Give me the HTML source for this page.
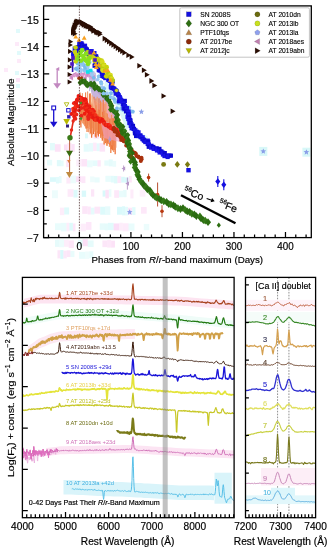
<!DOCTYPE html>
<html><head><meta charset="utf-8"><style>
html,body{margin:0;padding:0;background:#fff;width:330px;height:550px;overflow:hidden}
svg{display:block;filter:blur(0.3px)}
</style></head><body>
<svg width="330" height="550" viewBox="0 0 330 550">
<rect width="330" height="550" fill="#fff"/>
<rect x="50" y="142.97" width="4.89" height="7.38" fill="#d0f8f8" opacity="0.59"/><rect x="54.89" y="144.24" width="5.73" height="7.54" fill="#f9c8f0" opacity="0.5"/><rect x="63.98" y="144.45" width="3.25" height="6.01" fill="#f9c8f0" opacity="0.59"/><rect x="67.23" y="142.93" width="4.31" height="8.06" fill="#fbd6f4" opacity="0.52"/><rect x="71.54" y="144.06" width="3.15" height="7.78" fill="#f9c8f0" opacity="0.54"/><rect x="83.66" y="144.19" width="5.06" height="7.54" fill="#c4f6f8" opacity="0.44"/><rect x="88.72" y="143.08" width="4.34" height="8.45" fill="#c4f6f8" opacity="0.4"/><rect x="93.06" y="142.67" width="3.59" height="8.33" fill="#fbd6f4" opacity="0.49"/><rect x="96.65" y="143.36" width="2.95" height="7.79" fill="#c4f6f8" opacity="0.48"/><rect x="99.6" y="143.13" width="5.42" height="8.49" fill="#f9c8f0" opacity="0.5"/><rect x="47" y="159.79" width="5.16" height="5.65" fill="#d0f8f8" opacity="0.49"/><rect x="56.84" y="160.04" width="4.02" height="6.18" fill="#c4f6f8" opacity="0.52"/><rect x="60.86" y="160.49" width="2.75" height="5.77" fill="#c4f6f8" opacity="0.44"/><rect x="66.13" y="159.61" width="2.77" height="7.47" fill="#fbd6f4" opacity="0.64"/><rect x="76.2" y="159.28" width="5.3" height="6.97" fill="#fbd6f4" opacity="0.4"/><rect x="81.49" y="159.06" width="5.56" height="7.46" fill="#f9c8f0" opacity="0.48"/><rect x="87.05" y="160.28" width="5.51" height="6.98" fill="#d0f8f8" opacity="0.43"/><rect x="92.56" y="160.48" width="4.91" height="5.51" fill="#c4f6f8" opacity="0.42"/><rect x="97.46" y="160.23" width="3.3" height="6.26" fill="#fbd6f4" opacity="0.57"/><rect x="104.3" y="160.38" width="4.4" height="5.33" fill="#c4f6f8" opacity="0.39"/><rect x="108.7" y="159.36" width="4.12" height="7.05" fill="#d0f8f8" opacity="0.55"/><rect x="112.82" y="160.91" width="3.3" height="5.94" fill="#c4f6f8" opacity="0.36"/><rect x="50" y="177.23" width="5.94" height="4.63" fill="#c4f6f8" opacity="0.61"/><rect x="55.94" y="176.97" width="3.01" height="6.52" fill="#c4f6f8" opacity="0.49"/><rect x="58.94" y="176.1" width="2.63" height="6.92" fill="#c4f6f8" opacity="0.43"/><rect x="66.36" y="177.25" width="4.13" height="6.35" fill="#f9c8f0" opacity="0.39"/><rect x="70.49" y="175.64" width="5.65" height="7.58" fill="#d0f8f8" opacity="0.38"/><rect x="76.14" y="176.24" width="5.17" height="5.75" fill="#f9c8f0" opacity="0.55"/><rect x="81.31" y="176.32" width="4.1" height="6.77" fill="#fbd6f4" opacity="0.58"/><rect x="90.06" y="176.48" width="4.43" height="5.71" fill="#d0f8f8" opacity="0.37"/><rect x="94.49" y="177.38" width="5.15" height="5.12" fill="#d0f8f8" opacity="0.48"/><rect x="105.36" y="175.83" width="5.51" height="6.01" fill="#c4f6f8" opacity="0.37"/><rect x="110.87" y="175.86" width="2.98" height="6.68" fill="#c4f6f8" opacity="0.49"/><rect x="113.85" y="175.94" width="3.58" height="7.47" fill="#d0f8f8" opacity="0.65"/><rect x="117.43" y="176.13" width="3.8" height="6.94" fill="#fbd6f4" opacity="0.57"/><rect x="121.23" y="176.82" width="3.61" height="5.76" fill="#c4f6f8" opacity="0.62"/><rect x="124.84" y="177.37" width="3.93" height="5.26" fill="#c4f6f8" opacity="0.64"/><rect x="128.77" y="176.08" width="3.07" height="6.43" fill="#fbd6f4" opacity="0.62"/><rect x="52" y="190.26" width="5.9" height="7.97" fill="#d0f8f8" opacity="0.38"/><rect x="67.58" y="189.21" width="5.93" height="7.59" fill="#fbd6f4" opacity="0.52"/><rect x="73.51" y="189.78" width="4.01" height="7.73" fill="#c4f6f8" opacity="0.58"/><rect x="81.73" y="190.61" width="4.39" height="6.26" fill="#c4f6f8" opacity="0.62"/><rect x="90.98" y="189.3" width="3.23" height="7.28" fill="#f9c8f0" opacity="0.46"/><rect x="102.66" y="190.41" width="2.78" height="6.22" fill="#c4f6f8" opacity="0.64"/><rect x="105.44" y="189.84" width="3.46" height="8.46" fill="#f9c8f0" opacity="0.5"/><rect x="108.9" y="189.2" width="2.53" height="7.66" fill="#d0f8f8" opacity="0.43"/><rect x="114.19" y="190.22" width="4.86" height="7.64" fill="#fbd6f4" opacity="0.56"/><rect x="119.05" y="190.77" width="4.04" height="6.46" fill="#d0f8f8" opacity="0.48"/><rect x="123.09" y="189.86" width="3.47" height="7.34" fill="#d0f8f8" opacity="0.51"/><rect x="130.39" y="189.42" width="3.04" height="8.95" fill="#fbd6f4" opacity="0.47"/><rect x="139.73" y="190.05" width="5.75" height="6.62" fill="#fbd6f4" opacity="0.38"/><rect x="59.92" y="207.66" width="4.29" height="7.5" fill="#fbd6f4" opacity="0.45"/><rect x="64.2" y="207.42" width="4.88" height="7.1" fill="#c4f6f8" opacity="0.53"/><rect x="82.2" y="206.17" width="5.37" height="7.71" fill="#f9c8f0" opacity="0.45"/><rect x="87.56" y="206.53" width="3.27" height="7.9" fill="#fbd6f4" opacity="0.59"/><rect x="90.83" y="207.67" width="3.63" height="6.81" fill="#c4f6f8" opacity="0.42"/><rect x="94.46" y="206.69" width="5.75" height="6.95" fill="#f9c8f0" opacity="0.44"/><rect x="100.21" y="206.75" width="5.01" height="7.93" fill="#c4f6f8" opacity="0.57"/><rect x="105.21" y="206.31" width="5.1" height="8.64" fill="#c4f6f8" opacity="0.43"/><rect x="117.01" y="206.81" width="5.09" height="7.93" fill="#c4f6f8" opacity="0.63"/><rect x="122.1" y="206.21" width="2.83" height="9.13" fill="#c4f6f8" opacity="0.59"/><rect x="124.94" y="206.83" width="3.05" height="8.58" fill="#c4f6f8" opacity="0.45"/><rect x="127.99" y="207.74" width="4.18" height="7.11" fill="#f9c8f0" opacity="0.46"/><rect x="132.17" y="207.15" width="3.3" height="7.88" fill="#d0f8f8" opacity="0.64"/><rect x="141.03" y="207.03" width="5.65" height="6.66" fill="#fbd6f4" opacity="0.57"/><rect x="55" y="223.24" width="5.82" height="6.87" fill="#d0f8f8" opacity="0.47"/><rect x="60.82" y="222.85" width="5.71" height="8.51" fill="#d0f8f8" opacity="0.46"/><rect x="66.53" y="222.81" width="2.85" height="8.46" fill="#fbd6f4" opacity="0.45"/><rect x="69.38" y="222.84" width="3.53" height="7.7" fill="#c4f6f8" opacity="0.56"/><rect x="72.91" y="223.45" width="2.59" height="7.86" fill="#fbd6f4" opacity="0.61"/><rect x="80.48" y="223.71" width="5.49" height="7.55" fill="#fbd6f4" opacity="0.43"/><rect x="85.96" y="222" width="5.49" height="7.89" fill="#fbd6f4" opacity="0.58"/><rect x="99.76" y="223.33" width="5.17" height="6.61" fill="#d0f8f8" opacity="0.51"/><rect x="104.93" y="223.49" width="3.06" height="6.92" fill="#d0f8f8" opacity="0.55"/><rect x="107.99" y="222.82" width="5.65" height="7.31" fill="#c4f6f8" opacity="0.49"/><rect x="113.64" y="223.48" width="5.64" height="6.95" fill="#f9c8f0" opacity="0.6"/><rect x="119.28" y="222.75" width="3.32" height="7.87" fill="#fbd6f4" opacity="0.44"/><rect x="122.61" y="223.26" width="5.96" height="8.11" fill="#fbd6f4" opacity="0.48"/><rect x="128.56" y="223.44" width="5.93" height="7.22" fill="#d0f8f8" opacity="0.46"/><rect x="143.73" y="223.95" width="5.54" height="6.29" fill="#d0f8f8" opacity="0.4"/><rect x="85" y="133.37" width="2.9" height="4.94" fill="#c4f6f8" opacity="0.63"/><rect x="93.6" y="132.93" width="5.57" height="5.7" fill="#f9c8f0" opacity="0.5"/><rect x="55" y="239.7" width="3.96" height="7.15" fill="#d0f8f8" opacity="0.54"/><rect x="58.96" y="239.44" width="5.06" height="7.8" fill="#d0f8f8" opacity="0.4"/><rect x="64.02" y="239.7" width="4.67" height="7.09" fill="#fbd6f4" opacity="0.43"/><rect x="68.69" y="240.38" width="5.26" height="7.56" fill="#fbd6f4" opacity="0.62"/><rect x="77.95" y="239.99" width="4.75" height="6.45" fill="#d0f8f8" opacity="0.59"/><rect x="82.7" y="239.18" width="5.09" height="7.04" fill="#f9c8f0" opacity="0.59"/><rect x="87.79" y="240.42" width="5.8" height="6.63" fill="#d0f8f8" opacity="0.53"/><rect x="102.39" y="240.47" width="4.8" height="6.68" fill="#f9c8f0" opacity="0.46"/><rect x="107.19" y="239.93" width="3.89" height="7.67" fill="#fbd6f4" opacity="0.56"/><rect x="111.08" y="240.68" width="3.85" height="6.9" fill="#f9c8f0" opacity="0.53"/><rect x="57.45" y="250.23" width="2.84" height="8.2" fill="#f9c8f0" opacity="0.45"/><rect x="60.29" y="250.05" width="3.09" height="8.87" fill="#c4f6f8" opacity="0.64"/><rect x="63.38" y="250.7" width="3.39" height="7.65" fill="#f9c8f0" opacity="0.42"/><rect x="66.77" y="250.3" width="3.69" height="6.71" fill="#f9c8f0" opacity="0.45"/><rect x="70.46" y="251.06" width="3.99" height="5.99" fill="#d0f8f8" opacity="0.47"/><rect x="79.09" y="251.88" width="5.97" height="6.95" fill="#c4f6f8" opacity="0.39"/><rect x="85.07" y="251.47" width="4.25" height="7.48" fill="#d0f8f8" opacity="0.37"/><rect x="89.32" y="251.31" width="4.02" height="6.75" fill="#d0f8f8" opacity="0.52"/><rect x="16" y="29" width="4" height="4" fill="#c4f6f8" opacity="0.5"/><rect x="15" y="42" width="4" height="4" fill="#fbd6f4" opacity="0.5"/><rect x="17" y="51" width="4" height="4" fill="#c4f6f8" opacity="0.5"/><rect x="17" y="59" width="4" height="4" fill="#fbd6f4" opacity="0.5"/><rect x="15" y="71" width="4" height="4" fill="#c4f6f8" opacity="0.5"/><rect x="16" y="78" width="4" height="4" fill="#f9c8f0" opacity="0.5"/><rect x="16" y="84" width="4" height="4" fill="#c4f6f8" opacity="0.5"/><rect x="4" y="68" width="4" height="4" fill="#fbd6f4" opacity="0.5"/>
<polygon points="104,88 108,93 113,100 116,106 119,112 121.5,118 124,124 126.5,130 129.5,126 127.5,119 125.5,113 123,107 120.5,102 117,97 114,93 111,88 108,83 105,80" fill="#d8f6f8"/>
<polygon points="133,128 137,133 142,137 147,141 152,144 147,136 141,133 136,129" fill="#e0f8f8"/>
<polygon points="92,84 98,86 103,89 106,95 108,100 100,104 94,100 91,92" fill="#c8b4dc"/>
<polygon points="94,100 100,104 108,100 111,106 114,113 117,120 119,127 121,133 112,130 104,124 98,116 95,108" fill="#f0a8b0"/>
<line x1="80" y1="94.62" x2="80" y2="124.58" stroke="#f07a3a" stroke-width="1.2"/><line x1="80.23" y1="92.41" x2="80.23" y2="124.13" stroke="#f4a070" stroke-width="1.2"/><line x1="80.92" y1="97.24" x2="80.92" y2="127.59" stroke="#ec6a30" stroke-width="1.2"/><line x1="81.19" y1="100.43" x2="81.19" y2="121.44" stroke="#f09060" stroke-width="1.2"/><line x1="81.83" y1="96.06" x2="81.83" y2="121.14" stroke="#f07a3a" stroke-width="1.2"/><line x1="82.42" y1="93.12" x2="82.42" y2="123.38" stroke="#f4a070" stroke-width="1.2"/><line x1="82.22" y1="98.26" x2="82.22" y2="118.14" stroke="#ec6a30" stroke-width="1.2"/><line x1="83.09" y1="100.54" x2="83.09" y2="117.33" stroke="#f09060" stroke-width="1.2"/><line x1="83.64" y1="99.34" x2="83.64" y2="123.73" stroke="#f07a3a" stroke-width="1.2"/><line x1="83.92" y1="99.41" x2="83.92" y2="124.66" stroke="#f4a070" stroke-width="1.2"/><line x1="84.12" y1="101.61" x2="84.12" y2="121.07" stroke="#ec6a30" stroke-width="1.2"/><line x1="84.75" y1="103.59" x2="84.75" y2="126.25" stroke="#f09060" stroke-width="1.2"/><line x1="85.39" y1="105.69" x2="85.39" y2="124.47" stroke="#f07a3a" stroke-width="1.2"/><line x1="85.82" y1="101.29" x2="85.82" y2="126.47" stroke="#f4a070" stroke-width="1.2"/><line x1="85.99" y1="99.27" x2="85.99" y2="128.62" stroke="#ec6a30" stroke-width="1.2"/><line x1="86.36" y1="103.24" x2="86.36" y2="128.38" stroke="#f09060" stroke-width="1.2"/><line x1="87.04" y1="105.25" x2="87.04" y2="132.02" stroke="#f07a3a" stroke-width="1.2"/><line x1="87.35" y1="104.12" x2="87.35" y2="125.94" stroke="#f4a070" stroke-width="1.2"/><line x1="88.05" y1="105.39" x2="88.05" y2="128.22" stroke="#ec6a30" stroke-width="1.2"/><line x1="88.72" y1="105.4" x2="88.72" y2="132.3" stroke="#f09060" stroke-width="1.2"/><line x1="89.05" y1="105.96" x2="89.05" y2="124.67" stroke="#f07a3a" stroke-width="1.2"/><line x1="89.15" y1="103.54" x2="89.15" y2="126.79" stroke="#f4a070" stroke-width="1.2"/><line x1="90.12" y1="109.46" x2="90.12" y2="129.33" stroke="#ec6a30" stroke-width="1.2"/><line x1="90.15" y1="102.55" x2="90.15" y2="134.28" stroke="#f09060" stroke-width="1.2"/><line x1="90.68" y1="101.75" x2="90.68" y2="132.96" stroke="#f07a3a" stroke-width="1.2"/><line x1="91.42" y1="104.36" x2="91.42" y2="130.61" stroke="#f4a070" stroke-width="1.2"/><line x1="91.64" y1="105.01" x2="91.64" y2="137.71" stroke="#ec6a30" stroke-width="1.2"/><line x1="92.07" y1="103.41" x2="92.07" y2="135.32" stroke="#f09060" stroke-width="1.2"/><line x1="92.55" y1="105.43" x2="92.55" y2="128.2" stroke="#f07a3a" stroke-width="1.2"/><line x1="92.94" y1="113.34" x2="92.94" y2="130.03" stroke="#f4a070" stroke-width="1.2"/><line x1="93.49" y1="108.2" x2="93.49" y2="134.06" stroke="#ec6a30" stroke-width="1.2"/><line x1="94.21" y1="112.13" x2="94.21" y2="128.59" stroke="#f09060" stroke-width="1.2"/><line x1="94.08" y1="111.85" x2="94.08" y2="130.06" stroke="#f07a3a" stroke-width="1.2"/><line x1="94.34" y1="108.01" x2="94.34" y2="131.72" stroke="#f4a070" stroke-width="1.2"/><line x1="95.34" y1="114.66" x2="95.34" y2="136.86" stroke="#ec6a30" stroke-width="1.2"/><line x1="95.59" y1="110.69" x2="95.59" y2="133.08" stroke="#f09060" stroke-width="1.2"/><line x1="96.16" y1="105.33" x2="96.16" y2="137.7" stroke="#f07a3a" stroke-width="1.2"/><line x1="96.78" y1="112.31" x2="96.78" y2="128.4" stroke="#f4a070" stroke-width="1.2"/><line x1="97.11" y1="111.35" x2="97.11" y2="129.81" stroke="#ec6a30" stroke-width="1.2"/><line x1="97.34" y1="116.68" x2="97.34" y2="132.94" stroke="#f09060" stroke-width="1.2"/><line x1="98.02" y1="109.62" x2="98.02" y2="134.85" stroke="#f07a3a" stroke-width="1.2"/><line x1="97.95" y1="111.31" x2="97.95" y2="130.88" stroke="#f4a070" stroke-width="1.2"/><line x1="98.37" y1="114.27" x2="98.37" y2="136.5" stroke="#ec6a30" stroke-width="1.2"/><line x1="99.54" y1="111.88" x2="99.54" y2="134" stroke="#f09060" stroke-width="1.2"/><line x1="99.83" y1="109.79" x2="99.83" y2="133.79" stroke="#f07a3a" stroke-width="1.2"/><line x1="100.61" y1="112.67" x2="100.61" y2="138.05" stroke="#f4a070" stroke-width="1.2"/><line x1="100.66" y1="110.35" x2="100.66" y2="136.8" stroke="#ec6a30" stroke-width="1.2"/><line x1="101.01" y1="114" x2="101.01" y2="137.41" stroke="#f09060" stroke-width="1.2"/><line x1="101.44" y1="111.73" x2="101.44" y2="135.47" stroke="#f07a3a" stroke-width="1.2"/><line x1="102.01" y1="118.28" x2="102.01" y2="138.8" stroke="#f4a070" stroke-width="1.2"/><line x1="102.33" y1="111.75" x2="102.33" y2="140.66" stroke="#ec6a30" stroke-width="1.2"/><line x1="102.95" y1="115.03" x2="102.95" y2="138.2" stroke="#f09060" stroke-width="1.2"/><line x1="103.06" y1="115.91" x2="103.06" y2="135.75" stroke="#f07a3a" stroke-width="1.2"/><line x1="103.68" y1="116.83" x2="103.68" y2="134.85" stroke="#f4a070" stroke-width="1.2"/><line x1="104.11" y1="117.75" x2="104.11" y2="144.45" stroke="#ec6a30" stroke-width="1.2"/><line x1="104.7" y1="110.84" x2="104.7" y2="144.15" stroke="#f09060" stroke-width="1.2"/><line x1="105.38" y1="115.54" x2="105.38" y2="142.98" stroke="#f07a3a" stroke-width="1.2"/><line x1="105.46" y1="118.58" x2="105.46" y2="141.98" stroke="#f4a070" stroke-width="1.2"/><line x1="106.06" y1="113.06" x2="106.06" y2="142.2" stroke="#ec6a30" stroke-width="1.2"/><line x1="106.88" y1="114.27" x2="106.88" y2="144.71" stroke="#f09060" stroke-width="1.2"/><line x1="106.99" y1="113.47" x2="106.99" y2="145.95" stroke="#f07a3a" stroke-width="1.2"/><line x1="107.61" y1="122.3" x2="107.61" y2="138.66" stroke="#f4a070" stroke-width="1.2"/><line x1="107.91" y1="123.99" x2="107.91" y2="143.36" stroke="#ec6a30" stroke-width="1.2"/><line x1="108.45" y1="117.32" x2="108.45" y2="143.94" stroke="#f09060" stroke-width="1.2"/><line x1="109.04" y1="125.97" x2="109.04" y2="142.35" stroke="#f07a3a" stroke-width="1.2"/><line x1="109.39" y1="121.23" x2="109.39" y2="146.92" stroke="#f4a070" stroke-width="1.2"/><line x1="109.93" y1="118.54" x2="109.93" y2="145.53" stroke="#ec6a30" stroke-width="1.2"/><line x1="109.84" y1="126.24" x2="109.84" y2="142.95" stroke="#f09060" stroke-width="1.2"/><line x1="110.82" y1="121.73" x2="110.82" y2="153.1" stroke="#f07a3a" stroke-width="1.2"/><line x1="110.76" y1="119.37" x2="110.76" y2="141.1" stroke="#f4a070" stroke-width="1.2"/><line x1="111.25" y1="118.8" x2="111.25" y2="149.15" stroke="#ec6a30" stroke-width="1.2"/><line x1="111.54" y1="114.84" x2="111.54" y2="145.19" stroke="#f09060" stroke-width="1.2"/><line x1="112.41" y1="118.49" x2="112.41" y2="150.38" stroke="#f07a3a" stroke-width="1.2"/><line x1="112.63" y1="118.33" x2="112.63" y2="145.83" stroke="#f4a070" stroke-width="1.2"/><line x1="113.06" y1="118.21" x2="113.06" y2="146.11" stroke="#ec6a30" stroke-width="1.2"/><line x1="113.73" y1="121.57" x2="113.73" y2="152.03" stroke="#f09060" stroke-width="1.2"/><line x1="114.04" y1="118.42" x2="114.04" y2="150.04" stroke="#f07a3a" stroke-width="1.2"/><line x1="114.7" y1="126.95" x2="114.7" y2="143.43" stroke="#f4a070" stroke-width="1.2"/><line x1="115.18" y1="128.12" x2="115.18" y2="154.27" stroke="#ec6a30" stroke-width="1.2"/><line x1="115.77" y1="127.16" x2="115.77" y2="147.71" stroke="#f09060" stroke-width="1.2"/><line x1="85.57" y1="92.39" x2="85.57" y2="107.4" stroke="#f08850" stroke-width="1.2"/><line x1="87.58" y1="91.4" x2="87.58" y2="112.03" stroke="#f4a070" stroke-width="1.2"/><line x1="89.55" y1="93.46" x2="89.55" y2="111.18" stroke="#ec7a40" stroke-width="1.2"/><line x1="90.59" y1="93.39" x2="90.59" y2="109.86" stroke="#f08850" stroke-width="1.2"/><line x1="92.19" y1="95.24" x2="92.19" y2="110.05" stroke="#f4a070" stroke-width="1.2"/><line x1="94.01" y1="96.72" x2="94.01" y2="113.72" stroke="#ec7a40" stroke-width="1.2"/><line x1="95.94" y1="98.52" x2="95.94" y2="113.83" stroke="#f08850" stroke-width="1.2"/><line x1="97.18" y1="96.67" x2="97.18" y2="111.49" stroke="#f4a070" stroke-width="1.2"/><line x1="98.97" y1="98.21" x2="98.97" y2="115.27" stroke="#ec7a40" stroke-width="1.2"/><line x1="100.55" y1="100.48" x2="100.55" y2="116.36" stroke="#f08850" stroke-width="1.2"/><line x1="101.62" y1="102.13" x2="101.62" y2="119.88" stroke="#f4a070" stroke-width="1.2"/><line x1="103.2" y1="99.85" x2="103.2" y2="121.12" stroke="#ec7a40" stroke-width="1.2"/><line x1="105.06" y1="103.79" x2="105.06" y2="124.53" stroke="#f08850" stroke-width="1.2"/><line x1="106.02" y1="101.27" x2="106.02" y2="120.45" stroke="#f4a070" stroke-width="1.2"/>
<polyline points="70.3,136.8 72.5,125 74.8,113.2 76.8,104 78.5,98.6" fill="none" stroke="#e02a18" stroke-width="1.6"/>
<circle cx="71.5" cy="130" r="1.7" fill="#e8281a"/>
<circle cx="73.2" cy="121" r="1.7" fill="#e8281a"/>
<circle cx="74.8" cy="113.2" r="1.7" fill="#e8281a"/>
<circle cx="76.2" cy="106" r="1.7" fill="#e8281a"/>
<line x1="69.6" y1="136" x2="69.6" y2="174" stroke="#b0502a" stroke-width="0.9"/>
<path d="M100,118 L118,128 L120,142 L104,138 Z" fill="#f0a0c8" opacity="0.6"/>

<circle cx="89.03" cy="107.63" r="2" fill="#f01c10"/>
<circle cx="78.96" cy="110.19" r="2" fill="#e8241a"/>
<circle cx="88.84" cy="117.53" r="2" fill="#f01c10"/>
<circle cx="76.08" cy="104.03" r="2" fill="#e8241a"/>
<circle cx="89.89" cy="114.33" r="2" fill="#f01c10"/>
<circle cx="88.28" cy="118.95" r="2" fill="#e8241a"/>
<circle cx="92.75" cy="117.41" r="2" fill="#f01c10"/>
<circle cx="89.43" cy="110.76" r="2" fill="#e8241a"/>
<circle cx="86.65" cy="105.5" r="2" fill="#f01c10"/>
<circle cx="89.07" cy="115.61" r="2" fill="#e8241a"/>
<circle cx="88.29" cy="110.77" r="2" fill="#f01c10"/>
<circle cx="81.25" cy="107.98" r="2" fill="#e8241a"/>
<circle cx="74.18" cy="116.45" r="2" fill="#f01c10"/>
<circle cx="84.62" cy="107.56" r="2" fill="#e8241a"/>
<circle cx="84.73" cy="113.84" r="2" fill="#f01c10"/>
<circle cx="81.32" cy="115.78" r="2" fill="#e8241a"/>
<circle cx="92.35" cy="112.53" r="2" fill="#f01c10"/>
<circle cx="76.33" cy="114.54" r="2" fill="#e8241a"/>
<circle cx="93.86" cy="111.35" r="2" fill="#f01c10"/>
<circle cx="88.11" cy="116.38" r="2" fill="#e8241a"/>
<circle cx="92.37" cy="109.77" r="2" fill="#f01c10"/>
<circle cx="75.38" cy="118.79" r="2" fill="#e8241a"/>
<circle cx="75.89" cy="104.05" r="2" fill="#f01c10"/>
<circle cx="85.29" cy="109.05" r="2" fill="#e8241a"/>
<circle cx="88.88" cy="107.51" r="2" fill="#f01c10"/>
<circle cx="92.25" cy="110.65" r="2" fill="#e8241a"/>
<circle cx="89.27" cy="106.14" r="2" fill="#f01c10"/>
<circle cx="83.2" cy="100.62" r="2" fill="#e8241a"/>
<circle cx="71.3" cy="114.07" r="2" fill="#f01c10"/><circle cx="72.86" cy="113.36" r="2" fill="#e41a14"/><circle cx="74.37" cy="113.01" r="2" fill="#f23018"/><circle cx="73.61" cy="110.59" r="2" fill="#f01c10"/><circle cx="75" cy="110.67" r="2" fill="#e41a14"/><circle cx="73.1" cy="108.81" r="2" fill="#f23018"/><circle cx="75.17" cy="108.6" r="2" fill="#f01c10"/><circle cx="75.4" cy="107.57" r="2" fill="#e41a14"/><circle cx="75.64" cy="106.82" r="2" fill="#f23018"/><circle cx="78.26" cy="106.31" r="2" fill="#f01c10"/><circle cx="73.99" cy="103.31" r="2" fill="#e41a14"/><circle cx="74.79" cy="103.54" r="2" fill="#f23018"/><circle cx="75.61" cy="102.62" r="2" fill="#f01c10"/><circle cx="76.15" cy="102.55" r="2" fill="#e41a14"/><circle cx="76.97" cy="100.59" r="2" fill="#f23018"/><circle cx="77.26" cy="99.59" r="2" fill="#f01c10"/><circle cx="77.46" cy="99.69" r="2" fill="#e41a14"/><circle cx="79.85" cy="98.68" r="2" fill="#f23018"/><circle cx="79.04" cy="97.71" r="2" fill="#f01c10"/><circle cx="78.56" cy="95.92" r="2" fill="#e41a14"/><circle cx="79.97" cy="97.38" r="2" fill="#f23018"/><circle cx="78.88" cy="97.36" r="2" fill="#f01c10"/><circle cx="81.11" cy="97.74" r="2" fill="#e41a14"/><circle cx="80.59" cy="98.8" r="2" fill="#f23018"/><circle cx="83.52" cy="99" r="2" fill="#f01c10"/><circle cx="85.35" cy="99.34" r="2" fill="#e41a14"/><circle cx="81.35" cy="101.79" r="2" fill="#f23018"/><circle cx="85.82" cy="101.27" r="2" fill="#f01c10"/><circle cx="81.83" cy="103.85" r="2" fill="#e41a14"/><circle cx="86.15" cy="103.15" r="2" fill="#f23018"/><circle cx="86.68" cy="104" r="2" fill="#f01c10"/><circle cx="86.23" cy="104.64" r="2" fill="#e41a14"/><circle cx="85.55" cy="105.94" r="2" fill="#f23018"/><circle cx="86.15" cy="106.4" r="2" fill="#f01c10"/><circle cx="87.14" cy="107.3" r="2" fill="#e41a14"/><circle cx="86.97" cy="108.38" r="2" fill="#f23018"/><circle cx="86.61" cy="110.8" r="2" fill="#f01c10"/><circle cx="89.27" cy="109.72" r="2" fill="#e41a14"/><circle cx="89.89" cy="110.53" r="2" fill="#f23018"/><circle cx="88.78" cy="111.99" r="2" fill="#f01c10"/><circle cx="90.13" cy="113.03" r="2" fill="#e41a14"/><circle cx="91.45" cy="111.79" r="2" fill="#f23018"/><circle cx="90.54" cy="113.92" r="2" fill="#f01c10"/><circle cx="92.75" cy="113.88" r="2" fill="#e41a14"/><circle cx="93.59" cy="113.56" r="2" fill="#f23018"/><circle cx="93.18" cy="115.83" r="2" fill="#f01c10"/><circle cx="93.82" cy="117.08" r="2" fill="#e41a14"/><circle cx="95.62" cy="115.14" r="2" fill="#f23018"/><circle cx="94.57" cy="119.5" r="2" fill="#f01c10"/><circle cx="97" cy="118.02" r="2" fill="#e41a14"/><circle cx="95.81" cy="119.98" r="2" fill="#f23018"/><circle cx="98.72" cy="118.42" r="2" fill="#f01c10"/><circle cx="98.24" cy="120.05" r="2" fill="#e41a14"/><circle cx="100.87" cy="118.83" r="2" fill="#f23018"/><circle cx="99.95" cy="121.87" r="2" fill="#f01c10"/><circle cx="102.31" cy="119.79" r="2" fill="#e41a14"/><circle cx="103.66" cy="121.42" r="2" fill="#f23018"/><circle cx="103.07" cy="121.52" r="2" fill="#f01c10"/><circle cx="104.17" cy="122.84" r="2" fill="#e41a14"/><circle cx="104.26" cy="123.75" r="2" fill="#f23018"/><circle cx="105.97" cy="125.13" r="2" fill="#f01c10"/><circle cx="106.02" cy="124.79" r="2" fill="#e41a14"/><circle cx="107.18" cy="124.82" r="2" fill="#f23018"/><circle cx="108.84" cy="124.88" r="2" fill="#f01c10"/><circle cx="108.38" cy="126.56" r="2" fill="#e41a14"/><circle cx="110.02" cy="125.87" r="2" fill="#f23018"/><circle cx="110.12" cy="127.35" r="2" fill="#f01c10"/><circle cx="110.55" cy="127.9" r="2" fill="#e41a14"/><circle cx="111.34" cy="128.19" r="2" fill="#f23018"/><circle cx="112.71" cy="128.94" r="2" fill="#f01c10"/><circle cx="113.56" cy="128.82" r="2" fill="#e41a14"/><circle cx="114.95" cy="128.67" r="2" fill="#f23018"/><circle cx="115.38" cy="130.45" r="2" fill="#f01c10"/><circle cx="116.8" cy="129.49" r="2" fill="#e41a14"/><circle cx="117.02" cy="131.74" r="2" fill="#f23018"/><circle cx="117.57" cy="131.87" r="2" fill="#f01c10"/><circle cx="118.73" cy="132.79" r="2" fill="#e41a14"/><circle cx="120.89" cy="131.1" r="2" fill="#f23018"/><circle cx="120.05" cy="133.32" r="2" fill="#f01c10"/><circle cx="120.54" cy="133.32" r="2" fill="#e41a14"/><circle cx="121.15" cy="133.93" r="2" fill="#f23018"/><circle cx="123.87" cy="134.05" r="2" fill="#f01c10"/><circle cx="123.92" cy="136.35" r="2" fill="#e41a14"/><circle cx="124.15" cy="135.55" r="2" fill="#f23018"/><circle cx="125.65" cy="136.41" r="2" fill="#f01c10"/><circle cx="125.74" cy="137.37" r="2" fill="#e41a14"/><circle cx="126.43" cy="138.5" r="2" fill="#f23018"/><circle cx="125.84" cy="139.84" r="2" fill="#f01c10"/><circle cx="126.61" cy="139.43" r="2" fill="#e41a14"/><circle cx="127.41" cy="141.12" r="2" fill="#f23018"/>
<circle cx="113.85" cy="127.86" r="2" fill="#a8300c"/><circle cx="113.87" cy="129.47" r="2" fill="#a8300c"/><circle cx="114.72" cy="131.45" r="2" fill="#a8300c"/><circle cx="116.41" cy="131.34" r="2" fill="#a8300c"/><circle cx="117.47" cy="133.37" r="2" fill="#a8300c"/><circle cx="117.57" cy="135.31" r="2" fill="#a8300c"/><circle cx="119.24" cy="135.49" r="2" fill="#a8300c"/><circle cx="120.43" cy="137.23" r="2" fill="#a8300c"/><circle cx="121.15" cy="137.82" r="2" fill="#a8300c"/><circle cx="121.16" cy="140.12" r="2" fill="#a8300c"/><circle cx="123.49" cy="139.63" r="2" fill="#a8300c"/><circle cx="123.7" cy="141.28" r="2" fill="#a8300c"/><circle cx="125.48" cy="141.86" r="2" fill="#a8300c"/><circle cx="127.01" cy="143.08" r="2" fill="#a8300c"/><circle cx="126.21" cy="145.42" r="2" fill="#a8300c"/><circle cx="128.06" cy="145.66" r="2" fill="#a8300c"/><circle cx="129.1" cy="146.61" r="2" fill="#a8300c"/><circle cx="129.09" cy="148.51" r="2" fill="#a8300c"/><circle cx="130.35" cy="149.77" r="2" fill="#a8300c"/><circle cx="131.84" cy="150.37" r="2" fill="#a8300c"/><circle cx="132.17" cy="152.66" r="2" fill="#a8300c"/><circle cx="134.14" cy="152.53" r="2" fill="#a8300c"/><circle cx="135.41" cy="153.23" r="2" fill="#a8300c"/><circle cx="135.7" cy="153.82" r="2" fill="#a8300c"/><circle cx="136.44" cy="156" r="2" fill="#a8300c"/><circle cx="138.29" cy="156.49" r="2" fill="#a8300c"/><circle cx="138.92" cy="157.51" r="2" fill="#a8300c"/><circle cx="141.5" cy="157.81" r="2" fill="#a8300c"/><circle cx="141.57" cy="159.33" r="2" fill="#a8300c"/><circle cx="140.82" cy="160.93" r="2" fill="#a8300c"/>
<line x1="148.6" y1="173.6" x2="148.6" y2="181.6" stroke="#b03a1a" stroke-width="0.9"/>
<circle cx="148.6" cy="177.6" r="1.8" fill="#b8380e"/>
<line x1="157.6" y1="182.5" x2="157.6" y2="206.5" stroke="#b03a1a" stroke-width="0.9"/>
<circle cx="157.6" cy="194.5" r="1.8" fill="#b8380e"/>
<line x1="162" y1="205.2" x2="162" y2="217.2" stroke="#b03a1a" stroke-width="0.9"/>
<circle cx="162" cy="211.2" r="1.8" fill="#b8380e"/>
<polygon points="81,101.16 82.44,103 81,104.84 79.56,103" fill="#3a9a2a"/>
<polygon points="81,116.76 82.44,118.6 81,120.44 79.56,118.6" fill="#3a9a2a"/>
<line x1="89.7" y1="70.66" x2="89.7" y2="91.1" stroke="#a8a8d8" stroke-width="0.9"/>
<line x1="90.8" y1="73.27" x2="90.8" y2="88.68" stroke="#a8a8d8" stroke-width="0.9"/>
<line x1="91.9" y1="72.18" x2="91.9" y2="91.67" stroke="#a8a8d8" stroke-width="0.9"/>
<line x1="93" y1="71.61" x2="93" y2="89.35" stroke="#a8a8d8" stroke-width="0.9"/>
<line x1="94.1" y1="71.49" x2="94.1" y2="90.71" stroke="#a8a8d8" stroke-width="0.9"/>
<line x1="95.2" y1="72.75" x2="95.2" y2="90.8" stroke="#a8a8d8" stroke-width="0.9"/>
<polygon points="69.02,78.26 73.04,75.96 73.04,80.56" fill="#d890c8"/><polygon points="68.8,76.66 72.82,74.36 72.82,78.96" fill="#c888c0"/><polygon points="70.49,75.48 74.52,73.18 74.52,77.78" fill="#e0a0d0"/><polygon points="70.93,75.07 74.96,72.77 74.96,77.37" fill="#d890c8"/><polygon points="72.41,74.15 76.43,71.85 76.43,76.45" fill="#c888c0"/><polygon points="72.98,75.12 77.01,72.82 77.01,77.42" fill="#e0a0d0"/><polygon points="75.15,76.01 79.17,73.71 79.17,78.31" fill="#d890c8"/><polygon points="75.37,74.83 79.39,72.53 79.39,77.13" fill="#c888c0"/><polygon points="76.83,73.6 80.86,71.3 80.86,75.9" fill="#e0a0d0"/><polygon points="78.29,72.17 82.31,69.87 82.31,74.47" fill="#d890c8"/><polygon points="79.17,75.35 83.19,73.05 83.19,77.65" fill="#c888c0"/><polygon points="80.17,74.89 84.2,72.59 84.2,77.19" fill="#e0a0d0"/><polygon points="81.54,73.76 85.57,71.46 85.57,76.06" fill="#d890c8"/><polygon points="82.75,77.87 86.77,75.57 86.77,80.17" fill="#c888c0"/><polygon points="84.15,74.58 88.18,72.28 88.18,76.88" fill="#e0a0d0"/><polygon points="84.66,75.46 88.69,73.16 88.69,77.76" fill="#d890c8"/><polygon points="85.87,74.79 89.9,72.49 89.9,77.09" fill="#c888c0"/><polygon points="87.73,75.3 91.76,73 91.76,77.6" fill="#e0a0d0"/><polygon points="88.23,76.12 92.26,73.82 92.26,78.42" fill="#d890c8"/><polygon points="89.54,75.94 93.56,73.64 93.56,78.24" fill="#c888c0"/><polygon points="89.64,78.12 93.66,75.82 93.66,80.42" fill="#e0a0d0"/><polygon points="91.18,77.17 95.2,74.87 95.2,79.47" fill="#d890c8"/>
<polygon points="88.4,82.56 92.07,80.46 92.07,84.66" fill="#c8a0d0"/><polygon points="92.24,84.09 95.92,81.99 95.92,86.19" fill="#c8a0d0"/><polygon points="92.23,87.33 95.9,85.23 95.9,89.43" fill="#c8a0d0"/><polygon points="95.42,88.44 99.1,86.34 99.1,90.54" fill="#c8a0d0"/><polygon points="97.52,89.54 101.19,87.44 101.19,91.64" fill="#c8a0d0"/><polygon points="100.45,91.18 104.13,89.08 104.13,93.28" fill="#c8a0d0"/>
<line x1="109.5" y1="136.5" x2="109.5" y2="142.5" stroke="#b898c8" stroke-width="0.9"/>
<polygon points="107.4,139.5 111.08,137.4 111.08,141.6" fill="#b898c8"/>
<line x1="123.6" y1="165.5" x2="123.6" y2="171.5" stroke="#b898c8" stroke-width="0.9"/>
<polygon points="121.5,168.5 125.17,166.4 125.17,170.6" fill="#b898c8"/>
<line x1="127.4" y1="177.6" x2="127.4" y2="189.6" stroke="#b898c8" stroke-width="0.9"/>
<polygon points="125.3,183.6 128.97,181.5 128.97,185.7" fill="#b898c8"/>
<line x1="57.2" y1="69" x2="57.2" y2="85" stroke="#c288c0" stroke-width="1.3"/>
<polygon points="53.3,83.3 61,83.3 57.2,88.7" fill="#c288c0"/>
<polygon points="55.6,69 59.28,66.9 59.28,71.1" fill="#c288c0"/>
<circle cx="84.44" cy="84.03" r="1.3" fill="#b0a0cc"/><circle cx="85.76" cy="84.05" r="1.3" fill="#b0a0cc"/><circle cx="87.9" cy="84.98" r="1.3" fill="#b0a0cc"/><circle cx="89.9" cy="85.7" r="1.3" fill="#b0a0cc"/><circle cx="91.15" cy="87.46" r="1.3" fill="#b0a0cc"/><circle cx="93.23" cy="88.31" r="1.3" fill="#b0a0cc"/><circle cx="94.62" cy="88.82" r="1.3" fill="#b0a0cc"/><circle cx="96.18" cy="90.21" r="1.3" fill="#b0a0cc"/><circle cx="98.49" cy="91.16" r="1.3" fill="#b0a0cc"/><circle cx="98.96" cy="92.34" r="1.3" fill="#b0a0cc"/><circle cx="100.55" cy="93.97" r="1.3" fill="#b0a0cc"/><circle cx="102.52" cy="94.91" r="1.3" fill="#b0a0cc"/><circle cx="103.77" cy="97.53" r="1.3" fill="#b0a0cc"/><circle cx="104.82" cy="97.83" r="1.3" fill="#b0a0cc"/><circle cx="105.46" cy="99.79" r="1.3" fill="#b0a0cc"/><circle cx="106.92" cy="101.02" r="1.3" fill="#b0a0cc"/><circle cx="107.79" cy="102.43" r="1.3" fill="#b0a0cc"/><circle cx="109.53" cy="104.46" r="1.3" fill="#b0a0cc"/><circle cx="110.79" cy="106.17" r="1.3" fill="#b0a0cc"/><circle cx="111.29" cy="107.72" r="1.3" fill="#b0a0cc"/><circle cx="111.99" cy="109.4" r="1.3" fill="#b0a0cc"/><circle cx="113.86" cy="111.38" r="1.3" fill="#b0a0cc"/><circle cx="113.62" cy="113.61" r="1.3" fill="#b0a0cc"/><circle cx="114.97" cy="115.66" r="1.3" fill="#b0a0cc"/><circle cx="115.26" cy="116.86" r="1.3" fill="#b0a0cc"/><circle cx="116.67" cy="118.49" r="1.3" fill="#b0a0cc"/><circle cx="117.54" cy="120.24" r="1.3" fill="#b0a0cc"/><circle cx="118.12" cy="122.38" r="1.3" fill="#b0a0cc"/><circle cx="117.82" cy="124.48" r="1.3" fill="#b0a0cc"/><circle cx="118.64" cy="126.27" r="1.3" fill="#b0a0cc"/>
<circle cx="79" cy="78.2" r="1.8" fill="#a03a10"/>
<circle cx="81.5" cy="77.8" r="1.6" fill="#a03a10"/>
<polygon points="80.11,79.57 82.54,82.67 80.11,85.78 77.68,82.67" fill="#2d6e12"/><polygon points="80.57,79.3 83,82.4 80.57,85.51 78.14,82.4" fill="#2a6a10"/><polygon points="81.4,78.13 83.83,81.24 81.4,84.34 78.97,81.24" fill="#357a18"/><polygon points="82.48,78.24 84.91,81.34 82.48,84.45 80.05,81.34" fill="#2d6e12"/><polygon points="83.88,78.24 86.31,81.35 83.88,84.45 81.45,81.35" fill="#2a6a10"/><polygon points="84.98,78.09 87.41,81.19 84.98,84.3 82.55,81.19" fill="#357a18"/><polygon points="85.37,79.56 87.8,82.66 85.37,85.77 82.94,82.66" fill="#2d6e12"/><polygon points="86.36,81.74 88.79,84.84 86.36,87.95 83.93,84.84" fill="#2a6a10"/><polygon points="87.5,80.7 89.93,83.8 87.5,86.91 85.07,83.8" fill="#357a18"/><polygon points="87.73,82.25 90.16,85.35 87.73,88.46 85.3,85.35" fill="#2d6e12"/><polygon points="90.27,80.83 92.7,83.93 90.27,87.04 87.84,83.93" fill="#2a6a10"/><polygon points="91.23,80.86 93.66,83.97 91.23,87.07 88.8,83.97" fill="#357a18"/><polygon points="91.94,81.68 94.37,84.79 91.94,87.89 89.51,84.79" fill="#2d6e12"/><polygon points="94.13,80.41 96.56,83.51 94.13,86.62 91.7,83.51" fill="#2a6a10"/><polygon points="93.75,83.25 96.18,86.36 93.75,89.46 91.32,86.36" fill="#357a18"/><polygon points="94.81,82.79 97.24,85.89 94.81,89 92.38,85.89" fill="#2d6e12"/><polygon points="94.79,85.32 97.22,88.42 94.79,91.53 92.36,88.42" fill="#2a6a10"/><polygon points="96.77,84.03 99.2,87.14 96.77,90.24 94.34,87.14" fill="#357a18"/><polygon points="97.43,84.58 99.86,87.68 97.43,90.79 95,87.68" fill="#2d6e12"/><polygon points="98.67,86.07 101.1,89.17 98.67,92.28 96.24,89.17" fill="#2a6a10"/><polygon points="99.75,85.97 102.18,89.07 99.75,92.18 97.32,89.07" fill="#357a18"/><polygon points="100.42,86.57 102.85,89.67 100.42,92.78 97.99,89.67" fill="#2d6e12"/><polygon points="101.89,86.68 104.32,89.78 101.89,92.89 99.46,89.78" fill="#2a6a10"/><polygon points="102.68,87.63 105.11,90.73 102.68,93.84 100.25,90.73" fill="#357a18"/><polygon points="103.36,89.01 105.79,92.11 103.36,95.22 100.93,92.11" fill="#2d6e12"/><polygon points="104.08,89.52 106.51,92.62 104.08,95.73 101.65,92.62" fill="#2a6a10"/><polygon points="103.77,91.36 106.2,94.46 103.77,97.57 101.34,94.46" fill="#357a18"/><polygon points="103.14,91.99 105.57,95.09 103.14,98.2 100.71,95.09" fill="#2d6e12"/><polygon points="105.54,92.72 107.97,95.82 105.54,98.93 103.11,95.82" fill="#2a6a10"/><polygon points="106.74,93.13 109.17,96.23 106.74,99.34 104.31,96.23" fill="#357a18"/><polygon points="107.41,93.26 109.84,96.36 107.41,99.47 104.98,96.36" fill="#2d6e12"/><polygon points="106.57,95.56 109,98.67 106.57,101.77 104.14,98.67" fill="#2a6a10"/><polygon points="107.95,95.97 110.38,99.08 107.95,102.18 105.52,99.08" fill="#357a18"/><polygon points="109.1,96.06 111.53,99.17 109.1,102.27 106.67,99.17" fill="#2d6e12"/><polygon points="109.13,98.26 111.56,101.37 109.13,104.47 106.7,101.37" fill="#2a6a10"/><polygon points="109.89,98.91 112.32,102.01 109.89,105.12 107.46,102.01" fill="#357a18"/><polygon points="110.18,100.24 112.61,103.35 110.18,106.45 107.75,103.35" fill="#2d6e12"/><polygon points="110.67,100.76 113.1,103.86 110.67,106.97 108.24,103.86" fill="#2a6a10"/><polygon points="110.53,102.32 112.96,105.42 110.53,108.53 108.1,105.42" fill="#357a18"/><polygon points="111.9,102.53 114.33,105.63 111.9,108.74 109.47,105.63" fill="#2d6e12"/><polygon points="111.61,104.01 114.04,107.12 111.61,110.22 109.18,107.12" fill="#2a6a10"/><polygon points="110.45,106.47 112.88,109.57 110.45,112.68 108.02,109.57" fill="#357a18"/><polygon points="111.67,106.31 114.1,109.42 111.67,112.52 109.24,109.42" fill="#2d6e12"/><polygon points="112.89,107.19 115.32,110.3 112.89,113.4 110.46,110.3" fill="#2a6a10"/><polygon points="113.53,107.76 115.96,110.87 113.53,113.97 111.1,110.87" fill="#357a18"/><polygon points="116.58,107.69 119.01,110.79 116.58,113.9 114.15,110.79" fill="#2d6e12"/><polygon points="115.39,109.71 117.82,112.81 115.39,115.92 112.96,112.81" fill="#2a6a10"/><polygon points="116.14,109.98 118.57,113.09 116.14,116.19 113.71,113.09" fill="#357a18"/><polygon points="117.45,111.54 119.88,114.64 117.45,117.75 115.02,114.64" fill="#2d6e12"/><polygon points="117.4,112.1 119.83,115.21 117.4,118.31 114.97,115.21" fill="#2a6a10"/><polygon points="116.2,114.12 118.63,117.23 116.2,120.33 113.77,117.23" fill="#357a18"/><polygon points="117.01,115.33 119.44,118.44 117.01,121.54 114.58,118.44" fill="#2d6e12"/><polygon points="117.09,116.26 119.52,119.37 117.09,122.47 114.66,119.37" fill="#2a6a10"/><polygon points="118.46,116.92 120.89,120.03 118.46,123.13 116.03,120.03" fill="#357a18"/><polygon points="116.04,118.72 118.47,121.83 116.04,124.93 113.61,121.83" fill="#2d6e12"/><polygon points="117.83,119.23 120.26,122.33 117.83,125.44 115.4,122.33" fill="#2a6a10"/><polygon points="119.11,120.04 121.54,123.14 119.11,126.25 116.68,123.14" fill="#357a18"/><polygon points="117.56,121.85 119.99,124.95 117.56,128.06 115.13,124.95" fill="#2d6e12"/><polygon points="120.88,122.09 123.31,125.19 120.88,128.3 118.45,125.19" fill="#2a6a10"/><polygon points="121.15,123.04 123.58,126.15 121.15,129.25 118.72,126.15" fill="#357a18"/><polygon points="120.18,124.29 122.61,127.4 120.18,130.5 117.75,127.4" fill="#2d6e12"/><polygon points="122.94,123.54 125.37,126.64 122.94,129.75 120.51,126.64" fill="#2a6a10"/><polygon points="121.37,126.61 123.8,129.72 121.37,132.82 118.94,129.72" fill="#357a18"/><polygon points="121.44,127.71 123.87,130.81 121.44,133.92 119.01,130.81" fill="#2d6e12"/><polygon points="122.95,128.21 125.38,131.31 122.95,134.42 120.52,131.31" fill="#2a6a10"/><polygon points="124.9,127.94 127.33,131.04 124.9,134.15 122.47,131.04" fill="#357a18"/><polygon points="122.19,130.19 124.62,133.29 122.19,136.4 119.76,133.29" fill="#2d6e12"/><polygon points="125.03,130.89 127.46,133.99 125.03,137.1 122.6,133.99" fill="#2a6a10"/><polygon points="124.89,132.43 127.32,135.53 124.89,138.64 122.46,135.53" fill="#357a18"/><polygon points="127.84,131.93 130.27,135.04 127.84,138.14 125.41,135.04" fill="#2d6e12"/><polygon points="125.98,133.82 128.41,136.92 125.98,140.03 123.55,136.92" fill="#2a6a10"/><polygon points="127.29,135 129.72,138.1 127.29,141.21 124.86,138.1" fill="#357a18"/><polygon points="128.04,136.63 130.47,139.74 128.04,142.84 125.61,139.74" fill="#2d6e12"/><polygon points="128.67,137.5 131.1,140.6 128.67,143.71 126.24,140.6" fill="#2a6a10"/><polygon points="126.61,138.48 129.04,141.58 126.61,144.69 124.18,141.58" fill="#357a18"/><polygon points="128.21,139 130.64,142.11 128.21,145.21 125.78,142.11" fill="#2d6e12"/><polygon points="127.13,140.51 129.56,143.62 127.13,146.72 124.7,143.62" fill="#2a6a10"/><polygon points="129.62,140.83 132.05,143.93 129.62,147.04 127.19,143.93" fill="#357a18"/><polygon points="129.16,142.6 131.59,145.7 129.16,148.81 126.73,145.7" fill="#2d6e12"/><polygon points="128.47,143.76 130.9,146.87 128.47,149.97 126.04,146.87" fill="#2a6a10"/><polygon points="129.21,144.89 131.64,148 129.21,151.1 126.78,148" fill="#357a18"/><polygon points="130.98,145.51 133.41,148.62 130.98,151.72 128.55,148.62" fill="#2d6e12"/><polygon points="130.33,146.46 132.76,149.57 130.33,152.67 127.9,149.57" fill="#2a6a10"/><polygon points="129.54,148.32 131.97,151.43 129.54,154.53 127.11,151.43" fill="#357a18"/><polygon points="130.34,148.6 132.77,151.71 130.34,154.81 127.91,151.71" fill="#2d6e12"/><polygon points="132.58,149.91 135.01,153.01 132.58,156.12 130.15,153.01" fill="#2a6a10"/><polygon points="129.6,151.11 132.03,154.22 129.6,157.32 127.17,154.22" fill="#357a18"/><polygon points="129.15,152.72 131.58,155.83 129.15,158.93 126.72,155.83" fill="#2d6e12"/><polygon points="130.87,154.13 133.3,157.23 130.87,160.34 128.44,157.23" fill="#2a6a10"/><polygon points="131.69,154.58 134.12,157.69 131.69,160.79 129.26,157.69" fill="#357a18"/><polygon points="132.5,155.04 134.93,158.14 132.5,161.25 130.07,158.14" fill="#2d6e12"/><polygon points="133.62,155.88 136.05,158.98 133.62,162.09 131.19,158.98" fill="#2a6a10"/><polygon points="130.65,158.42 133.08,161.53 130.65,164.63 128.22,161.53" fill="#357a18"/><polygon points="134,158.54 136.43,161.64 134,164.75 131.57,161.64" fill="#2d6e12"/><polygon points="134.44,158.56 136.87,161.67 134.44,164.77 132.01,161.67" fill="#2a6a10"/>
<polygon points="134.81,158.41 137.87,162.32 134.81,166.23 131.75,162.32" fill="#2d6e12"/><polygon points="135.11,160.9 138.17,164.81 135.11,168.72 132.05,164.81" fill="#2a6a10"/><polygon points="134.83,163.48 137.89,167.39 134.83,171.3 131.77,167.39" fill="#357a18"/><polygon points="136.31,166.24 139.37,170.15 136.31,174.06 133.25,170.15" fill="#2d6e12"/><polygon points="137.58,168.11 140.64,172.02 137.58,175.93 134.52,172.02" fill="#2a6a10"/><polygon points="137.47,170.73 140.53,174.64 137.47,178.55 134.41,174.64" fill="#357a18"/><polygon points="138.52,172.6 141.58,176.51 138.52,180.42 135.46,176.51" fill="#2d6e12"/><polygon points="139.49,175.26 142.55,179.17 139.49,183.08 136.43,179.17" fill="#2a6a10"/><polygon points="141.14,177.95 144.2,181.86 141.14,185.77 138.08,181.86" fill="#357a18"/><polygon points="143.12,179.81 146.18,183.72 143.12,187.63 140.06,183.72" fill="#2d6e12"/><polygon points="144.22,181.92 147.28,185.83 144.22,189.74 141.16,185.83" fill="#2a6a10"/><polygon points="146.16,183.14 149.22,187.05 146.16,190.96 143.1,187.05" fill="#357a18"/><polygon points="147.4,185.4 150.46,189.31 147.4,193.22 144.34,189.31" fill="#2d6e12"/><polygon points="149.83,186.55 152.89,190.46 149.83,194.37 146.77,190.46" fill="#2a6a10"/><polygon points="151.32,189.25 154.38,193.16 151.32,197.07 148.26,193.16" fill="#357a18"/><polygon points="152.88,190.91 155.94,194.82 152.88,198.73 149.82,194.82" fill="#2d6e12"/><polygon points="155.23,192.97 158.29,196.88 155.23,200.79 152.17,196.88" fill="#2a6a10"/><polygon points="156.66,193.69 159.72,197.6 156.66,201.51 153.6,197.6" fill="#357a18"/><polygon points="159.27,194.91 162.33,198.82 159.27,202.73 156.21,198.82" fill="#2d6e12"/><polygon points="161.25,196.34 164.31,200.25 161.25,204.16 158.19,200.25" fill="#2a6a10"/><polygon points="163.77,197.33 166.83,201.24 163.77,205.15 160.71,201.24" fill="#357a18"/><polygon points="166.59,198.12 169.65,202.03 166.59,205.94 163.53,202.03" fill="#2d6e12"/><polygon points="168.83,200.1 171.89,204.01 168.83,207.92 165.77,204.01" fill="#2a6a10"/><polygon points="170.91,200.51 173.97,204.42 170.91,208.33 167.85,204.42" fill="#357a18"/><polygon points="173.42,201.35 176.48,205.26 173.42,209.17 170.36,205.26" fill="#2d6e12"/><polygon points="175.29,202.82 178.35,206.73 175.29,210.64 172.23,206.73" fill="#2a6a10"/><polygon points="177.9,204.36 180.96,208.27 177.9,212.18 174.84,208.27" fill="#357a18"/><polygon points="180.51,205.07 183.57,208.98 180.51,212.89 177.45,208.98" fill="#2d6e12"/><polygon points="182.97,204.14 186.03,208.05 182.97,211.96 179.91,208.05" fill="#2a6a10"/><polygon points="185.39,206.18 188.45,210.09 185.39,214 182.33,210.09" fill="#357a18"/><polygon points="187.33,207.53 190.39,211.44 187.33,215.35 184.27,211.44" fill="#2d6e12"/><polygon points="189.62,208.11 192.68,212.02 189.62,215.93 186.56,212.02" fill="#2a6a10"/><polygon points="191.88,209.81 194.94,213.72 191.88,217.63 188.82,213.72" fill="#357a18"/><polygon points="194.3,210.38 197.36,214.29 194.3,218.2 191.24,214.29" fill="#2d6e12"/><polygon points="196.36,212.19 199.42,216.1 196.36,220.01 193.3,216.1" fill="#2a6a10"/><polygon points="199.91,212.57 202.97,216.48 199.91,220.39 196.85,216.48" fill="#357a18"/><polygon points="200.99,214.44 204.05,218.35 200.99,222.26 197.93,218.35" fill="#2d6e12"/><polygon points="203.37,216.21 206.43,220.12 203.37,224.03 200.31,220.12" fill="#2a6a10"/><polygon points="205.22,216.79 208.28,220.7 205.22,224.61 202.16,220.7" fill="#357a18"/><polygon points="208,218.25 211.06,222.16 208,226.07 204.94,222.16" fill="#2d6e12"/>
<polygon points="218.8,222.55 220.87,225.2 218.8,227.84 216.73,225.2" fill="#2d6e12"/>
<circle cx="70" cy="137.7" r="2.7" fill="#3a7a18"/>
<polygon points="131.2,153.75 133.27,156.4 131.2,159.05 129.13,156.4" fill="#5a5a10"/>
<polygon points="78.24,65.11 80.33,66.63 79.53,69.09 76.94,69.09 76.15,66.63" fill="#88c4f0"/><polygon points="79.47,64.65 81.57,66.17 80.77,68.63 78.18,68.63 77.38,66.17" fill="#9cc8f4"/><polygon points="83.72,62.95 85.81,64.47 85.01,66.93 82.42,66.93 81.62,64.47" fill="#7ab8ec"/><polygon points="84.65,68.17 86.74,69.69 85.94,72.15 83.35,72.15 82.56,69.69" fill="#88c4f0"/><polygon points="86.09,68.2 88.18,69.72 87.38,72.17 84.79,72.17 83.99,69.72" fill="#9cc8f4"/><polygon points="89.03,68.66 91.12,70.18 90.32,72.64 87.74,72.64 86.94,70.18" fill="#7ab8ec"/><polygon points="91.71,69.78 93.8,71.3 93,73.76 90.42,73.76 89.62,71.3" fill="#88c4f0"/><polygon points="91.98,72.88 94.07,74.4 93.27,76.86 90.69,76.86 89.89,74.4" fill="#9cc8f4"/><polygon points="93.63,75.63 95.72,77.15 94.92,79.6 92.34,79.6 91.54,77.15" fill="#7ab8ec"/><polygon points="98.63,74.2 100.72,75.72 99.92,78.18 97.33,78.18 96.53,75.72" fill="#88c4f0"/><polygon points="97.65,77.39 99.75,78.91 98.95,81.37 96.36,81.37 95.56,78.91" fill="#9cc8f4"/><polygon points="101.02,79.91 103.12,81.43 102.32,83.89 99.73,83.89 98.93,81.43" fill="#7ab8ec"/><polygon points="101.4,81.51 103.49,83.03 102.69,85.49 100.11,85.49 99.31,83.03" fill="#88c4f0"/><polygon points="102.36,85.34 104.45,86.86 103.65,89.32 101.07,89.32 100.27,86.86" fill="#9cc8f4"/><polygon points="104.19,86.36 106.28,87.88 105.48,90.34 102.9,90.34 102.1,87.88" fill="#7ab8ec"/><polygon points="103.53,91.36 105.63,92.88 104.83,95.34 102.24,95.34 101.44,92.88" fill="#88c4f0"/><polygon points="106.9,91.35 109,92.87 108.2,95.33 105.61,95.33 104.81,92.87" fill="#9cc8f4"/><polygon points="111.01,91.06 113.1,92.58 112.3,95.04 109.71,95.04 108.91,92.58" fill="#7ab8ec"/><polygon points="110.55,95.09 112.64,96.61 111.84,99.07 109.26,99.07 108.46,96.61" fill="#88c4f0"/><polygon points="113.16,95.69 115.25,97.21 114.45,99.67 111.87,99.67 111.07,97.21" fill="#9cc8f4"/><polygon points="114.39,97.35 116.48,98.87 115.69,101.33 113.1,101.33 112.3,98.87" fill="#7ab8ec"/><polygon points="115.07,99.66 117.17,101.18 116.37,103.64 113.78,103.64 112.98,101.18" fill="#88c4f0"/><polygon points="118.83,100.9 120.93,102.42 120.13,104.88 117.54,104.88 116.74,102.42" fill="#9cc8f4"/><polygon points="116.92,106.19 119.01,107.71 118.22,110.17 115.63,110.17 114.83,107.71" fill="#7ab8ec"/><polygon points="120.83,106.55 122.92,108.07 122.12,110.53 119.54,110.53 118.74,108.07" fill="#88c4f0"/><polygon points="123.27,108.06 125.36,109.58 124.56,112.04 121.97,112.04 121.18,109.58" fill="#9cc8f4"/><polygon points="127.1,104.77 129.19,106.29 128.39,108.75 125.81,108.75 125.01,106.29" fill="#7ab8ec"/><polygon points="129.14,105.44 131.23,106.96 130.43,109.42 127.84,109.42 127.04,106.96" fill="#88c4f0"/><polygon points="130.94,109.11 133.03,110.63 132.23,113.09 129.64,113.09 128.85,110.63" fill="#9cc8f4"/><polygon points="132.84,109.46 134.93,110.98 134.13,113.44 131.54,113.44 130.74,110.98" fill="#7ab8ec"/>
<polygon points="87.17,68.67 89.26,70.19 88.46,72.65 85.87,72.65 85.07,70.19" fill="#88c4f0"/>
<polygon points="87.52,65.25 89.61,66.77 88.81,69.23 86.22,69.23 85.42,66.77" fill="#9cc8f4"/>
<polygon points="77.4,67.26 79.49,68.78 78.69,71.24 76.11,71.24 75.31,68.78" fill="#7ab8ec"/>
<polygon points="85.79,66.39 87.88,67.91 87.08,70.37 84.49,70.37 83.69,67.91" fill="#a8d0f4"/>
<polygon points="85.31,67.35 87.4,68.87 86.6,71.33 84.02,71.33 83.22,68.87" fill="#88c4f0"/>
<polygon points="79.12,65.53 81.21,67.05 80.41,69.51 77.82,69.51 77.02,67.05" fill="#9cc8f4"/>
<polygon points="82.52,61.69 84.61,63.21 83.81,65.67 81.23,65.67 80.43,63.21" fill="#7ab8ec"/>
<polygon points="79.57,59.59 81.66,61.11 80.86,63.57 78.27,63.57 77.47,61.11" fill="#a8d0f4"/>
<polygon points="82.12,62.04 84.21,63.56 83.41,66.02 80.83,66.02 80.03,63.56" fill="#88c4f0"/>
<polygon points="81.03,67.59 83.13,69.11 82.33,71.57 79.74,71.57 78.94,69.11" fill="#9cc8f4"/>
<polygon points="85.06,65.62 87.16,67.14 86.36,69.6 83.77,69.6 82.97,67.14" fill="#7ab8ec"/>
<polygon points="89.75,60.3 91.85,61.83 91.05,64.28 88.46,64.28 87.66,61.83" fill="#a8d0f4"/>
<polygon points="82.37,58.86 84.46,60.38 83.67,62.84 81.08,62.84 80.28,60.38" fill="#88c4f0"/>
<polygon points="80.59,68.73 82.68,70.25 81.88,72.71 79.3,72.71 78.5,70.25" fill="#9cc8f4"/>
<polygon points="75.83,66.51 77.92,68.03 77.12,70.49 74.54,70.49 73.74,68.03" fill="#7ab8ec"/>
<polygon points="87.91,63.65 90.01,65.17 89.21,67.63 86.62,67.63 85.82,65.17" fill="#a8d0f4"/>
<polygon points="86.86,62.87 88.96,64.39 88.16,66.85 85.57,66.85 84.77,64.39" fill="#88c4f0"/>
<polygon points="79.98,63.62 82.07,65.14 81.27,67.6 78.68,67.6 77.88,65.14" fill="#9cc8f4"/>
<polygon points="77.52,61.34 79.61,62.86 78.81,65.32 76.23,65.32 75.43,62.86" fill="#7ab8ec"/>
<polygon points="79.23,69.17 81.33,70.69 80.53,73.15 77.94,73.15 77.14,70.69" fill="#a8d0f4"/>
<polygon points="79.7,60.43 81.79,61.95 80.99,64.41 78.4,64.41 77.6,61.95" fill="#88c4f0"/>
<polygon points="89.07,59.39 91.16,60.91 90.36,63.37 87.77,63.37 86.97,60.91" fill="#9cc8f4"/>
<rect x="86" y="70.2" width="3.6" height="3.6" fill="#10e0e8"/>
<rect x="89.2" y="68.7" width="3.2" height="3.2" fill="#10e0e8"/>
<rect x="259.3" y="146.9" width="8" height="9" fill="#d8f8f8"/>
<rect x="302.4" y="147.7" width="8" height="9" fill="#d8f8f8"/>
<polygon points="141.4,108.8 142.19,110.71 144.25,110.87 142.68,112.22 143.16,114.23 141.4,113.15 139.64,114.23 140.12,112.22 138.55,110.87 140.61,110.71" fill="#8a9ee8"/>
<polygon points="263.3,148.4 264.09,150.31 266.15,150.47 264.58,151.82 265.06,153.83 263.3,152.75 261.54,153.83 262.02,151.82 260.45,150.47 262.51,150.31" fill="#8a9ee8"/>
<polygon points="306.4,149.2 307.19,151.11 309.25,151.27 307.68,152.62 308.16,154.63 306.4,153.55 304.64,154.63 305.12,152.62 303.55,151.27 305.61,151.11" fill="#8a9ee8"/>
<polygon points="129.7,209.2 130.49,211.11 132.55,211.27 130.98,212.62 131.46,214.63 129.7,213.55 127.94,214.63 128.42,212.62 126.85,211.27 128.91,211.11" fill="#8a9ee8"/>
<line x1="72.6" y1="52" x2="72.6" y2="72" stroke="#2a10b0" stroke-width="1.6"/>
<rect x="73.33" y="54.66" width="4.2" height="4.2" fill="#1410e0"/><rect x="71.06" y="52.14" width="4.2" height="4.2" fill="#1a14e8"/><rect x="74.93" y="52.64" width="4.2" height="4.2" fill="#0c08d0"/><rect x="72.65" y="50.47" width="4.2" height="4.2" fill="#1410e0"/><rect x="74.48" y="50.29" width="4.2" height="4.2" fill="#1a14e8"/><rect x="74.44" y="48.99" width="4.2" height="4.2" fill="#0c08d0"/><rect x="72.65" y="46.5" width="4.2" height="4.2" fill="#1410e0"/><rect x="74.65" y="46.9" width="4.2" height="4.2" fill="#1a14e8"/><rect x="75.68" y="46.12" width="4.2" height="4.2" fill="#0c08d0"/><rect x="75.73" y="45.08" width="4.2" height="4.2" fill="#1410e0"/><rect x="77.56" y="45.42" width="4.2" height="4.2" fill="#1a14e8"/><rect x="77.31" y="42.14" width="4.2" height="4.2" fill="#0c08d0"/><rect x="77.67" y="41.04" width="4.2" height="4.2" fill="#1410e0"/><rect x="79.36" y="41.16" width="4.2" height="4.2" fill="#1a14e8"/><rect x="79.99" y="42.42" width="4.2" height="4.2" fill="#0c08d0"/><rect x="81.14" y="43.94" width="4.2" height="4.2" fill="#1410e0"/><rect x="82.9" y="43.65" width="4.2" height="4.2" fill="#1a14e8"/><rect x="82.04" y="44.47" width="4.2" height="4.2" fill="#0c08d0"/><rect x="81.85" y="46.53" width="4.2" height="4.2" fill="#1410e0"/><rect x="83.69" y="46.46" width="4.2" height="4.2" fill="#1a14e8"/><rect x="84.8" y="47.35" width="4.2" height="4.2" fill="#0c08d0"/><rect x="84.76" y="48.48" width="4.2" height="4.2" fill="#1410e0"/><rect x="86.02" y="49.43" width="4.2" height="4.2" fill="#1a14e8"/><rect x="86.1" y="52.09" width="4.2" height="4.2" fill="#0c08d0"/><rect x="87.97" y="49.37" width="4.2" height="4.2" fill="#1410e0"/><rect x="89.55" y="49.04" width="4.2" height="4.2" fill="#1a14e8"/><rect x="89.42" y="51.23" width="4.2" height="4.2" fill="#0c08d0"/><rect x="92.32" y="51.02" width="4.2" height="4.2" fill="#1410e0"/><rect x="89.92" y="54.06" width="4.2" height="4.2" fill="#1a14e8"/><rect x="92.36" y="54.09" width="4.2" height="4.2" fill="#0c08d0"/><rect x="94.02" y="54.13" width="4.2" height="4.2" fill="#1410e0"/><rect x="92.91" y="55.88" width="4.2" height="4.2" fill="#1a14e8"/><rect x="94.36" y="55.66" width="4.2" height="4.2" fill="#0c08d0"/><rect x="94.56" y="56.85" width="4.2" height="4.2" fill="#1410e0"/><rect x="94.55" y="57.85" width="4.2" height="4.2" fill="#1a14e8"/><rect x="93.39" y="60.37" width="4.2" height="4.2" fill="#0c08d0"/><rect x="95.84" y="60.2" width="4.2" height="4.2" fill="#1410e0"/><rect x="94.88" y="61.59" width="4.2" height="4.2" fill="#1a14e8"/><rect x="92.5" y="63.6" width="4.2" height="4.2" fill="#0c08d0"/><rect x="96.1" y="63.85" width="4.2" height="4.2" fill="#1410e0"/><rect x="98.19" y="64.36" width="4.2" height="4.2" fill="#1a14e8"/><rect x="97.3" y="65.33" width="4.2" height="4.2" fill="#0c08d0"/><rect x="98.53" y="65.95" width="4.2" height="4.2" fill="#1410e0"/><rect x="96.64" y="67.97" width="4.2" height="4.2" fill="#1a14e8"/><rect x="97.64" y="68.41" width="4.2" height="4.2" fill="#0c08d0"/><rect x="99.7" y="69.54" width="4.2" height="4.2" fill="#1410e0"/><rect x="99.92" y="70.49" width="4.2" height="4.2" fill="#1a14e8"/><rect x="99.86" y="71.68" width="4.2" height="4.2" fill="#0c08d0"/><rect x="100.95" y="72.02" width="4.2" height="4.2" fill="#1410e0"/><rect x="100.18" y="73.86" width="4.2" height="4.2" fill="#1a14e8"/><rect x="101.62" y="74.44" width="4.2" height="4.2" fill="#0c08d0"/><rect x="102.09" y="74.59" width="4.2" height="4.2" fill="#1410e0"/><rect x="103.16" y="75.96" width="4.2" height="4.2" fill="#1a14e8"/><rect x="104.72" y="74.7" width="4.2" height="4.2" fill="#0c08d0"/><rect x="106.38" y="75.1" width="4.2" height="4.2" fill="#1410e0"/><rect x="106.11" y="77.64" width="4.2" height="4.2" fill="#1a14e8"/><rect x="107.35" y="78.24" width="4.2" height="4.2" fill="#0c08d0"/><rect x="107.92" y="78.78" width="4.2" height="4.2" fill="#1410e0"/><rect x="108.83" y="79.12" width="4.2" height="4.2" fill="#1a14e8"/><rect x="110.53" y="79.37" width="4.2" height="4.2" fill="#0c08d0"/><rect x="109.12" y="81.29" width="4.2" height="4.2" fill="#1410e0"/><rect x="109.65" y="82.25" width="4.2" height="4.2" fill="#1a14e8"/><rect x="108.94" y="83.83" width="4.2" height="4.2" fill="#0c08d0"/><rect x="108.79" y="85.04" width="4.2" height="4.2" fill="#1410e0"/><rect x="109.53" y="86.04" width="4.2" height="4.2" fill="#1a14e8"/><rect x="111.3" y="86.11" width="4.2" height="4.2" fill="#0c08d0"/><rect x="112.26" y="86.81" width="4.2" height="4.2" fill="#1410e0"/><rect x="112.89" y="88.16" width="4.2" height="4.2" fill="#1a14e8"/><rect x="113.77" y="89.11" width="4.2" height="4.2" fill="#0c08d0"/><rect x="114.15" y="90.48" width="4.2" height="4.2" fill="#1410e0"/><rect x="113.62" y="91.51" width="4.2" height="4.2" fill="#1a14e8"/><rect x="115.67" y="91.8" width="4.2" height="4.2" fill="#0c08d0"/><rect x="116.1" y="92.81" width="4.2" height="4.2" fill="#1410e0"/><rect x="116.61" y="93.24" width="4.2" height="4.2" fill="#1a14e8"/><rect x="117.35" y="94.89" width="4.2" height="4.2" fill="#0c08d0"/><rect x="117.59" y="95.25" width="4.2" height="4.2" fill="#1410e0"/><rect x="118.34" y="96.53" width="4.2" height="4.2" fill="#1a14e8"/><rect x="116.8" y="99.19" width="4.2" height="4.2" fill="#0c08d0"/><rect x="119.15" y="98.12" width="4.2" height="4.2" fill="#1410e0"/><rect x="119.93" y="99.14" width="4.2" height="4.2" fill="#1a14e8"/><rect x="122.69" y="98.8" width="4.2" height="4.2" fill="#0c08d0"/><rect x="121.36" y="100.83" width="4.2" height="4.2" fill="#1410e0"/><rect x="120.72" y="102.03" width="4.2" height="4.2" fill="#1a14e8"/><rect x="121.75" y="103.11" width="4.2" height="4.2" fill="#0c08d0"/><rect x="122.8" y="103.76" width="4.2" height="4.2" fill="#1410e0"/><rect x="121.49" y="106.07" width="4.2" height="4.2" fill="#1a14e8"/><rect x="122.46" y="106.63" width="4.2" height="4.2" fill="#0c08d0"/><rect x="124.83" y="106.05" width="4.2" height="4.2" fill="#1410e0"/><rect x="124.58" y="107.73" width="4.2" height="4.2" fill="#1a14e8"/><rect x="123.92" y="109.26" width="4.2" height="4.2" fill="#0c08d0"/><rect x="126.33" y="109.39" width="4.2" height="4.2" fill="#1410e0"/><rect x="126.25" y="110.37" width="4.2" height="4.2" fill="#1a14e8"/><rect x="126" y="112.3" width="4.2" height="4.2" fill="#0c08d0"/><rect x="126.96" y="112.55" width="4.2" height="4.2" fill="#1410e0"/><rect x="125.42" y="114.74" width="4.2" height="4.2" fill="#1a14e8"/><rect x="127.12" y="115.18" width="4.2" height="4.2" fill="#0c08d0"/><rect x="126.22" y="116.95" width="4.2" height="4.2" fill="#1410e0"/><rect x="127.76" y="117.75" width="4.2" height="4.2" fill="#1a14e8"/><rect x="128.38" y="118.39" width="4.2" height="4.2" fill="#0c08d0"/><rect x="127.79" y="119.36" width="4.2" height="4.2" fill="#1410e0"/><rect x="127.26" y="120.91" width="4.2" height="4.2" fill="#1a14e8"/><rect x="128.5" y="120.97" width="4.2" height="4.2" fill="#0c08d0"/><rect x="129.45" y="122.28" width="4.2" height="4.2" fill="#1410e0"/><rect x="128.72" y="123.81" width="4.2" height="4.2" fill="#1a14e8"/><rect x="130.86" y="123.78" width="4.2" height="4.2" fill="#0c08d0"/><rect x="129.53" y="126.15" width="4.2" height="4.2" fill="#1410e0"/><rect x="131.44" y="126.77" width="4.2" height="4.2" fill="#1a14e8"/><rect x="131.92" y="126.88" width="4.2" height="4.2" fill="#0c08d0"/><rect x="133.27" y="128.21" width="4.2" height="4.2" fill="#1410e0"/><rect x="132.78" y="129.06" width="4.2" height="4.2" fill="#1a14e8"/><rect x="132.86" y="131.2" width="4.2" height="4.2" fill="#0c08d0"/><rect x="134.88" y="129.7" width="4.2" height="4.2" fill="#1410e0"/><rect x="136.42" y="130.28" width="4.2" height="4.2" fill="#1a14e8"/><rect x="134" y="133.91" width="4.2" height="4.2" fill="#0c08d0"/><rect x="136.48" y="133.92" width="4.2" height="4.2" fill="#1410e0"/><rect x="138.31" y="133.21" width="4.2" height="4.2" fill="#1a14e8"/><rect x="138.33" y="134.36" width="4.2" height="4.2" fill="#0c08d0"/><rect x="138.7" y="135.16" width="4.2" height="4.2" fill="#1410e0"/><rect x="140.58" y="135.16" width="4.2" height="4.2" fill="#1a14e8"/><rect x="140.33" y="137" width="4.2" height="4.2" fill="#0c08d0"/><rect x="141.75" y="137.6" width="4.2" height="4.2" fill="#1410e0"/><rect x="141.76" y="138.35" width="4.2" height="4.2" fill="#1a14e8"/><rect x="142.45" y="138.56" width="4.2" height="4.2" fill="#0c08d0"/><rect x="143.22" y="139.94" width="4.2" height="4.2" fill="#1410e0"/><rect x="145.69" y="138.57" width="4.2" height="4.2" fill="#1a14e8"/><rect x="146.17" y="139.81" width="4.2" height="4.2" fill="#0c08d0"/><rect x="145.61" y="141.82" width="4.2" height="4.2" fill="#1410e0"/><rect x="146.8" y="142.42" width="4.2" height="4.2" fill="#1a14e8"/><rect x="146.66" y="144.69" width="4.2" height="4.2" fill="#0c08d0"/><rect x="149.34" y="143.71" width="4.2" height="4.2" fill="#1410e0"/><rect x="149.04" y="145.54" width="4.2" height="4.2" fill="#1a14e8"/><rect x="151.19" y="144.86" width="4.2" height="4.2" fill="#0c08d0"/><rect x="151.51" y="146.57" width="4.2" height="4.2" fill="#1410e0"/><rect x="152.08" y="146.8" width="4.2" height="4.2" fill="#1a14e8"/><rect x="154.54" y="146.22" width="4.2" height="4.2" fill="#0c08d0"/><rect x="154.51" y="147.07" width="4.2" height="4.2" fill="#1410e0"/><rect x="154.94" y="148.34" width="4.2" height="4.2" fill="#1a14e8"/><rect x="157.28" y="146.81" width="4.2" height="4.2" fill="#0c08d0"/><rect x="157.3" y="148.78" width="4.2" height="4.2" fill="#1410e0"/><rect x="157.55" y="150.38" width="4.2" height="4.2" fill="#1a14e8"/><rect x="159.23" y="149.31" width="4.2" height="4.2" fill="#0c08d0"/><rect x="160.36" y="150.39" width="4.2" height="4.2" fill="#1410e0"/><rect x="160.83" y="152.43" width="4.2" height="4.2" fill="#1a14e8"/><rect x="162.66" y="151" width="4.2" height="4.2" fill="#0c08d0"/><rect x="162.41" y="153.96" width="4.2" height="4.2" fill="#1410e0"/><rect x="163.85" y="153.78" width="4.2" height="4.2" fill="#1a14e8"/><rect x="164.89" y="153.51" width="4.2" height="4.2" fill="#0c08d0"/><rect x="165.55" y="154.89" width="4.2" height="4.2" fill="#1410e0"/><rect x="167.37" y="153.47" width="4.2" height="4.2" fill="#1a14e8"/><rect x="168.78" y="153.55" width="4.2" height="4.2" fill="#0c08d0"/>
<rect x="186.3" y="168" width="4.4" height="4.4" fill="#1410e0"/>
<line x1="217.8" y1="176.0" x2="217.8" y2="187.0" stroke="#1410e0" stroke-width="1.1"/>
<polygon points="217.8,178.28 220.32,181.5 217.8,184.72 215.28,181.5" fill="#1410e0"/>
<line x1="223.8" y1="179.3" x2="223.8" y2="190.3" stroke="#1410e0" stroke-width="1.1"/>
<polygon points="223.8,181.58 226.32,184.8 223.8,188.02 221.28,184.8" fill="#1410e0"/>
<line x1="53.7" y1="108" x2="53.7" y2="122" stroke="#1a10d0" stroke-width="1.3"/>
<polygon points="50,121.7 57.5,121.7 53.7,127.3" fill="#1a10d0"/>
<rect x="51.8" y="106" width="3.8" height="3.8" fill="#fff" stroke="#1a10d0" stroke-width="1.1"/>
<rect x="66.7" y="108.6" width="3.4" height="3.4" fill="#fff" stroke="#1a10d0" stroke-width="1.0"/>
<rect x="67.1" y="115.1" width="3.4" height="3.4" fill="#3020b0"/>
<circle cx="87.43" cy="52.46" r="2.4" fill="#c8d410"/><circle cx="87.09" cy="58.56" r="2.4" fill="#d8dc20"/><circle cx="90.15" cy="54.18" r="2.4" fill="#bccc10"/><circle cx="89.27" cy="58.77" r="2.4" fill="#c8d410"/><circle cx="91.23" cy="56.85" r="2.4" fill="#d8dc20"/><circle cx="92.27" cy="56.87" r="2.4" fill="#bccc10"/><circle cx="93.62" cy="57.83" r="2.4" fill="#c8d410"/><circle cx="94.4" cy="60.7" r="2.4" fill="#d8dc20"/><circle cx="95.3" cy="61.1" r="2.4" fill="#bccc10"/><circle cx="97.83" cy="58.96" r="2.4" fill="#c8d410"/><circle cx="99.3" cy="59.97" r="2.4" fill="#d8dc20"/><circle cx="99.86" cy="60.76" r="2.4" fill="#bccc10"/><circle cx="101.54" cy="60.69" r="2.4" fill="#c8d410"/><circle cx="102.29" cy="61.81" r="2.4" fill="#d8dc20"/><circle cx="100.32" cy="65.68" r="2.4" fill="#bccc10"/><circle cx="104.07" cy="64.88" r="2.4" fill="#c8d410"/><circle cx="104.05" cy="65.95" r="2.4" fill="#d8dc20"/><circle cx="102.49" cy="68.89" r="2.4" fill="#bccc10"/><circle cx="106.59" cy="67.26" r="2.4" fill="#c8d410"/><circle cx="102.7" cy="70.52" r="2.4" fill="#d8dc20"/><circle cx="105.16" cy="70.75" r="2.4" fill="#bccc10"/><circle cx="106.45" cy="71.6" r="2.4" fill="#c8d410"/><circle cx="107.29" cy="72.49" r="2.4" fill="#d8dc20"/><circle cx="108.31" cy="73.69" r="2.4" fill="#bccc10"/><circle cx="106.31" cy="76.37" r="2.4" fill="#c8d410"/><circle cx="110.5" cy="75.09" r="2.4" fill="#d8dc20"/><circle cx="110.36" cy="77.04" r="2.4" fill="#bccc10"/><circle cx="111.21" cy="78.19" r="2.4" fill="#c8d410"/><circle cx="111.89" cy="78.97" r="2.4" fill="#d8dc20"/><circle cx="112.57" cy="80.68" r="2.4" fill="#bccc10"/>
<circle cx="75.49" cy="47.56" r="2.3" fill="#c8d410"/><circle cx="75.04" cy="52.11" r="2.3" fill="#c8d410"/><circle cx="76.27" cy="54.69" r="2.3" fill="#c8d410"/><circle cx="75.53" cy="58.23" r="2.3" fill="#c8d410"/><circle cx="75.8" cy="61.37" r="2.3" fill="#c8d410"/>
<circle cx="80.51" cy="52.22" r="2.4" fill="#88e020"/><circle cx="77.64" cy="58.97" r="2.4" fill="#88e020"/><circle cx="84" cy="58.68" r="2.4" fill="#88e020"/><circle cx="87.99" cy="63.74" r="2.4" fill="#88e020"/><circle cx="85.9" cy="60.61" r="2.4" fill="#88e020"/><circle cx="88.15" cy="62.32" r="2.4" fill="#88e020"/><circle cx="82.19" cy="50.17" r="2.4" fill="#88e020"/><circle cx="79.5" cy="55.21" r="2.4" fill="#88e020"/><circle cx="83.14" cy="56.05" r="2.4" fill="#88e020"/><circle cx="85.91" cy="53.84" r="2.4" fill="#88e020"/><circle cx="80.97" cy="60.62" r="2.4" fill="#88e020"/><circle cx="89.07" cy="58.05" r="2.4" fill="#88e020"/>
<circle cx="116.5" cy="90.5" r="2.1" fill="#d4d81a" stroke="#2020c0" stroke-width="0.8"/>
<polygon points="75.7,34.4 78.1,38.6 73.3,38.6" fill="#f8a020"/>
<polygon points="84.2,35.6 86.6,39.8 81.8,39.8" fill="#f8a020"/>
<polygon points="79,37.6 81.4,41.8 76.6,41.8" fill="#f8a020"/>
<polygon points="93.9,50.2 96.3,54.4 91.5,54.4" fill="#f8a020"/>
<polygon points="98.7,62.3 101.1,66.5 96.3,66.5" fill="#f8a020"/>
<polygon points="96.3,64.8 98.7,69 93.9,69" fill="#f8a020"/>
<polygon points="95.7,61.8 98.1,66 93.3,66" fill="#f8a020"/>
<polygon points="104.8,68.4 107.2,72.6 102.4,72.6" fill="#f8a020"/>
<polygon points="107.8,67.9 110.2,72.1 105.4,72.1" fill="#f8a020"/>
<polygon points="112.7,81.2 115.1,85.4 110.3,85.4" fill="#f8a020"/>
<polygon points="110.5,77.6 112.9,81.8 108.1,81.8" fill="#f8a020"/>
<rect x="88.4" y="50.8" width="3.6" height="3.6" fill="#5018c0"/>
<rect x="93.2" y="58.2" width="3.6" height="3.6" fill="#5018c0"/>
<rect x="71.2" y="56.2" width="3.6" height="3.6" fill="#5018c0"/>
<rect x="70.2" y="62.2" width="3.6" height="3.6" fill="#5018c0"/>
<polygon points="66.6,106.8 68.9,102.78 64.3,102.78" fill="none" stroke="#b8c020" stroke-width="1.0"/>
<polygon points="66.6,124.9 69.9,119.12 63.3,119.12" fill="#b8b800"/>
<rect x="66" y="124.5" width="3" height="3" fill="#302080"/>
<polygon points="69.5,156.8 73,150.68 66,150.68" fill="#3a6a10"/>
<polygon points="68.8,162.95 70.55,159.89 67.05,159.89" fill="#e08040"/>
<polygon points="69.4,178 72.9,171.88 65.9,171.88" fill="#c08a40"/>
<circle cx="163.6" cy="164.4" r="2.4" fill="#7a7a12"/>
<polygon points="177.3,161.06 179.91,164.4 177.3,167.74 174.69,164.4" fill="#7a7a12"/>
<polygon points="187.5,161.16 190.11,164.5 187.5,167.84 184.89,164.5" fill="#7a7a12"/>
<polygon points="72.2,82 67.65,79.4 67.65,84.6" fill="#2a0e04"/>
<polygon points="72.2,74.5 67.65,71.9 67.65,77.1" fill="#2a0e04"/>
<polygon points="72.2,67 67.65,64.4 67.65,69.6" fill="#2a0e04"/>
<polygon points="72.4,59.9 67.85,57.3 67.85,62.5" fill="#2a0e04"/>
<polygon points="72.6,51.4 68.05,48.8 68.05,54" fill="#2a0e04"/>
<polygon points="72.9,45 68.35,42.4 68.35,47.6" fill="#2a0e04"/>
<polygon points="73.2,41.7 68.65,39.1 68.65,44.3" fill="#2a0e04"/>
<polygon points="77.56,33.73 72.66,30.93 72.66,36.53" fill="#2a0e04"/><polygon points="76,32.71 71.1,29.91 71.1,35.51" fill="#2a0e04"/><polygon points="75.92,32.02 71.02,29.22 71.02,34.82" fill="#2a0e04"/><polygon points="76.28,31.15 71.38,28.35 71.38,33.95" fill="#2a0e04"/><polygon points="76.33,29.69 71.43,26.89 71.43,32.49" fill="#2a0e04"/><polygon points="76.64,28.62 71.74,25.82 71.74,31.42" fill="#2a0e04"/><polygon points="77.2,27.95 72.3,25.15 72.3,30.75" fill="#2a0e04"/><polygon points="77.22,27.35 72.32,24.55 72.32,30.15" fill="#2a0e04"/><polygon points="78.19,25.9 73.29,23.1 73.29,28.7" fill="#2a0e04"/><polygon points="77.61,25.29 72.71,22.49 72.71,28.09" fill="#2a0e04"/><polygon points="78.7,24.16 73.8,21.36 73.8,26.96" fill="#2a0e04"/><polygon points="78.72,23.37 73.82,20.57 73.82,26.17" fill="#2a0e04"/><polygon points="78.98,22.24 74.08,19.44 74.08,25.04" fill="#2a0e04"/><polygon points="79.61,21.51 74.71,18.71 74.71,24.31" fill="#2a0e04"/><polygon points="80.52,21.37 75.62,18.57 75.62,24.17" fill="#2a0e04"/><polygon points="81.92,22.18 77.02,19.38 77.02,24.98" fill="#2a0e04"/><polygon points="82.83,21.98 77.93,19.18 77.93,24.78" fill="#2a0e04"/><polygon points="83.99,21.91 79.09,19.11 79.09,24.71" fill="#2a0e04"/><polygon points="84.87,22.83 79.97,20.03 79.97,25.63" fill="#2a0e04"/><polygon points="85.64,23.72 80.74,20.92 80.74,26.52" fill="#2a0e04"/><polygon points="86.72,23.97 81.82,21.17 81.82,26.77" fill="#2a0e04"/><polygon points="86.69,25.05 81.79,22.25 81.79,27.85" fill="#2a0e04"/><polygon points="88.53,24.4 83.63,21.6 83.63,27.2" fill="#2a0e04"/><polygon points="88.59,26.02 83.69,23.22 83.69,28.82" fill="#2a0e04"/><polygon points="89.91,25.52 85.01,22.72 85.01,28.32" fill="#2a0e04"/><polygon points="90.44,26.51 85.54,23.71 85.54,29.31" fill="#2a0e04"/><polygon points="91.51,26.81 86.61,24.01 86.61,29.61" fill="#2a0e04"/><polygon points="93.24,26.71 88.34,23.91 88.34,29.51" fill="#2a0e04"/><polygon points="93.03,28.68 88.13,25.88 88.13,31.48" fill="#2a0e04"/><polygon points="94.7,28.51 89.8,25.71 89.8,31.31" fill="#2a0e04"/><polygon points="95.22,29.02 90.32,26.22 90.32,31.82" fill="#2a0e04"/><polygon points="96.17,29.77 91.27,26.97 91.27,32.57" fill="#2a0e04"/><polygon points="96.31,30.94 91.41,28.14 91.41,33.74" fill="#2a0e04"/><polygon points="97.31,30.51 92.41,27.71 92.41,33.31" fill="#2a0e04"/><polygon points="98.82,31.27 93.92,28.47 93.92,34.07" fill="#2a0e04"/><polygon points="99.36,32.25 94.46,29.45 94.46,35.05" fill="#2a0e04"/><polygon points="100.31,32.56 95.41,29.76 95.41,35.36" fill="#2a0e04"/><polygon points="101.07,32.8 96.17,30 96.17,35.6" fill="#2a0e04"/><polygon points="102.34,32.67 97.44,29.87 97.44,35.47" fill="#2a0e04"/><polygon points="102.74,34.31 97.84,31.51 97.84,37.11" fill="#2a0e04"/>
<polygon points="107.5,38.6 102.6,35.8 102.6,41.4" fill="#2a0e04"/><polygon points="109.7,40.18 104.8,37.38 104.8,42.98" fill="#2a0e04"/><polygon points="111.9,41.76 107,38.96 107,44.56" fill="#2a0e04"/><polygon points="114.1,43.34 109.2,40.54 109.2,46.14" fill="#2a0e04"/><polygon points="116.3,44.92 111.4,42.12 111.4,47.72" fill="#2a0e04"/><polygon points="118.5,46.5 113.6,43.7 113.6,49.3" fill="#2a0e04"/><polygon points="120.7,48.08 115.8,45.28 115.8,50.88" fill="#2a0e04"/><polygon points="122.9,49.66 118,46.86 118,52.46" fill="#2a0e04"/><polygon points="125.1,51.24 120.2,48.44 120.2,54.04" fill="#2a0e04"/><polygon points="127.3,52.82 122.4,50.02 122.4,55.62" fill="#2a0e04"/><polygon points="131.3,55.2 126.4,52.4 126.4,58" fill="#2a0e04"/><polygon points="134.6,56.9 129.7,54.1 129.7,59.7" fill="#2a0e04"/><polygon points="142.2,65.8 137.3,63 137.3,68.6" fill="#2a0e04"/><polygon points="146.8,70.3 141.9,67.5 141.9,73.1" fill="#2a0e04"/><polygon points="149.8,74.8 144.9,72 144.9,77.6" fill="#2a0e04"/><polygon points="154.3,80.9 149.4,78.1 149.4,83.7" fill="#2a0e04"/><polygon points="157.3,85.5 152.4,82.7 152.4,88.3" fill="#2a0e04"/><polygon points="166.4,96 161.5,93.2 161.5,98.8" fill="#2a0e04"/><polygon points="175.5,111.2 170.6,108.4 170.6,114" fill="#2a0e04"/>
<line x1="181" y1="195.2" x2="235.5" y2="223.2" stroke="#000" stroke-width="2.4"/>
<g transform="translate(182.9,193.4) rotate(20)" font-family='"Liberation Sans", sans-serif' fill="#000" stroke="#000" stroke-width="0.2"><text x="0" y="-4" font-size="6.6">56</text><text x="7.2" y="0" font-size="10.3">Co</text><path d="M24,-3.4H31" stroke-width="1.1"/><path d="M32.6,-3.4l-3.6,-2.2v4.4z" stroke="none"/><text x="37.2" y="-4" font-size="6.6">56</text><text x="44.2" y="0" font-size="10.3">Fe</text></g>
<line x1="79.4" y1="5.9" x2="79.4" y2="237.6" stroke="#402020" stroke-width="0.7" stroke-dasharray="1.6,1.2"/>
<rect x="43.6" y="5.9" width="267.7" height="231.7" fill="none" stroke="#000" stroke-width="1.3"/>
<path d="M43.6,19.45h5.6M43.6,46.72h5.6M43.6,73.99h5.6M43.6,101.26h5.6M43.6,128.53h5.6M43.6,155.8h5.6M43.6,183.07h5.6M43.6,210.34h5.6M43.6,237.61h5.6M43.6,33.09h3.2M43.6,60.36h3.2M43.6,87.62h3.2M43.6,114.89h3.2M43.6,142.16h3.2M43.6,169.43h3.2M43.6,196.7h3.2M43.6,223.97h3.2M48.49,237.6v-3.2M58.79,237.6v-3.2M69.1,237.6v-3.2M79.4,237.6v-5.6M89.7,237.6v-3.2M100.01,237.6v-3.2M110.31,237.6v-3.2M120.62,237.6v-3.2M130.92,237.6v-5.6M141.22,237.6v-3.2M151.53,237.6v-3.2M161.83,237.6v-3.2M172.14,237.6v-3.2M182.44,237.6v-5.6M192.74,237.6v-3.2M203.05,237.6v-3.2M213.35,237.6v-3.2M223.66,237.6v-3.2M233.96,237.6v-5.6M244.26,237.6v-3.2M254.57,237.6v-3.2M264.87,237.6v-3.2M275.18,237.6v-3.2M285.48,237.6v-5.6M295.78,237.6v-3.2M306.09,237.6v-3.2" stroke="#000" stroke-width="1.25" fill="none"/>
<g font-family='"Liberation Sans", sans-serif' font-size="10.1" fill="#000" stroke="#000" stroke-width="0.18"><text x="38.9" y="23.75" text-anchor="end" textLength="18" lengthAdjust="spacingAndGlyphs">−15</text><text x="38.9" y="51.02" text-anchor="end" textLength="18" lengthAdjust="spacingAndGlyphs">−14</text><text x="38.9" y="78.29" text-anchor="end" textLength="18" lengthAdjust="spacingAndGlyphs">−13</text><text x="38.9" y="105.56" text-anchor="end" textLength="18" lengthAdjust="spacingAndGlyphs">−12</text><text x="38.9" y="132.83" text-anchor="end" textLength="18" lengthAdjust="spacingAndGlyphs">−11</text><text x="38.9" y="160.1" text-anchor="end" textLength="18" lengthAdjust="spacingAndGlyphs">−10</text><text x="38.9" y="187.37" text-anchor="end" textLength="11.9" lengthAdjust="spacingAndGlyphs">−9</text><text x="38.9" y="214.64" text-anchor="end" textLength="11.9" lengthAdjust="spacingAndGlyphs">−8</text><text x="38.9" y="241.91" text-anchor="end" textLength="11.9" lengthAdjust="spacingAndGlyphs">−7</text><text x="79.4" y="249.5" text-anchor="middle" >0</text><text x="130.92" y="249.5" text-anchor="middle" textLength="16.4" lengthAdjust="spacingAndGlyphs">100</text><text x="182.44" y="249.5" text-anchor="middle" textLength="16.4" lengthAdjust="spacingAndGlyphs">200</text><text x="233.96" y="249.5" text-anchor="middle" textLength="16.4" lengthAdjust="spacingAndGlyphs">300</text><text x="285.48" y="249.5" text-anchor="middle" textLength="16.4" lengthAdjust="spacingAndGlyphs">400</text></g>
<text x="177.3" y="262.9" text-anchor="middle" font-family='"Liberation Sans", sans-serif' font-size="9.75" stroke="#000" stroke-width="0.18" textLength="171.6" lengthAdjust="spacingAndGlyphs">Phases from <tspan font-style="italic">R</tspan>/<tspan font-style="italic">r</tspan>-band maximum (Days)</text>
<text transform="translate(14.2,122.2) rotate(-90)" text-anchor="middle" font-family='"Liberation Sans", sans-serif' font-size="9.9" stroke="#000" stroke-width="0.18" textLength="87.4" lengthAdjust="spacingAndGlyphs">Absolute Magnitude</text>
<rect x="179.8" y="7.8" width="129.6" height="49.4" rx="1.5" fill="#fff" fill-opacity="0.85" stroke="#c4c4c4" stroke-width="1"/>
<g font-family='"Liberation Sans", sans-serif' font-size="6.7" fill="#000" stroke="#000" stroke-width="0.12"><rect x="186.4" y="11.9" width="4.8" height="4.8" fill="#1410e0"/><text x="200.2" y="16.7">SN 2008S</text><polygon points="188.8,19.61 191.77,23.4 188.8,27.19 185.83,23.4" fill="#2d6e12"/><text x="200.2" y="25.8">NGC 300 OT</text><polygon points="188.8,29.5 191.8,34.75 185.8,34.75" fill="#b8844a"/><text x="200.2" y="34.9">PTF10fqs</text><circle cx="188.8" cy="41.6" r="2.6" fill="#8b2a0a"/><text x="200.2" y="44">AT 2017be</text><polygon points="188.8,53.7 191.8,48.45 185.8,48.45" fill="#b8b800"/><text x="200.2" y="53.1">AT 2012jc</text><circle cx="257.4" cy="14.3" r="2.6" fill="#6b6b10"/><text x="268.6" y="16.7">AT 2010dn</text><circle cx="257.4" cy="23.4" r="2.6" fill="#c8e020"/><text x="268.6" y="25.8">AT 2013lb</text><polygon points="257.4,29.7 260.06,31.63 259.05,34.77 255.75,34.77 254.74,31.63" fill="#8fa0ee"/><text x="268.6" y="34.9">AT 2013la</text><polygon points="254.4,41.6 259.65,38.6 259.65,44.6" fill="#c080b0"/><text x="268.6" y="44">AT 2018aes</text><polygon points="260.4,50.7 255.15,47.7 255.15,53.7" fill="#2a0e04"/><text x="268.6" y="53.1">AT 2019abn</text></g>
<polygon points="24.0,298.8 29.4,297.4 34.8,296.0 40.2,294.7 45.5,294.7 50.9,294.7 56.3,294.7 61.7,294.7 67.1,294.8 72.5,294.9 77.8,294.9 83.2,295.0 88.6,295.1 94.0,295.1 99.4,295.2 104.8,295.3 110.2,295.3 115.5,295.4 120.9,295.5 126.3,295.6 131.7,295.6 137.1,295.8 142.5,295.9 147.8,296.0 153.2,296.1 158.6,296.2 164.0,296.3 169.4,296.5 174.8,296.6 180.2,296.7 185.5,297.1 190.9,297.5 196.3,297.9 201.7,298.4 207.1,298.8 212.5,299.2 217.8,299.6 223.2,300.0 228.6,300.4 234.0,300.8 234.0,309.6 228.6,309.2 223.2,308.8 217.8,308.4 212.5,308.0 207.1,307.6 201.7,307.2 196.3,306.7 190.9,306.3 185.5,305.9 180.2,305.5 174.8,305.4 169.4,305.3 164.0,305.1 158.6,305.0 153.2,304.9 147.8,304.8 142.5,304.7 137.1,304.6 131.7,304.4 126.3,304.4 120.9,304.3 115.5,304.2 110.2,304.1 104.8,304.1 99.4,304.0 94.0,303.9 88.6,303.9 83.2,303.8 77.8,303.7 72.5,303.7 67.1,303.6 61.7,303.5 56.3,303.5 50.9,303.5 45.5,303.5 40.2,303.5 34.8,304.8 29.4,306.2 24.0,307.6" fill="#fde4f1"/>
<polygon points="24.0,317.7 29.4,316.7 34.8,315.7 40.2,314.7 45.5,313.7 50.9,312.7 56.3,311.7 61.7,310.9 67.1,310.8 72.5,310.6 77.8,310.4 83.2,310.2 88.6,310.0 94.0,309.8 99.4,310.0 104.8,310.2 110.2,310.4 115.5,310.6 120.9,310.8 126.3,311.1 131.7,311.5 137.1,311.9 142.5,312.3 147.8,312.7 153.2,313.1 158.6,313.4 164.0,313.8 169.4,314.2 174.8,314.6 180.2,315.0 185.5,315.6 190.9,316.1 196.3,316.7 201.7,317.2 207.1,317.8 212.5,318.3 217.8,318.9 223.2,319.4 228.6,320.0 234.0,320.5 234.0,328.5 228.6,328.0 223.2,327.4 217.8,326.9 212.5,326.3 207.1,325.8 201.7,325.2 196.3,324.7 190.9,324.1 185.5,323.6 180.2,323.0 174.8,322.6 169.4,322.2 164.0,321.8 158.6,321.4 153.2,321.1 147.8,320.7 142.5,320.3 137.1,319.9 131.7,319.5 126.3,319.1 120.9,318.8 115.5,318.6 110.2,318.4 104.8,318.2 99.4,318.0 94.0,317.8 88.6,318.0 83.2,318.2 77.8,318.4 72.5,318.6 67.1,318.8 61.7,318.9 56.3,319.7 50.9,320.7 45.5,321.7 40.2,322.7 34.8,323.7 29.4,324.7 24.0,325.7" fill="#effcf8"/>
<polygon points="28.0,346.2 30.7,344.5 33.5,342.4 36.2,340.4 39.0,338.6 41.7,337.5 44.5,336.4 47.2,335.3 49.9,334.1 52.7,333.3 55.4,332.5 58.2,331.8 60.9,331.5 63.7,331.3 66.4,331.2 69.2,331.1 71.9,330.9 74.6,330.8 77.4,330.6 80.1,330.5 82.9,330.4 85.6,330.3 88.4,330.2 91.1,330.2 93.8,330.1 96.6,330.0 99.3,329.9 102.1,329.8 104.8,329.8 107.6,329.7 110.3,329.6 113.1,329.5 115.8,329.4 118.5,329.3 121.3,329.3 124.0,329.2 126.8,329.1 129.5,329.0 132.3,329.0 135.0,328.9 135.0,338.9 132.3,339.0 129.5,339.0 126.8,339.1 124.0,339.2 121.3,339.3 118.5,339.3 115.8,339.4 113.1,339.5 110.3,339.6 107.6,339.7 104.8,339.8 102.1,339.8 99.3,339.9 96.6,340.0 93.8,340.1 91.1,340.2 88.4,340.2 85.6,340.3 82.9,340.4 80.1,340.5 77.4,340.6 74.6,340.8 71.9,340.9 69.2,341.1 66.4,341.2 63.7,341.3 60.9,341.5 58.2,341.8 55.4,342.5 52.7,343.3 49.9,344.1 47.2,345.3 44.5,346.4 41.7,347.5 39.0,348.6 36.2,350.4 33.5,352.4 30.7,354.5 28.0,356.2" fill="#fde8f2"/>
<polygon points="46.0,448.0 50.8,447.5 55.6,446.9 60.5,446.3 65.3,446.2 70.1,446.1 74.9,446.0 79.7,445.9 84.6,445.8 89.4,445.8 94.2,445.7 99.0,445.6 103.8,445.5 108.7,445.4 113.5,445.3 118.3,445.2 123.1,445.1 127.9,445.0 132.8,445.2 137.6,445.5 142.4,445.8 147.2,446.1 152.1,446.4 156.9,446.7 161.7,447.0 166.5,447.3 171.3,447.6 176.2,448.0 181.0,448.2 185.8,448.4 190.6,448.6 195.4,448.8 200.3,449.0 205.1,449.2 209.9,449.4 214.7,449.6 219.5,449.8 224.4,450.0 229.2,450.2 234.0,450.4 234.0,458.4 229.2,458.2 224.4,458.0 219.5,457.8 214.7,457.6 209.9,457.4 205.1,457.2 200.3,457.0 195.4,456.8 190.6,456.6 185.8,456.4 181.0,456.2 176.2,456.0 171.3,455.6 166.5,455.3 161.7,455.0 156.9,454.7 152.1,454.4 147.2,454.1 142.4,453.8 137.6,453.5 132.8,453.2 127.9,453.0 123.1,453.1 118.3,453.2 113.5,453.3 108.7,453.4 103.8,453.5 99.0,453.6 94.2,453.7 89.4,453.8 84.6,453.8 79.7,453.9 74.9,454.0 70.1,454.1 65.3,454.2 60.5,454.3 55.6,454.9 50.8,455.5 46.0,456.0" fill="#fce4f3"/>
<polygon points="63.5,480.0 67.4,480.0 71.2,480.0 75.1,480.2 78.9,480.4 82.8,480.6 86.7,480.8 90.5,481.0 94.4,481.2 98.2,481.4 102.1,481.6 105.9,481.7 109.8,481.8 113.7,481.9 117.5,482.0 121.4,482.1 125.2,482.2 129.1,482.4 133.0,482.7 136.8,482.9 140.7,483.1 144.5,483.4 148.4,483.6 152.3,483.8 156.1,484.1 160.0,484.3 163.8,484.5 167.7,484.8 171.6,485.0 175.4,485.2 179.3,485.5 183.1,485.5 187.0,485.5 190.8,485.5 194.7,485.5 198.6,485.5 202.4,485.5 206.3,485.5 210.1,485.5 214.0,485.8 214.0,500.3 210.1,500.0 206.3,500.0 202.4,500.0 198.6,500.0 194.7,500.0 190.8,500.0 187.0,500.0 183.1,500.0 179.3,500.0 175.4,499.7 171.6,499.5 167.7,499.3 163.8,499.0 160.0,498.8 156.1,498.6 152.3,498.3 148.4,498.1 144.5,497.9 140.7,497.6 136.8,497.4 133.0,497.2 129.1,496.9 125.2,496.7 121.4,496.6 117.5,496.5 113.7,496.4 109.8,496.3 105.9,496.2 102.1,496.1 98.2,495.9 94.4,495.7 90.5,495.5 86.7,495.3 82.8,495.1 78.9,494.9 75.1,494.7 71.2,494.5 67.4,494.5 63.5,494.5" fill="#d9f4fa"/>
<rect x="214.5" y="472.7" width="17.3" height="31" fill="#d9f4fa"/>
<path d="M22.4,303.2 22.8,303.7 23.1,303.6 23.5,302.1 23.8,302.4 24.2,303.4 24.5,302.4 24.9,302.4 25.2,302.9 25.6,302.6 25.9,302.3 26.3,302.4 26.6,301.8 27.0,301.3 27.3,301.3 27.7,301.7 28.0,302.0 28.4,301.3 28.7,300.7 29.1,300.6 29.4,301.0 29.8,300.9 30.1,301.7 30.5,302.4 30.8,299.7 31.2,297.8 31.5,299.3 31.9,300.2 32.2,300.4 32.6,300.7 32.9,301.8 33.3,300.9 33.6,299.2 34.0,301.1 34.3,301.7 34.7,300.7 35.0,299.9 35.4,298.3 35.7,298.6 36.1,299.7 36.4,298.7 36.8,298.1 37.1,298.8 37.5,298.5 37.8,298.4 38.2,299.0 38.5,299.0 38.9,298.5 39.2,298.8 39.6,299.6 39.9,299.3 40.3,298.2 40.6,298.4 41.0,298.6 41.3,298.7 41.7,298.4 42.0,298.4 42.4,299.1 42.7,297.7 43.1,297.5 43.4,298.3 43.8,298.7 44.1,298.0 44.5,297.1 44.8,297.9 45.2,298.4 45.5,298.4 45.9,298.7 46.2,298.3 46.6,298.2 46.9,298.8 47.3,298.7 47.6,298.3 48.0,298.5 48.3,298.7 48.7,298.8 49.0,298.6 49.4,298.1 49.7,298.1 50.1,298.4 50.4,298.6 50.8,298.7 51.1,298.2 51.5,297.9 51.8,298.4 52.2,298.9 52.5,298.5 52.9,298.4 53.2,298.6 53.6,298.7 53.9,298.8 54.3,298.8 54.6,298.5 55.0,298.4 55.3,298.7 55.7,298.2 56.0,298.0 56.4,298.5 56.7,298.2 57.1,298.3 57.4,298.4 57.8,298.5 58.1,298.6 58.5,298.0 58.8,296.8 59.2,294.3 59.5,292.4 59.9,293.1 60.2,296.1 60.6,298.1 60.9,298.2 61.3,298.4 61.6,298.5 62.0,298.7 62.3,298.7 62.7,298.5 63.0,298.4 63.4,298.5 63.7,298.4 64.1,298.5 64.4,299.0 64.8,298.6 65.1,297.7 65.5,298.2 65.8,299.3 66.2,298.9 66.5,298.1 66.9,298.4 67.2,298.5 67.6,298.3 67.9,298.4 68.3,298.6 68.6,298.6 69.0,298.6 69.3,298.6 69.7,298.4 70.0,298.4 70.4,298.3 70.7,298.4 71.1,298.4 71.4,298.1 71.8,298.7 72.1,299.0 72.5,298.6 72.8,298.8 73.2,298.7 73.5,298.5 73.9,298.7 74.2,298.8 74.6,298.5 74.9,298.6 75.3,298.8 75.6,298.3 76.0,298.3 76.3,298.4 76.7,299.0 77.0,298.8 77.4,298.5 77.7,298.3 78.1,298.3 78.4,298.9 78.8,298.9 79.1,298.6 79.5,298.7 79.8,299.0 80.2,299.1 80.5,299.4 80.9,299.3 81.2,298.7 81.6,298.6 81.9,298.7 82.3,298.8 82.6,298.8 83.0,298.8 83.3,298.5 83.7,298.6 84.0,298.9 84.4,298.4 84.7,298.7 85.1,299.3 85.4,299.2 85.8,299.0 86.1,298.7 86.5,299.3 86.8,299.7 87.2,298.8 87.5,298.4 87.9,298.7 88.2,298.5 88.6,298.6 88.9,298.8 89.3,299.0 89.6,299.4 90.0,298.5 90.3,298.3 90.7,298.5 91.0,298.8 91.4,299.2 91.7,299.1 92.1,298.8 92.4,299.1 92.8,299.8 93.1,299.1 93.5,298.8 93.8,298.9 94.2,298.8 94.5,298.7 94.9,299.1 95.2,299.2 95.6,298.7 95.9,299.0 96.3,298.9 96.6,298.8 97.0,298.8 97.3,298.8 97.7,298.7 98.0,298.6 98.4,298.8 98.7,298.9 99.1,298.9 99.4,299.0 99.8,299.1 100.1,299.1 100.5,298.9 100.8,298.8 101.2,298.8 101.5,298.6 101.9,298.9 102.2,298.9 102.6,298.6 102.9,299.0 103.3,299.2 103.6,299.1 104.0,298.5 104.3,298.7 104.7,299.2 105.0,298.8 105.4,298.9 105.7,299.1 106.1,298.7 106.4,298.9 106.8,299.1 107.1,299.1 107.5,298.8 107.8,299.2 108.2,299.4 108.5,298.6 108.9,298.9 109.2,299.2 109.6,299.1 109.9,299.1 110.3,299.1 110.6,299.2 111.0,299.0 111.3,299.1 111.7,299.2 112.0,298.9 112.4,299.0 112.7,299.3 113.1,299.2 113.4,298.9 113.8,299.1 114.1,298.9 114.5,298.6 114.8,299.0 115.2,298.9 115.5,298.9 115.9,299.2 116.2,299.4 116.6,299.2 116.9,298.9 117.3,299.2 117.6,298.8 118.0,299.4 118.3,299.8 118.7,298.9 119.0,299.3 119.4,299.4 119.7,298.9 120.1,299.0 120.4,299.6 120.8,299.4 121.1,299.1 121.5,299.3 121.8,299.2 122.2,299.2 122.5,299.4 122.9,299.2 123.2,298.8 123.6,299.0 123.9,299.1 124.3,299.4 124.6,299.6 125.0,299.5 125.3,299.5 125.7,299.4 126.0,299.2 126.4,299.3 126.7,299.9 127.1,299.7 127.4,299.2 127.8,299.2 128.1,299.2 128.5,299.1 128.8,299.3 129.2,299.4 129.5,299.7 129.9,299.7 130.2,299.5 130.6,299.7 130.9,299.5 131.3,299.4 131.6,298.2 132.0,294.9 132.3,290.0 132.7,285.3 133.0,283.8 133.4,287.2 133.7,292.5 134.1,296.8 134.4,299.1 134.8,299.2 135.1,299.1 135.5,299.2 135.8,299.4 136.2,299.3 136.5,299.1 136.9,299.3 137.2,299.4 137.6,299.7 137.9,300.0 138.3,299.8 138.6,299.7 139.0,299.4 139.3,299.4 139.7,299.7 140.0,299.7 140.4,300.1 140.7,299.5 141.1,299.2 141.4,299.5 141.8,299.5 142.1,299.5 142.5,299.3 142.8,299.6 143.2,299.9 143.5,299.9 143.9,299.5 144.2,299.4 144.6,299.8 144.9,299.9 145.3,299.4 145.6,299.6 146.0,300.0 146.3,300.0 146.7,299.9 147.0,299.9 147.4,299.7 147.7,299.7 148.1,299.8 148.4,299.8 148.8,300.2 149.1,299.9 149.5,299.7 149.8,299.8 150.2,300.1 150.5,300.3 150.9,299.7 151.2,299.7 151.6,300.1 151.9,300.5 152.3,300.0 152.6,299.4 153.0,300.1 153.3,299.9 153.7,299.3 154.0,299.8 154.4,300.3 154.7,300.0 155.1,299.9 155.4,300.1 155.8,300.3 156.1,300.3 156.5,300.2 156.8,300.0 157.2,299.8 157.5,299.9 157.9,300.2 158.2,300.4 158.6,300.0 158.9,300.0 159.3,300.4 159.6,300.2 160.0,300.0 160.3,300.0 160.7,299.6 161.0,299.7 161.4,300.2 161.7,300.0 162.1,300.1 162.4,300.0 162.8,299.7 163.1,299.9 163.5,300.5 163.8,300.2 164.2,299.9 164.5,300.5 164.9,300.5 165.2,300.5 165.6,300.2 165.9,299.5 166.3,299.9 166.6,300.1 167.0,299.9 167.3,299.9 167.7,300.2 168.0,300.7 168.4,300.3 168.7,300.3 169.1,300.5 169.4,300.3 169.8,300.3 170.1,300.2 170.5,300.4 170.8,300.5 171.2,300.3 171.5,300.5 171.9,300.4 172.2,300.3 172.6,300.5 172.9,300.8 173.3,300.6 173.6,300.6 174.0,300.8 174.3,300.4 174.7,300.2 175.0,300.4 175.4,300.5 175.7,300.2 176.1,299.9 176.4,300.0 176.8,300.2 177.1,300.5 177.5,301.0 177.8,301.0 178.2,300.7 178.5,300.5 178.9,300.4 179.2,300.7 179.6,301.2 179.9,301.2 180.3,300.7 180.6,300.5 181.0,300.5 181.3,300.3 181.7,300.4 182.0,300.7 182.4,301.1 182.7,301.1 183.1,301.1 183.4,301.5 183.8,301.2 184.1,301.2 184.5,301.4 184.8,300.9 185.2,300.9 185.5,301.0 185.9,300.9 186.2,300.9 186.6,301.0 186.9,301.2 187.3,301.0 187.6,300.9 188.0,300.8 188.3,300.9 188.7,301.4 189.0,301.4 189.4,301.3 189.7,301.4 190.1,301.3 190.4,301.1 190.8,301.4 191.1,301.7 191.5,301.7 191.8,302.1 192.2,302.0 192.5,301.7 192.9,302.0 193.2,301.8 193.6,301.3 193.9,301.1 194.3,301.4 194.6,301.9 195.0,302.0 195.3,301.8 195.7,301.7 196.0,301.8 196.4,301.4 196.7,301.3 197.1,301.9 197.4,301.5 197.8,302.0 198.1,302.1 198.5,301.4 198.8,301.4 199.2,301.9 199.5,302.0 199.9,302.0 200.2,302.3 200.6,302.3 200.9,301.9 201.3,301.7 201.6,302.4 202.0,302.3 202.3,301.7 202.7,302.0 203.0,302.4 203.4,302.5 203.7,302.5 204.1,302.3 204.4,302.3 204.8,302.7 205.1,302.2 205.5,302.4 205.8,303.3 206.2,302.8 206.5,302.4 206.9,302.9 207.2,302.6 207.6,301.8 207.9,301.9 208.3,302.2 208.6,302.4 209.0,302.7 209.3,302.9 209.7,302.5 210.0,302.6 210.4,303.4 210.7,303.5 211.1,303.4 211.4,303.1 211.8,303.2 212.1,303.0 212.5,302.9 212.8,303.2 213.2,303.3 213.5,303.4 213.9,302.9 214.2,302.8 214.6,303.2 214.9,302.6 215.3,301.7 215.6,301.0 216.0,300.1 216.3,300.2 216.7,301.0 217.0,301.6 217.4,302.2 217.7,302.7 218.1,303.1 218.4,303.2 218.8,303.5 219.1,303.9 219.5,304.0 219.8,303.6 220.2,303.5 220.5,303.6 220.9,304.0 221.2,304.0 221.6,303.1 221.9,302.9 222.3,303.2 222.6,302.6 223.0,301.6 223.3,301.1 223.7,300.5 224.0,300.7 224.4,301.7 224.7,302.8 225.1,303.6 225.4,304.1 225.8,304.0 226.1,304.2 226.5,304.2 226.8,303.9 227.2,304.1 227.5,304.1 227.9,303.3 228.2,303.3 228.6,304.0 228.9,303.6 229.3,303.5 229.6,304.1 230.0,303.9 230.3,303.7 230.7,303.9 231.0,304.2 231.4,304.6 231.7,304.8 232.1,304.2 232.4,304.0 232.8,304.5 233.1,305.1 233.5,305.1 233.8,304.8" fill="none" stroke="#a84420" stroke-width="1.1" stroke-linejoin="round"/><path d="M22.4,323.0 22.8,322.9 23.1,322.7 23.5,322.3 23.8,322.6 24.2,323.2 24.5,322.8 24.9,322.6 25.2,322.7 25.6,322.3 25.9,321.9 26.3,320.3 26.6,318.2 27.0,318.7 27.3,320.7 27.7,321.8 28.0,322.0 28.4,321.9 28.7,321.7 29.1,321.6 29.4,321.7 29.8,321.8 30.1,321.7 30.5,321.6 30.8,321.3 31.2,321.3 31.5,321.8 31.9,321.3 32.2,320.6 32.6,320.5 32.9,320.9 33.3,321.1 33.6,321.1 34.0,321.2 34.3,320.9 34.7,320.8 35.0,320.7 35.4,320.7 35.7,320.5 36.1,320.1 36.4,320.1 36.8,319.7 37.1,318.0 37.5,316.0 37.8,316.1 38.2,317.9 38.5,319.3 38.9,319.9 39.2,319.7 39.6,319.7 39.9,320.1 40.3,319.6 40.6,319.4 41.0,319.8 41.3,319.7 41.7,319.6 42.0,319.9 42.4,319.7 42.7,319.2 43.1,319.0 43.4,319.1 43.8,319.1 44.1,318.9 44.5,318.8 44.8,318.9 45.2,318.7 45.5,318.2 45.9,317.9 46.2,318.3 46.6,318.7 46.9,318.7 47.3,318.6 47.6,318.2 48.0,318.2 48.3,318.2 48.7,317.9 49.0,317.7 49.4,318.1 49.7,318.3 50.1,318.0 50.4,317.8 50.8,317.5 51.1,317.7 51.5,317.7 51.8,317.4 52.2,317.3 52.5,317.2 52.9,317.2 53.2,317.5 53.6,317.2 53.9,317.2 54.3,317.2 54.6,316.9 55.0,316.8 55.3,316.7 55.7,316.8 56.0,316.7 56.4,316.5 56.7,316.4 57.1,316.3 57.4,316.1 57.8,316.1 58.1,316.3 58.5,315.8 58.8,314.1 59.2,311.4 59.5,309.6 59.9,310.3 60.2,313.4 60.6,315.3 60.9,315.8 61.3,315.9 61.6,315.8 62.0,315.7 62.3,315.7 62.7,316.0 63.0,315.7 63.4,316.0 63.7,316.3 64.1,316.0 64.4,315.7 64.8,315.7 65.1,315.8 65.5,315.9 65.8,316.1 66.2,315.8 66.5,315.6 66.9,315.6 67.2,315.4 67.6,315.4 67.9,315.6 68.3,315.8 68.6,316.1 69.0,315.8 69.3,315.6 69.7,315.7 70.0,315.9 70.4,316.0 70.7,315.7 71.1,315.5 71.4,315.3 71.8,315.5 72.1,315.6 72.5,315.6 72.8,315.3 73.2,315.4 73.5,315.5 73.9,315.7 74.2,315.8 74.6,315.6 74.9,315.4 75.3,315.3 75.6,315.4 76.0,315.2 76.3,315.4 76.7,315.4 77.0,315.4 77.4,315.6 77.7,315.6 78.1,315.5 78.4,315.1 78.8,315.0 79.1,315.2 79.5,314.9 79.8,315.1 80.2,315.4 80.5,315.2 80.9,315.4 81.2,315.6 81.6,315.4 81.9,315.1 82.3,315.1 82.6,315.3 83.0,315.1 83.3,315.2 83.7,315.5 84.0,314.9 84.4,314.8 84.7,315.0 85.1,315.1 85.4,315.5 85.8,315.1 86.1,314.8 86.5,315.0 86.8,315.1 87.2,315.3 87.5,315.5 87.9,315.1 88.2,315.1 88.6,314.8 88.9,314.7 89.3,315.2 89.6,315.1 90.0,314.8 90.3,314.9 90.7,315.4 91.0,315.3 91.4,314.8 91.7,315.0 92.1,314.8 92.4,314.6 92.8,314.9 93.1,314.9 93.5,314.9 93.8,314.9 94.2,315.1 94.5,314.6 94.9,314.2 95.2,314.4 95.6,315.0 95.9,315.1 96.3,314.9 96.6,314.8 97.0,315.0 97.3,315.1 97.7,315.0 98.0,314.8 98.4,315.0 98.7,315.4 99.1,315.0 99.4,315.2 99.8,315.5 100.1,315.0 100.5,314.6 100.8,314.8 101.2,315.3 101.5,315.1 101.9,314.7 102.2,315.0 102.6,315.2 102.9,314.9 103.3,315.5 103.6,316.0 104.0,315.7 104.3,315.3 104.7,315.2 105.0,314.9 105.4,314.8 105.7,315.1 106.1,314.9 106.4,314.8 106.8,315.1 107.1,315.4 107.5,315.3 107.8,315.5 108.2,315.3 108.5,315.0 108.9,314.8 109.2,315.0 109.6,315.5 109.9,315.5 110.3,315.5 110.6,315.3 111.0,315.1 111.3,315.2 111.7,315.1 112.0,315.6 112.4,316.0 112.7,315.5 113.1,315.3 113.4,315.4 113.8,315.3 114.1,315.4 114.5,315.4 114.8,315.3 115.2,315.4 115.5,315.4 115.9,315.3 116.2,315.1 116.6,315.2 116.9,315.4 117.3,315.5 117.6,315.7 118.0,316.0 118.3,316.1 118.7,315.8 119.0,315.8 119.4,315.8 119.7,315.9 120.1,316.2 120.4,315.7 120.8,315.7 121.1,316.1 121.5,315.5 121.8,315.3 122.2,315.7 122.5,315.5 122.9,315.4 123.2,315.6 123.6,315.9 123.9,316.1 124.3,316.5 124.6,316.4 125.0,316.1 125.3,316.2 125.7,316.1 126.0,315.9 126.4,315.6 126.7,315.7 127.1,316.1 127.4,316.6 127.8,316.6 128.1,316.4 128.5,316.2 128.8,316.4 129.2,316.8 129.5,316.5 129.9,316.3 130.2,316.2 130.6,316.5 130.9,316.7 131.3,316.3 131.6,315.5 132.0,313.5 132.3,309.8 132.7,305.8 133.0,304.8 133.4,307.2 133.7,311.5 134.1,315.2 134.4,316.2 134.8,316.3 135.1,316.8 135.5,316.7 135.8,316.6 136.2,316.7 136.5,316.9 136.9,317.0 137.2,316.8 137.6,317.1 137.9,317.0 138.3,316.6 138.6,316.6 139.0,317.1 139.3,317.2 139.7,317.1 140.0,316.9 140.4,317.0 140.7,317.3 141.1,317.3 141.4,317.5 141.8,317.5 142.1,317.0 142.5,316.8 142.8,317.2 143.2,317.5 143.5,317.5 143.9,317.6 144.2,317.8 144.6,317.9 144.9,317.6 145.3,317.5 145.6,317.7 146.0,317.5 146.3,317.6 146.7,318.0 147.0,318.0 147.4,317.8 147.7,317.7 148.1,317.5 148.4,317.5 148.8,317.6 149.1,317.7 149.5,317.7 149.8,317.8 150.2,318.1 150.5,317.8 150.9,317.8 151.2,317.7 151.6,317.2 151.9,317.6 152.3,318.0 152.6,318.1 153.0,317.8 153.3,317.8 153.7,318.1 154.0,318.4 154.4,318.3 154.7,318.2 155.1,318.1 155.4,318.0 155.8,318.1 156.1,318.3 156.5,318.2 156.8,318.0 157.2,318.3 157.5,318.8 157.9,318.8 158.2,318.5 158.6,318.4 158.9,318.6 159.3,318.8 159.6,318.9 160.0,318.9 160.3,318.5 160.7,318.3 161.0,318.3 161.4,318.3 161.7,318.7 162.1,319.1 162.4,318.6 162.8,318.8 163.1,319.1 163.5,318.3 163.8,317.6 164.2,316.6 164.5,315.7 164.9,316.1 165.2,317.5 165.6,318.7 165.9,318.5 166.3,318.6 166.6,319.2 167.0,319.1 167.3,319.0 167.7,319.1 168.0,318.9 168.4,318.9 168.7,319.4 169.1,319.2 169.4,319.0 169.8,319.3 170.1,319.2 170.5,319.1 170.8,319.0 171.2,319.0 171.5,319.2 171.9,319.5 172.2,319.3 172.6,319.8 172.9,319.9 173.3,319.4 173.6,319.5 174.0,319.4 174.3,319.7 174.7,319.8 175.0,319.8 175.4,320.1 175.7,319.7 176.1,319.8 176.4,320.2 176.8,322.0 177.1,325.3 177.5,328.0 177.8,327.7 178.2,323.9 178.5,319.4 178.9,317.1 179.2,317.7 179.6,319.0 179.9,319.8 180.3,320.2 180.6,320.0 181.0,319.7 181.3,319.9 181.7,319.7 182.0,319.7 182.4,319.9 182.7,320.2 183.1,320.4 183.4,320.2 183.8,320.4 184.1,320.6 184.5,320.5 184.8,320.5 185.2,320.5 185.5,320.5 185.9,320.8 186.2,320.6 186.6,320.4 186.9,320.8 187.3,321.0 187.6,321.3 188.0,321.2 188.3,320.9 188.7,321.0 189.0,320.9 189.4,321.1 189.7,321.0 190.1,320.9 190.4,321.1 190.8,321.2 191.1,321.3 191.5,321.5 191.8,321.5 192.2,321.4 192.5,321.3 192.9,321.1 193.2,321.0 193.6,321.2 193.9,321.5 194.3,321.5 194.6,321.2 195.0,321.4 195.3,321.5 195.7,321.3 196.0,321.5 196.4,321.7 196.7,321.4 197.1,321.1 197.4,321.6 197.8,321.8 198.1,321.6 198.5,321.6 198.8,322.1 199.2,322.1 199.5,322.0 199.9,322.3 200.2,322.1 200.6,322.1 200.9,322.1 201.3,322.0 201.6,321.9 202.0,322.2 202.3,322.4 202.7,322.2 203.0,322.1 203.4,322.5 203.7,322.9 204.1,322.6 204.4,322.4 204.8,322.2 205.1,322.4 205.5,322.7 205.8,322.5 206.2,322.6 206.5,323.1 206.9,322.7 207.2,322.5 207.6,322.7 207.9,322.8 208.3,322.9 208.6,322.6 209.0,322.9 209.3,323.3 209.7,323.3 210.0,323.5 210.4,323.3 210.7,323.2 211.1,323.4 211.4,323.5 211.8,323.4 212.1,323.2 212.5,323.2 212.8,323.2 213.2,323.2 213.5,323.0 213.9,323.1 214.2,323.2 214.6,322.7 214.9,322.1 215.3,321.0 215.6,319.5 216.0,317.9 216.3,316.5 216.7,317.0 217.0,318.7 217.4,320.6 217.7,322.1 218.1,322.9 218.4,323.5 218.8,323.7 219.1,323.6 219.5,323.6 219.8,324.0 220.2,324.3 220.5,324.3 220.9,324.0 221.2,324.1 221.6,324.0 221.9,323.5 222.3,322.3 222.6,320.4 223.0,318.8 223.3,318.0 223.7,317.9 224.0,319.1 224.4,320.7 224.7,322.3 225.1,323.5 225.4,324.1 225.8,324.5 226.1,324.6 226.5,324.7 226.8,324.9 227.2,325.0 227.5,324.8 227.9,324.6 228.2,324.9 228.6,325.4 228.9,325.2 229.3,325.1 229.6,324.9 230.0,324.6 230.3,324.8 230.7,325.4 231.0,325.3 231.4,324.9 231.7,325.4 232.1,325.3 232.4,325.2 232.8,325.6 233.1,325.5 233.5,325.5 233.8,326.0" fill="none" stroke="#237a14" stroke-width="1.15" stroke-linejoin="round"/><path d="M28.5,352.9 28.9,351.1 29.2,349.9 29.6,350.8 29.9,350.0 30.3,350.0 30.6,348.8 31.0,348.5 31.3,348.9 31.7,350.8 32.0,351.2 32.4,348.7 32.7,348.2 33.1,347.7 33.4,347.0 33.8,346.9 34.1,347.5 34.5,347.4 34.8,347.4 35.2,347.2 35.5,346.3 35.9,347.1 36.2,347.2 36.6,345.7 36.9,345.0 37.3,345.3 37.6,346.3 38.0,345.6 38.3,344.1 38.7,344.7 39.0,344.1 39.4,343.2 39.7,344.1 40.1,344.5 40.4,343.9 40.8,343.8 41.1,341.9 41.5,342.0 41.8,343.0 42.2,341.2 42.5,341.8 42.9,343.1 43.2,342.5 43.6,341.3 43.9,341.5 44.3,341.9 44.6,342.6 45.0,343.0 45.3,342.1 45.7,342.2 46.0,341.8 46.4,340.4 46.7,340.8 47.1,341.5 47.4,340.9 47.8,339.9 48.1,340.1 48.5,338.9 48.8,339.0 49.2,340.7 49.5,339.1 49.9,338.7 50.2,339.0 50.6,339.3 50.9,338.6 51.3,337.5 51.6,339.0 52.0,340.2 52.3,338.3 52.7,337.2 53.0,338.6 53.4,338.5 53.7,339.1 54.1,338.7 54.4,337.8 54.8,337.8 55.1,338.4 55.5,338.9 55.8,337.7 56.2,336.6 56.5,337.7 56.9,339.1 57.2,338.5 57.6,338.6 57.9,338.2 58.3,337.1 58.6,336.3 59.0,336.1 59.3,337.4 59.7,337.0 60.0,335.8 60.4,336.5 60.7,336.9 61.1,337.5 61.4,336.6 61.8,335.2 62.1,335.9 62.5,337.6 62.8,338.1 63.2,337.5 63.5,336.8 63.9,336.8 64.2,336.8 64.6,337.1 64.9,336.8 65.3,336.4 65.6,336.8 66.0,337.0 66.3,337.2 66.7,338.4 67.0,339.1 67.4,338.5 67.7,336.3 68.1,335.2 68.4,336.0 68.8,336.5 69.1,335.5 69.5,335.9 69.8,337.9 70.2,336.4 70.5,335.1 70.9,335.4 71.2,336.0 71.6,336.8 71.9,338.0 72.3,337.5 72.6,336.7 73.0,336.9 73.3,337.5 73.7,337.8 74.0,337.6 74.4,336.5 74.7,335.5 75.1,335.7 75.4,336.7 75.8,337.5 76.1,336.4 76.5,335.7 76.8,336.2 77.2,336.0 77.5,335.2 77.9,335.8 78.2,337.9 78.6,337.4 78.9,335.6 79.3,335.0 79.6,334.5 80.0,335.5 80.3,336.8 80.7,336.5 81.0,336.2 81.4,336.2 81.7,336.1 82.1,335.1 82.4,334.7 82.8,335.7 83.1,335.5 83.5,335.1 83.8,335.1 84.2,335.2 84.5,336.2 84.9,336.1 85.2,335.5 85.6,336.2 85.9,336.7 86.3,337.2 86.6,335.6 87.0,335.1 87.3,336.0 87.7,335.6 88.0,336.3 88.4,336.9 88.7,337.0 89.1,336.4 89.4,336.8 89.8,336.5 90.1,335.4 90.5,336.1 90.8,335.8 91.2,336.6 91.5,337.6 91.9,337.6 92.2,336.9 92.6,335.4 92.9,335.5 93.3,336.1 93.6,335.7 94.0,335.5 94.3,335.8 94.7,336.5 95.0,336.1 95.4,335.8 95.7,335.8 96.1,334.6 96.4,334.5 96.8,334.4 97.1,334.9 97.5,336.2 97.8,336.2 98.2,335.9 98.5,336.8 98.9,336.6 99.2,335.7 99.6,335.4 99.9,334.3 100.3,334.9 100.6,334.8 101.0,334.7 101.3,335.7 101.7,336.0 102.0,336.0 102.4,334.8 102.7,335.5 103.1,337.5 103.4,340.1 103.8,340.8 104.1,338.0 104.5,335.7 104.8,334.7 105.2,334.6 105.5,333.8 105.9,333.8 106.2,334.4 106.6,335.2 106.9,336.6 107.3,334.8 107.6,334.1 108.0,335.2 108.3,334.4 108.7,334.8 109.0,335.2 109.4,333.8 109.7,333.9 110.1,335.0 110.4,335.1 110.8,334.7 111.1,334.9 111.5,335.5 111.8,334.9 112.2,334.5 112.5,334.8 112.9,334.8 113.2,335.4 113.6,335.6 113.9,334.7 114.3,334.4 114.6,334.7 115.0,335.6 115.3,335.6 115.7,334.9 116.0,335.1 116.4,335.1 116.7,335.6 117.1,335.4 117.4,334.9 117.8,335.2 118.1,335.6 118.5,337.0 118.8,340.3 119.2,340.9 119.5,337.5 119.9,335.2 120.2,334.4 120.6,334.7 120.9,335.2 121.3,335.3 121.6,335.3 122.0,335.3 122.3,335.0 122.7,335.0 123.0,335.1 123.4,334.8 123.7,334.9 124.1,335.3 124.4,335.1 124.8,334.6 125.1,334.8 125.5,335.4 125.8,335.1 126.2,334.5 126.5,334.5 126.9,334.9 127.2,334.4 127.6,334.1 127.9,335.0 128.3,334.7 128.6,334.7 129.0,335.1 129.3,334.5 129.7,334.4 130.0,334.1 130.4,333.9 130.7,334.9 131.1,334.8 131.4,334.8 131.8,335.0 132.1,334.8 132.5,334.8 132.8,333.8 133.2,333.6 133.5,334.3 133.9,334.2 134.2,333.7 134.6,334.2 134.9,334.4 135.3,333.7 135.6,333.7 136.0,334.5 136.3,334.5 136.7,334.6 137.0,335.2 137.4,334.9 137.7,334.1 138.1,333.7 138.4,334.0 138.8,334.7 139.1,334.7 139.5,334.6 139.8,334.4 140.2,334.3 140.5,334.3 140.9,334.1 141.2,333.9 141.6,333.5 141.9,333.8 142.3,333.9 142.6,334.0 143.0,335.6 143.3,338.3 143.7,340.2 144.0,338.5 144.4,335.3 144.7,334.5 145.1,334.7 145.4,334.2 145.8,334.5 146.1,334.4 146.5,333.2 146.8,333.6 147.2,334.4 147.5,334.6 147.9,334.6 148.2,333.8 148.6,334.4 148.9,334.4 149.3,334.0 149.6,334.8 150.0,334.8 150.3,334.3 150.7,334.3 151.0,334.6 151.4,334.3 151.7,334.2 152.1,334.6 152.4,335.1 152.8,334.9 153.1,333.9 153.5,334.2 153.8,334.3 154.2,334.2 154.5,334.4 154.9,334.6 155.2,334.4 155.6,334.0 155.9,333.4 156.3,333.2 156.6,334.4 157.0,334.5 157.3,333.8 157.7,333.6 158.0,334.0 158.4,334.4 158.7,333.9 159.1,334.0 159.4,334.5 159.8,334.5 160.1,334.2 160.5,334.5 160.8,334.8 161.2,334.3 161.5,334.1 161.9,335.0 162.2,337.4 162.6,338.3 162.9,336.8 163.3,335.3 163.6,334.5 164.0,333.6 164.3,331.3 164.7,328.8 165.0,329.0 165.4,331.7 165.7,333.4 166.1,334.1 166.4,334.1 166.8,333.8 167.1,333.7 167.5,334.2 167.8,334.5 168.2,334.0 168.5,333.5 168.9,333.6 169.2,334.5 169.6,334.6 169.9,334.0 170.3,334.3 170.6,334.9 171.0,334.8 171.3,334.6 171.7,334.6 172.0,334.6 172.4,334.4 172.7,334.0 173.1,334.3 173.4,334.6 173.8,334.7 174.1,334.0 174.5,333.6 174.8,334.5 175.2,334.2 175.5,334.0 175.9,334.4 176.2,334.7 176.6,335.5 176.9,339.3 177.3,346.2 177.6,350.6 178.0,347.5 178.3,340.6 178.7,336.1 179.0,334.7 179.4,334.0 179.7,333.3 180.1,333.6 180.4,333.7 180.8,333.4 181.1,333.8 181.5,334.1 181.8,333.8 182.2,333.9 182.5,333.6 182.9,333.6 183.2,333.6 183.6,333.1 183.9,333.7 184.3,334.0 184.6,333.6 185.0,333.5 185.3,333.9 185.7,334.0 186.0,333.9 186.4,334.2 186.7,334.0 187.1,333.5 187.4,333.6 187.8,334.1 188.1,334.5 188.5,334.6 188.8,334.2 189.2,333.8 189.5,334.1 189.9,334.0 190.2,334.0 190.6,334.3 190.9,333.9 191.3,333.6 191.6,333.8 192.0,334.3 192.3,335.1 192.7,334.6 193.0,333.8 193.4,333.1 193.7,333.2 194.1,333.9 194.4,333.5 194.8,333.7 195.1,333.6 195.5,333.3 195.8,333.8 196.2,333.5 196.5,333.7 196.9,334.4 197.2,333.7 197.6,332.9 197.9,333.5 198.3,333.9 198.6,333.4 199.0,333.4 199.3,334.3 199.7,335.7 200.0,337.0 200.4,336.2 200.7,335.0 201.1,334.8 201.4,334.4 201.8,334.3 202.1,334.4 202.5,334.3 202.8,333.6 203.2,333.6 203.5,334.0 203.9,334.3 204.2,334.9 204.6,336.5 204.9,338.8 205.3,338.4 205.6,335.9 206.0,334.0 206.3,333.7 206.7,333.6 207.0,333.6 207.4,333.7 207.7,333.7 208.1,334.3 208.4,334.1 208.8,333.6 209.1,334.1 209.5,336.1 209.8,338.8 210.2,338.7 210.5,336.2 210.9,334.4 211.2,333.8 211.6,333.5 211.9,333.2 212.3,333.5 212.6,334.2 213.0,334.3 213.3,334.8 213.7,337.2 214.0,338.4 214.4,336.6 214.7,334.5 215.1,333.8 215.4,333.7 215.8,333.2 216.1,333.5 216.5,334.4 216.8,334.0 217.2,333.6 217.5,333.8 217.9,334.0 218.2,334.0 218.6,336.2 218.9,338.7 219.3,337.9 219.6,335.6 220.0,333.7 220.3,333.4 220.7,333.8 221.0,333.5 221.4,333.1 221.7,333.3 222.1,332.9 222.4,333.4 222.8,334.1" fill="none" stroke="#d0a048" stroke-width="1.8" stroke-linejoin="round"/><path d="M22.4,354.3 22.8,354.4 23.1,355.3 23.5,355.4 23.8,354.2 24.2,354.6 24.5,355.6 24.9,353.7 25.2,352.4 25.6,352.2 25.9,352.6 26.3,354.5 26.6,355.7 27.0,354.2 27.3,352.9 27.7,354.8 28.0,355.8 28.4,353.5 28.7,352.6 29.1,352.8 29.4,352.9 29.8,353.8 30.1,353.4 30.5,352.9 30.8,353.4 31.2,353.6 31.5,352.6 31.9,351.7 32.2,353.7 32.6,353.8 32.9,352.3" fill="none" stroke="#7a1410" stroke-width="1.0" stroke-linejoin="round"/><path d="M32.5,352.3 32.9,352.3 33.2,352.7 33.6,352.9 33.9,352.4 34.3,352.3 34.6,352.6 35.0,352.6 35.3,352.5 35.7,352.6 36.0,353.0 36.4,353.2 36.7,353.3 37.1,353.2 37.4,352.9 37.8,353.2 38.1,353.2 38.5,353.1 38.8,353.4 39.2,353.1 39.5,353.1 39.9,353.2 40.2,353.4 40.6,353.6 40.9,353.8 41.3,353.5 41.6,353.3 42.0,353.6 42.3,353.7 42.7,353.6 43.0,353.4 43.4,353.9 43.7,353.7 44.1,353.9 44.4,354.2 44.8,354.2 45.1,354.3 45.5,354.0 45.8,353.7 46.2,353.8 46.5,354.1 46.9,354.3 47.2,354.0 47.6,353.8 47.9,353.8 48.3,353.8 48.6,353.9 49.0,353.9 49.3,354.3 49.7,354.3 50.0,353.9 50.4,354.0 50.7,353.9 51.1,353.8 51.4,353.9 51.8,354.1 52.1,353.9 52.5,354.0 52.8,354.2 53.2,354.0 53.5,354.2 53.9,354.3 54.2,354.3 54.6,354.2 54.9,354.0 55.3,353.9 55.6,353.6 56.0,353.6 56.3,353.4 56.7,352.8 57.0,353.1 57.4,353.2 57.7,352.4 58.1,352.5 58.4,351.9 58.8,349.6 59.1,345.7 59.5,342.7 59.8,343.5 60.2,346.7 60.5,349.7 60.9,351.1 61.2,351.7 61.6,352.2 61.9,351.9 62.3,351.6 62.6,351.7 63.0,351.5 63.3,351.4 63.7,351.2 64.0,351.3 64.4,351.4 64.7,351.6 65.1,351.7 65.4,351.9 65.8,352.1 66.1,351.9 66.5,352.1 66.8,352.2 67.2,352.0 67.5,351.9 67.9,351.9 68.2,352.2 68.6,352.3 68.9,352.2 69.3,352.3 69.6,352.1 70.0,352.1 70.3,352.0 70.7,352.1 71.0,352.4 71.4,352.2 71.7,352.3 72.1,352.3 72.4,352.2 72.8,352.4 73.1,352.5 73.5,352.2 73.8,352.2 74.2,352.1 74.5,352.4 74.9,352.7 75.2,352.4 75.6,352.8 75.9,353.2 76.3,352.9 76.6,352.6 77.0,352.8 77.3,353.0 77.7,352.8 78.0,352.6 78.4,352.8 78.7,352.9 79.1,352.8 79.4,352.9 79.8,352.6 80.1,352.4 80.5,352.1 80.8,352.2 81.2,353.0 81.5,352.8 81.9,352.8 82.2,353.2 82.6,353.0 82.9,352.9 83.3,352.9 83.6,352.8 84.0,352.7 84.3,352.9 84.7,353.1 85.0,353.2 85.4,353.0 85.7,353.1 86.1,353.1 86.4,352.9 86.8,353.1 87.1,353.2 87.5,353.1 87.8,353.2 88.2,353.1 88.5,353.0 88.9,353.1 89.2,353.4 89.6,353.4 89.9,353.6 90.3,353.7 90.6,352.9 91.0,352.8 91.3,353.6 91.7,353.7 92.0,353.3 92.4,353.2 92.7,353.5 93.1,353.9 93.4,353.8 93.8,353.7 94.1,353.9 94.5,354.0 94.8,353.5 95.2,353.5 95.5,353.8 95.9,353.7 96.2,353.8 96.6,353.8 96.9,353.2 97.3,353.5 97.6,354.2 98.0,353.9 98.3,353.7 98.7,353.8 99.0,353.7 99.4,353.7 99.7,353.9 100.1,353.8 100.4,353.7 100.8,353.7 101.1,354.0 101.5,354.4 101.8,354.3 102.2,354.1 102.5,353.9 102.9,354.0 103.2,354.5 103.6,354.1 103.9,354.1 104.3,354.0 104.6,353.7 105.0,354.2 105.3,354.0 105.7,353.7 106.0,354.0 106.4,354.5 106.7,354.4 107.1,354.5 107.4,354.4 107.8,354.5 108.1,354.7 108.5,354.5 108.8,354.6 109.2,354.6 109.5,354.8 109.9,355.2 110.2,355.0 110.6,354.6 110.9,354.3 111.3,354.2 111.6,354.5 112.0,354.6 112.3,354.6 112.7,354.7 113.0,354.8 113.4,354.6 113.7,354.3 114.1,354.8 114.4,355.2 114.8,354.9 115.1,355.0 115.5,355.0 115.8,354.7 116.2,354.6 116.5,354.8 116.9,355.1 117.2,355.2 117.6,355.3 117.9,355.2 118.3,355.1 118.6,355.3 119.0,355.3 119.3,355.1 119.7,355.2 120.0,355.4 120.4,355.5 120.7,355.8 121.1,355.6 121.4,355.5 121.8,355.4 122.1,355.3 122.5,355.5 122.8,355.7 123.2,355.8 123.5,355.5 123.9,355.5 124.2,355.7 124.6,355.5 124.9,355.5 125.3,355.4 125.6,355.9 126.0,356.1 126.3,355.9 126.7,355.6 127.0,355.3 127.4,355.5 127.7,355.7 128.1,355.9 128.4,355.8 128.8,355.7 129.1,356.2 129.5,356.0 129.8,355.9 130.2,355.9 130.5,355.8 130.9,356.1 131.2,356.1 131.6,355.2 131.9,352.6 132.3,348.7 132.6,343.9 133.0,341.9 133.3,344.6 133.7,349.3 134.0,353.5 134.4,355.7 134.7,356.7 135.1,356.9 135.4,356.8 135.8,356.5 136.1,356.3 136.5,356.3 136.8,356.0 137.2,356.3 137.5,356.6 137.9,356.2 138.2,356.2 138.6,356.6 138.9,356.9 139.3,356.7 139.6,356.6 140.0,356.7 140.3,356.4 140.7,356.5 141.0,356.7 141.4,356.4 141.7,356.7 142.1,356.7 142.4,356.5 142.8,356.7 143.1,356.5 143.5,356.6 143.8,356.9 144.2,356.8 144.5,356.7 144.9,357.2 145.2,357.1 145.6,356.9 145.9,357.1 146.3,357.1 146.6,357.0 147.0,357.1 147.3,357.1 147.7,357.3 148.0,357.0 148.4,357.3 148.7,357.4 149.1,357.2 149.4,357.1 149.8,357.0 150.1,357.2 150.5,357.4 150.8,357.6 151.2,357.4 151.5,357.1 151.9,357.6 152.2,357.7 152.6,357.6 152.9,357.9 153.3,357.9 153.6,357.8 154.0,357.7 154.3,358.0 154.7,358.2 155.0,357.8 155.4,357.8 155.7,357.7 156.1,357.8 156.4,358.2 156.8,358.0 157.1,357.8 157.5,357.6 157.8,357.8 158.2,358.1 158.5,358.0 158.9,358.2 159.2,358.1 159.6,357.9 159.9,358.0 160.3,357.9 160.6,358.4 161.0,358.7 161.3,358.2 161.7,358.4 162.0,358.0 162.4,357.8 162.7,358.3 163.1,357.9 163.4,357.5 163.8,356.9 164.1,356.7 164.5,357.6 164.8,357.8 165.2,357.8 165.5,358.3 165.9,358.7 166.2,358.6 166.6,358.7 166.9,358.9 167.3,358.6 167.6,358.6 168.0,358.6 168.3,358.3 168.7,358.1 169.0,358.7 169.4,359.1 169.7,359.3 170.1,359.1 170.4,358.8 170.8,359.1 171.1,359.2 171.5,359.2 171.8,359.3 172.2,359.2 172.5,358.8 172.9,358.7 173.2,359.5 173.6,359.8 173.9,359.8 174.3,359.6 174.6,359.3 175.0,359.3 175.3,359.4 175.7,359.6 176.0,359.7 176.4,360.1 176.7,360.2 177.1,360.7 177.4,361.4 177.8,361.6 178.1,361.2 178.5,360.3 178.8,360.0 179.2,360.2 179.5,360.2 179.9,359.9 180.2,359.7 180.6,359.8 180.9,359.9 181.3,359.8 181.6,360.0 182.0,360.2 182.3,360.1 182.7,360.2 183.0,360.6 183.4,360.3 183.7,360.2 184.1,360.9 184.4,360.6 184.8,360.3 185.1,360.2 185.5,360.2 185.8,360.4 186.2,360.4 186.5,360.3 186.9,360.2 187.2,360.3 187.6,360.3 187.9,360.3 188.3,360.4 188.6,360.4 189.0,360.4 189.3,360.7 189.7,360.4 190.0,360.3 190.4,360.6 190.7,360.4 191.1,360.4 191.4,360.4 191.8,360.6 192.1,360.8 192.5,360.7 192.8,360.9 193.2,361.0 193.5,360.9 193.9,361.3 194.2,361.0 194.6,361.0 194.9,361.6 195.3,361.4 195.6,361.2 196.0,361.2 196.3,361.2 196.7,361.2 197.0,361.1 197.4,361.3 197.7,361.6 198.1,361.5 198.4,361.6 198.8,361.9 199.1,361.7 199.5,361.5 199.8,361.7 200.2,362.1 200.5,361.4 200.9,361.0 201.2,361.3 201.6,361.7 201.9,362.0 202.3,361.8 202.6,361.7 203.0,361.9 203.3,361.7 203.7,361.7 204.0,361.9 204.4,361.8 204.7,361.9 205.1,361.7 205.4,361.5 205.8,361.8 206.1,362.0 206.5,362.0 206.8,362.2 207.2,362.2 207.5,361.8 207.9,361.8 208.2,362.0 208.6,362.1 208.9,362.4 209.3,362.5 209.6,362.5 210.0,362.6 210.3,362.4 210.7,362.5 211.0,362.5 211.4,362.4 211.7,362.3 212.1,362.3 212.4,362.4 212.8,362.5 213.1,362.9 213.5,363.3 213.8,363.2 214.2,362.8 214.5,362.8 214.9,362.7 215.2,362.1 215.6,361.6 215.9,361.3 216.3,361.0 216.6,361.4 217.0,361.9 217.3,362.1 217.7,362.9 218.0,363.2 218.4,363.1 218.7,363.2 219.1,363.5 219.4,363.8 219.8,363.9 220.1,363.8 220.5,363.6 220.8,363.9 221.2,363.9 221.5,363.6 221.9,363.4 222.2,363.0 222.6,362.5 222.9,362.1 223.3,361.2 223.6,361.3 224.0,362.2 224.3,362.8 224.7,363.9 225.0,364.3 225.4,364.5 225.7,364.9 226.1,365.0 226.4,364.8 226.8,364.9 227.1,365.2 227.5,364.9 227.8,365.2 228.2,365.6 228.5,365.0 228.9,364.9 229.2,365.7 229.6,366.1 229.9,366.0 230.3,365.4 230.6,365.4 231.0,366.0 231.3,366.1 231.7,366.0 232.0,365.8 232.4,366.1 232.7,366.3 233.1,366.2 233.4,366.4 233.8,366.7" fill="none" stroke="#3a1a0a" stroke-width="1.0" stroke-linejoin="round"/><path d="M61.7,372.7 62.1,372.3 62.4,372.5 62.8,373.0 63.1,373.3 63.5,373.3 63.8,372.8 64.2,372.6 64.5,372.9 64.9,373.6 65.2,373.5 65.6,372.7 65.9,372.3 66.3,373.1 66.6,373.4 67.0,372.5 67.3,372.5 67.7,372.6 68.0,372.5 68.4,372.7 68.7,372.6 69.1,372.9 69.4,373.1 69.8,372.8 70.1,372.9 70.5,373.3 70.8,372.8 71.2,372.5 71.5,372.7 71.9,372.7 72.2,372.6 72.6,372.7 72.9,373.0 73.3,372.9 73.6,372.6 74.0,372.6 74.3,372.6 74.7,372.3 75.0,372.7 75.4,372.8 75.7,373.0 76.1,373.6 76.4,372.7 76.8,372.6 77.1,372.8 77.5,372.8 77.8,373.1 78.2,372.5 78.5,372.4 78.9,372.9 79.2,373.3 79.6,373.0 79.9,373.0 80.3,373.0 80.6,372.7 81.0,372.8 81.3,373.3 81.7,373.6 82.0,373.9 82.4,373.9 82.7,373.5 83.1,373.6 83.4,373.2 83.8,372.9 84.1,373.5 84.5,373.4 84.8,373.1 85.2,373.2 85.5,373.3 85.9,373.2 86.2,373.0 86.6,373.2 86.9,373.2 87.3,372.9 87.6,373.2 88.0,373.0 88.3,372.5 88.7,372.5 89.0,373.1 89.4,373.3 89.7,372.8 90.1,372.6 90.4,373.0 90.8,373.0 91.1,372.5 91.5,373.0 91.8,373.0 92.2,372.8 92.5,373.1 92.9,373.1 93.2,373.1 93.6,373.6 93.9,373.4 94.3,372.7 94.6,372.4 95.0,372.7 95.3,373.1 95.7,373.2 96.0,373.2 96.4,373.0 96.7,372.9 97.1,372.9 97.4,373.1 97.8,373.2 98.1,373.2 98.5,373.8 98.8,373.9 99.2,373.0 99.5,373.3 99.9,373.8 100.2,373.1 100.6,373.3 100.9,373.5 101.3,373.1 101.6,372.9 102.0,372.8 102.3,373.0 102.7,373.6 103.0,373.5 103.4,373.3 103.7,373.9 104.1,373.5 104.4,373.0 104.8,373.3 105.1,372.9 105.5,372.7 105.8,373.0 106.2,373.4 106.5,373.3 106.9,373.2 107.2,373.5 107.6,373.6 107.9,373.7 108.3,373.7 108.6,373.6 109.0,374.0 109.3,374.0 109.7,373.6 110.0,373.6 110.4,373.3 110.7,373.0 111.1,373.5 111.4,373.8 111.8,374.0 112.1,373.8 112.5,373.0 112.8,373.5 113.2,374.2 113.5,373.4 113.9,373.5 114.2,373.8 114.6,372.9 114.9,372.8 115.3,373.2 115.6,373.7 116.0,373.6 116.3,373.1 116.7,373.3 117.0,373.2 117.4,373.1 117.7,373.2 118.1,373.8 118.4,373.9 118.8,373.4 119.1,372.9 119.5,373.2 119.8,373.3 120.2,373.1 120.5,372.8 120.9,373.5 121.2,374.3 121.6,373.5 121.9,373.5 122.3,374.1 122.6,373.2 123.0,372.7 123.3,373.2 123.7,373.6 124.0,373.6 124.4,373.4 124.7,373.4 125.1,374.0 125.4,374.6 125.8,374.0 126.1,373.2 126.5,374.1 126.8,374.1 127.2,373.2 127.5,373.5 127.9,373.8 128.2,374.1 128.6,374.1 128.9,373.6 129.3,373.6 129.6,374.0 130.0,374.4 130.3,374.3 130.7,373.4 131.0,373.1 131.4,373.5 131.7,372.2 132.1,367.7 132.4,362.5 132.8,358.9 133.1,359.5 133.5,363.6 133.8,368.7 134.2,372.6 134.5,373.6 134.9,373.7 135.2,374.5 135.6,375.1 135.9,374.8 136.3,374.5 136.6,374.6 137.0,374.5 137.3,374.2 137.7,374.0 138.0,374.0 138.4,374.3 138.7,375.0 139.1,375.0 139.4,374.6 139.8,375.1 140.1,374.7 140.5,374.7 140.8,374.1 141.2,373.9 141.5,374.7 141.9,374.1 142.2,373.5 142.6,374.5 142.9,374.8 143.3,374.2 143.6,374.2 144.0,374.4 144.3,374.7 144.7,375.0 145.0,374.7 145.4,374.4 145.7,374.5 146.1,375.1 146.4,375.2 146.8,375.0 147.1,374.9 147.5,374.4 147.8,374.2 148.2,374.4 148.5,373.2 148.9,370.9 149.2,370.7 149.6,373.0 149.9,374.6 150.3,374.7 150.6,374.8 151.0,375.0 151.3,375.2 151.7,375.4 152.0,375.6 152.4,375.7 152.7,375.7 153.1,375.3 153.4,375.0 153.8,375.3 154.1,375.2 154.5,375.3 154.8,375.7 155.2,375.4 155.5,374.6 155.9,375.1 156.2,375.6 156.6,375.5 156.9,375.2 157.3,375.5 157.6,376.1 158.0,375.6 158.3,375.3 158.7,375.4 159.0,375.5 159.4,375.4 159.7,375.1 160.1,375.6 160.4,375.9 160.8,375.6 161.1,375.6 161.5,375.0 161.8,375.1 162.2,375.7 162.5,375.5 162.9,375.6 163.2,375.5 163.6,375.6 163.9,375.3 164.3,373.4 164.6,371.0 165.0,369.7 165.3,371.1 165.7,373.3 166.0,374.5 166.4,375.6 166.7,375.9 167.1,376.0 167.4,376.3 167.8,375.8 168.1,375.6 168.5,376.0 168.8,376.4 169.2,376.3 169.5,376.3 169.9,376.9 170.2,376.6 170.6,375.8 170.9,375.6 171.3,375.5 171.6,375.7 172.0,375.9 172.3,375.7 172.7,376.1 173.0,375.7 173.4,375.2 173.7,376.5 174.1,377.2 174.4,376.8 174.8,376.7 175.1,377.0 175.5,377.1 175.8,376.6 176.2,376.2 176.5,376.5 176.9,377.8 177.2,379.6 177.6,381.1 177.9,380.7 178.3,378.8 178.6,377.5 179.0,376.7 179.3,376.3 179.7,377.1 180.0,377.2 180.4,377.0 180.7,377.3 181.1,377.3 181.4,377.1 181.8,376.4 182.1,376.1 182.5,376.3 182.8,375.9 183.2,375.9 183.5,375.9 183.9,375.6 184.2,375.9 184.6,376.3 184.9,376.1 185.3,375.8 185.6,375.8 186.0,375.9 186.3,375.9 186.7,376.0 187.0,375.9 187.4,376.0 187.7,376.3 188.1,376.2 188.4,375.9 188.8,375.6 189.1,375.8 189.5,375.9 189.8,375.8 190.2,375.1 190.5,374.5 190.9,375.4 191.2,376.3 191.6,376.7 191.9,376.9 192.3,376.7 192.6,376.6 193.0,376.3 193.3,376.6 193.7,376.9 194.0,376.5 194.4,376.0 194.7,374.8 195.1,374.6 195.4,375.3 195.8,376.3 196.1,377.0 196.5,377.3 196.8,378.1 197.2,378.2 197.5,378.2 197.9,378.6 198.2,378.6 198.6,378.7 198.9,378.3 199.3,378.3 199.6,379.1 200.0,378.9 200.3,378.6 200.7,378.7 201.0,378.9 201.4,378.9 201.7,379.3 202.1,379.5 202.4,378.6 202.8,379.2 203.1,379.9 203.5,379.5 203.8,379.3 204.2,379.1 204.5,378.8 204.9,379.1 205.2,379.4 205.6,379.4 205.9,379.2 206.3,378.8 206.6,378.6 207.0,379.0 207.3,379.5 207.7,379.0 208.0,378.5 208.4,378.9 208.7,379.2 209.1,379.0 209.4,378.4 209.8,378.1 210.1,378.3 210.5,378.4 210.8,378.1 211.2,378.4 211.5,378.9 211.9,378.6 212.2,378.2 212.6,378.0 212.9,378.7 213.3,378.2 213.6,378.0 214.0,378.6 214.3,378.3 214.7,378.4 215.0,378.5 215.4,378.5 215.7,378.5 216.1,377.5 216.4,376.4 216.8,374.1 217.1,371.4 217.5,369.5 217.8,369.7 218.2,372.7 218.5,375.7 218.9,377.3 219.2,378.2 219.6,378.3 219.9,378.3 220.3,378.3 220.6,378.3 221.0,378.5 221.3,378.3 221.7,378.4 222.0,379.1 222.4,378.7 222.7,377.6 223.1,376.8 223.4,373.7 223.8,369.6 224.1,366.9 224.5,367.3 224.8,371.2 225.2,375.7 225.5,378.2 225.9,378.8 226.2,378.9 226.6,378.4 226.9,378.1 227.3,378.9 227.6,379.4 228.0,379.2 228.3,379.1 228.7,378.7 229.0,378.1 229.4,376.6 229.7,374.5 230.1,373.8 230.4,375.0 230.8,377.3 231.1,378.5 231.5,378.9 231.8,379.2 232.2,379.2 232.5,379.4 232.9,378.9 233.2,378.1 233.6,378.7 233.9,379.4" fill="none" stroke="#1a14d8" stroke-width="1.3" stroke-linejoin="round"/><path d="M22.4,396.0 22.8,396.4 23.1,395.5 23.5,395.1 23.8,395.8 24.2,396.1 24.5,396.0 24.9,396.0 25.2,395.8 25.6,395.6 25.9,395.5 26.3,395.1 26.6,394.8 27.0,395.1 27.3,395.1 27.7,395.3 28.0,395.6 28.4,395.7 28.7,395.4 29.1,395.2 29.4,395.0 29.8,394.4 30.1,394.6 30.5,394.8 30.8,394.4 31.2,393.9 31.5,394.3 31.9,394.4 32.2,394.6 32.6,394.8 32.9,394.6 33.3,394.5 33.6,394.6 34.0,394.4 34.3,394.4 34.7,394.3 35.0,394.0 35.4,393.9 35.7,394.0 36.1,394.1 36.4,393.8 36.8,394.2 37.1,394.2 37.5,393.7 37.8,393.8 38.2,394.2 38.5,394.0 38.9,393.7 39.2,393.8 39.6,393.2 39.9,393.3 40.3,393.8 40.6,393.6 41.0,393.3 41.3,393.0 41.7,392.6 42.0,392.8 42.4,393.2 42.7,393.1 43.1,393.0 43.4,393.3 43.8,393.2 44.1,393.1 44.5,393.3 44.8,392.9 45.2,392.7 45.5,392.5 45.9,392.4 46.2,392.8 46.6,392.5 46.9,392.2 47.3,392.3 47.6,392.4 48.0,392.3 48.3,392.2 48.7,392.2 49.0,392.2 49.4,391.9 49.7,392.0 50.1,392.3 50.4,392.0 50.8,391.6 51.1,392.2 51.5,392.1 51.8,391.5 52.2,391.6 52.5,391.8 52.9,391.9 53.2,391.7 53.6,391.5 53.9,391.8 54.3,392.0 54.6,391.5 55.0,391.6 55.3,391.6 55.7,390.9 56.0,390.8 56.4,391.1 56.7,391.2 57.1,391.2 57.4,391.4 57.8,391.3 58.1,391.0 58.5,391.1 58.8,390.0 59.2,388.2 59.5,387.9 59.9,388.4 60.2,388.9 60.6,389.7 60.9,390.3 61.3,389.9 61.6,390.3 62.0,391.1 62.3,391.1 62.7,390.6 63.0,390.3 63.4,390.2 63.7,390.1 64.1,390.2 64.4,390.2 64.8,390.2 65.1,390.3 65.5,390.5 65.8,390.5 66.2,389.9 66.5,389.2 66.9,389.6 67.2,389.8 67.6,389.8 67.9,389.9 68.3,389.8 68.6,389.9 69.0,390.0 69.3,389.8 69.7,389.5 70.0,389.7 70.4,389.9 70.7,389.8 71.1,389.8 71.4,389.8 71.8,389.8 72.1,389.5 72.5,389.5 72.8,389.3 73.2,389.2 73.5,389.3 73.9,389.4 74.2,389.2 74.6,389.7 74.9,389.7 75.3,389.1 75.6,389.9 76.0,389.8 76.3,389.4 76.7,389.7 77.0,389.5 77.4,389.0 77.7,388.7 78.1,389.0 78.4,389.5 78.8,389.0 79.1,388.9 79.5,389.2 79.8,389.4 80.2,389.6 80.5,389.2 80.9,389.0 81.2,389.2 81.6,389.6 81.9,390.3 82.3,390.1 82.6,389.4 83.0,389.5 83.3,389.4 83.7,389.4 84.0,389.5 84.4,389.4 84.7,389.1 85.1,389.1 85.4,389.5 85.8,389.5 86.1,389.6 86.5,389.8 86.8,389.4 87.2,389.6 87.5,389.4 87.9,389.3 88.2,389.9 88.6,389.6 88.9,389.2 89.3,389.4 89.6,389.8 90.0,389.6 90.3,389.4 90.7,389.5 91.0,389.5 91.4,389.0 91.7,388.9 92.1,389.1 92.4,388.8 92.8,388.9 93.1,389.1 93.5,389.2 93.8,389.0 94.2,388.6 94.5,388.6 94.9,389.1 95.2,389.7 95.6,389.7 95.9,389.8 96.3,389.7 96.6,389.5 97.0,388.9 97.3,388.8 97.7,389.1 98.0,388.9 98.4,388.7 98.7,389.1 99.1,389.4 99.4,388.8 99.8,388.8 100.1,389.1 100.5,388.8 100.8,388.7 101.2,388.8 101.5,388.3 101.9,388.1 102.2,388.8 102.6,389.2 102.9,389.1 103.3,388.7 103.6,388.5 104.0,388.8 104.3,389.1 104.7,388.9 105.0,388.5 105.4,388.9 105.7,389.2 106.1,389.5 106.4,392.2 106.8,397.6 107.1,399.8 107.5,395.3 107.8,390.5 108.2,388.7 108.5,389.0 108.9,389.6 109.2,389.5 109.6,389.3 109.9,388.6 110.3,388.1 110.6,388.7 111.0,388.9 111.3,388.8 111.7,388.7 112.0,388.5 112.4,388.8 112.7,388.8 113.1,388.7 113.4,388.8 113.8,388.9 114.1,389.1 114.5,389.3 114.8,388.8 115.2,388.4 115.5,388.5 115.9,388.8 116.2,388.7 116.6,388.7 116.9,389.0 117.3,389.0 117.6,388.6 118.0,388.4 118.3,388.4 118.7,388.5 119.0,389.0 119.4,388.5 119.7,388.1 120.1,388.4 120.4,388.5 120.8,388.9 121.1,389.0 121.5,388.7 121.8,388.4 122.2,388.7 122.5,389.0 122.9,388.8 123.2,388.8 123.6,388.1 123.9,387.8 124.3,387.9 124.6,388.4 125.0,388.6 125.3,388.6 125.7,388.7 126.0,388.7 126.4,388.8 126.7,388.8 127.1,388.2 127.4,388.0 127.8,388.8 128.1,388.7 128.5,388.6 128.8,389.2 129.2,388.8 129.5,388.5 129.9,388.3 130.2,388.4 130.6,388.5 130.9,388.1 131.3,387.9 131.6,387.2 132.0,384.6 132.3,380.3 132.7,376.0 133.0,374.7 133.4,378.0 133.7,383.6 134.1,387.0 134.4,388.0 134.8,388.4 135.1,388.8 135.5,389.0 135.8,388.9 136.2,388.5 136.5,388.3 136.9,388.5 137.2,389.0 137.6,389.3 137.9,388.5 138.3,388.7 138.6,389.6 139.0,389.8 139.3,388.9 139.7,388.7 140.0,389.5 140.4,389.6 140.7,389.4 141.1,388.9 141.4,388.9 141.8,389.3 142.1,389.5 142.5,389.8 142.8,389.6 143.2,389.7 143.5,389.5 143.9,389.2 144.2,389.5 144.6,389.8 144.9,389.7 145.3,389.9 145.6,390.1 146.0,389.7 146.3,389.6 146.7,389.7 147.0,389.4 147.4,389.4 147.7,389.9 148.1,390.5 148.4,389.8 148.8,389.9 149.1,390.5 149.5,390.2 149.8,390.1 150.2,390.7 150.5,390.7 150.9,390.3 151.2,390.5 151.6,390.2 151.9,389.7 152.3,389.7 152.6,390.0 153.0,390.5 153.3,390.4 153.7,389.9 154.0,390.2 154.4,390.4 154.7,390.5 155.1,390.6 155.4,390.5 155.8,390.5 156.1,390.6 156.5,390.4 156.8,390.2 157.2,390.8 157.5,391.8 157.9,391.7 158.2,390.7 158.6,390.4 158.9,391.1 159.3,390.8 159.6,390.4 160.0,390.7 160.3,390.6 160.7,390.6 161.0,391.0 161.4,391.2 161.7,390.9 162.1,391.4 162.4,391.3 162.8,390.5 163.1,390.9 163.5,391.8 163.8,391.7 164.2,391.4 164.5,391.1 164.9,390.8 165.2,391.5 165.6,392.0 165.9,391.8 166.3,391.4 166.6,391.0 167.0,391.0 167.3,391.0 167.7,391.4 168.0,391.5 168.4,391.3 168.7,391.7 169.1,391.9 169.4,391.8 169.8,391.8 170.1,391.8 170.5,391.3 170.8,391.3 171.2,391.7 171.5,391.6 171.9,391.8 172.2,391.8 172.6,392.1 172.9,392.2 173.3,392.0 173.6,392.1 174.0,392.1 174.3,392.2 174.7,392.4 175.0,392.4 175.4,392.1 175.7,391.8 176.1,391.8 176.4,392.1 176.8,391.8 177.1,391.6 177.5,391.8 177.8,391.9 178.2,392.0 178.5,392.3 178.9,392.7 179.2,392.7 179.6,392.4 179.9,392.1 180.3,392.3 180.6,392.8 181.0,393.3 181.3,392.8 181.7,392.5 182.0,393.2 182.4,392.8 182.7,392.3 183.1,392.8 183.4,393.0 183.8,392.5 184.1,392.7 184.5,393.2 184.8,393.0 185.2,392.5 185.5,392.3 185.9,392.9 186.2,393.1 186.6,392.9 186.9,392.8 187.3,393.0 187.6,393.0 188.0,392.8 188.3,393.0 188.7,392.6 189.0,392.8 189.4,392.8 189.7,392.3 190.1,392.6 190.4,392.5 190.8,392.0 191.1,392.3 191.5,392.6 191.8,392.6 192.2,392.8 192.5,393.4 192.9,393.2 193.2,393.3 193.6,393.4 193.9,392.9 194.3,392.2 194.6,391.9 195.0,392.6 195.3,393.0 195.7,392.8 196.0,392.8 196.4,393.2 196.7,393.0 197.1,392.4 197.4,392.3 197.8,392.6 198.1,392.9 198.5,393.2 198.8,392.9 199.2,392.7 199.5,392.9 199.9,392.9 200.2,393.2 200.6,393.5 200.9,393.2 201.3,392.7 201.6,392.7 202.0,392.7 202.3,392.8 202.7,392.9 203.0,392.9 203.4,392.7 203.7,392.5 204.1,392.8 204.4,393.6 204.8,393.8 205.1,393.4 205.5,393.3 205.8,393.1 206.2,393.5 206.5,393.5 206.9,392.8 207.2,392.6 207.6,392.9 207.9,393.0 208.3,392.7 208.6,392.8 209.0,392.7 209.3,392.9 209.7,392.9 210.0,393.3 210.4,393.1 210.7,392.3 211.1,392.9 211.4,393.3 211.8,393.3 212.1,393.2 212.5,393.4 212.8,393.3 213.2,393.4 213.5,393.5 213.9,393.4 214.2,393.3 214.6,393.6 214.9,393.6 215.3,393.5 215.6,394.0 216.0,393.9 216.3,393.8 216.7,393.4 217.0,392.8 217.4,392.3 217.7,391.6 218.1,391.0 218.4,391.2 218.8,391.4 219.1,391.7 219.5,392.7 219.8,393.1 220.2,393.3 220.5,394.1 220.9,394.2 221.2,394.1 221.6,394.2 221.9,394.4 222.3,394.4 222.6,394.2 223.0,393.3 223.3,393.0 223.7,393.5 224.0,392.9 224.4,391.9 224.7,391.5 225.1,391.3 225.4,391.4 225.8,392.5 226.1,393.2 226.5,393.7 226.8,394.2 227.2,394.1 227.5,394.1 227.9,394.3 228.2,394.3 228.6,394.7 228.9,394.8 229.3,394.5 229.6,394.2 230.0,394.3 230.3,394.9 230.7,394.9 231.0,394.9 231.4,395.1 231.7,394.8 232.1,394.5 232.4,394.8 232.8,394.6 233.1,394.7 233.5,394.8 233.8,394.9" fill="none" stroke="#e4e43a" stroke-width="1.6" stroke-linejoin="round"/><path d="M22.4,410.5 22.8,410.5 23.1,410.4 23.5,410.1 23.8,410.1 24.2,410.0 24.5,410.1 24.9,410.6 25.2,410.4 25.6,409.9 25.9,410.1 26.3,410.3 26.6,410.2 27.0,409.8 27.3,409.8 27.7,410.1 28.0,409.8 28.4,409.5 28.7,409.3 29.1,409.1 29.4,409.1 29.8,409.3 30.1,409.4 30.5,409.4 30.8,409.7 31.2,409.6 31.5,408.9 31.9,408.8 32.2,409.3 32.6,409.4 32.9,409.1 33.3,408.9 33.6,409.0 34.0,408.9 34.3,409.3 34.7,409.3 35.0,409.0 35.4,409.3 35.7,409.2 36.1,408.9 36.4,409.0 36.8,409.0 37.1,408.7 37.5,408.7 37.8,409.2 38.2,408.8 38.5,408.7 38.9,409.0 39.2,408.6 39.6,409.0 39.9,409.3 40.3,408.5 40.6,408.3 41.0,408.7 41.3,408.6 41.7,408.6 42.0,408.6 42.4,408.5 42.7,408.8 43.1,408.5 43.4,408.2 43.8,408.2 44.1,408.1 44.5,407.9 44.8,407.7 45.2,407.9 45.5,408.2 45.9,408.5 46.2,408.0 46.6,407.5 46.9,407.9 47.3,407.6 47.6,407.3 48.0,407.7 48.3,408.0 48.7,408.2 49.0,407.8 49.4,407.5 49.7,407.5 50.1,408.1 50.4,408.8 50.8,409.8 51.1,410.4 51.5,409.1 51.8,407.7 52.2,407.1 52.5,407.1 52.9,407.2 53.2,407.4 53.6,407.6 53.9,407.3 54.3,407.3 54.6,407.2 55.0,407.2 55.3,407.3 55.7,407.1 56.0,406.8 56.4,406.7 56.7,406.6 57.1,406.0 57.4,406.3 57.8,406.5 58.1,406.5 58.5,407.0 58.8,405.9 59.2,404.1 59.5,403.5 59.9,404.3 60.2,405.4 60.6,406.0 60.9,406.5 61.3,406.7 61.6,406.3 62.0,406.1 62.3,406.3 62.7,406.0 63.0,406.1 63.4,406.1 63.7,406.2 64.1,406.4 64.4,406.2 64.8,405.9 65.1,405.9 65.5,405.5 65.8,405.2 66.2,405.7 66.5,405.5 66.9,405.5 67.2,405.6 67.6,405.5 67.9,405.7 68.3,405.7 68.6,405.9 69.0,405.3 69.3,405.5 69.7,406.1 70.0,405.8 70.4,405.4 70.7,405.4 71.1,405.2 71.4,405.5 71.8,405.6 72.1,405.3 72.5,405.2 72.8,405.1 73.2,405.0 73.5,405.4 73.9,405.7 74.2,405.6 74.6,405.6 74.9,405.2 75.3,405.1 75.6,405.2 76.0,405.2 76.3,405.3 76.7,405.2 77.0,404.9 77.4,404.8 77.7,405.5 78.1,405.5 78.4,404.9 78.8,405.1 79.1,405.7 79.5,405.3 79.8,404.9 80.2,405.1 80.5,404.7 80.9,405.0 81.2,405.4 81.6,405.2 81.9,405.0 82.3,405.1 82.6,405.2 83.0,405.0 83.3,404.9 83.7,404.6 84.0,405.2 84.4,405.3 84.7,405.1 85.1,405.2 85.4,405.0 85.8,404.9 86.1,405.1 86.5,405.2 86.8,405.0 87.2,405.0 87.5,405.3 87.9,405.5 88.2,405.3 88.6,405.0 88.9,404.6 89.3,404.9 89.6,405.4 90.0,405.2 90.3,405.1 90.7,405.3 91.0,405.4 91.4,405.5 91.7,405.2 92.1,405.3 92.4,405.2 92.8,405.0 93.1,405.4 93.5,405.5 93.8,405.8 94.2,405.9 94.5,405.3 94.9,404.6 95.2,405.0 95.6,405.2 95.9,405.0 96.3,405.5 96.6,405.1 97.0,404.5 97.3,404.9 97.7,405.4 98.0,405.3 98.4,405.3 98.7,405.2 99.1,404.9 99.4,405.1 99.8,405.2 100.1,404.9 100.5,405.2 100.8,405.6 101.2,405.6 101.5,405.4 101.9,405.2 102.2,405.2 102.6,405.1 102.9,405.4 103.3,405.5 103.6,405.5 104.0,405.8 104.3,406.2 104.7,405.8 105.0,405.6 105.4,405.9 105.7,405.7 106.1,405.4 106.4,405.3 106.8,405.8 107.1,405.9 107.5,405.8 107.8,405.8 108.2,406.0 108.5,406.1 108.9,405.4 109.2,405.2 109.6,405.3 109.9,404.7 110.3,405.1 110.6,406.1 111.0,406.3 111.3,405.7 111.7,405.5 112.0,406.0 112.4,406.3 112.7,406.1 113.1,406.1 113.4,406.1 113.8,406.3 114.1,406.4 114.5,406.3 114.8,405.9 115.2,406.0 115.5,406.1 115.9,406.3 116.2,406.2 116.6,405.9 116.9,406.2 117.3,405.9 117.6,406.4 118.0,407.0 118.3,406.5 118.7,406.4 119.0,406.6 119.4,405.8 119.7,405.8 120.1,406.4 120.4,406.4 120.8,406.2 121.1,406.1 121.5,406.3 121.8,406.7 122.2,406.8 122.5,406.6 122.9,406.8 123.2,406.7 123.6,406.3 123.9,406.1 124.3,406.5 124.6,407.2 125.0,407.0 125.3,407.0 125.7,406.8 126.0,406.7 126.4,406.7 126.7,406.6 127.1,406.7 127.4,407.1 127.8,407.3 128.1,406.9 128.5,406.7 128.8,406.6 129.2,407.1 129.5,407.4 129.9,407.1 130.2,406.9 130.6,406.7 130.9,406.7 131.3,407.0 131.6,406.0 132.0,403.2 132.3,398.8 132.7,394.5 133.0,393.0 133.4,396.0 133.7,401.1 134.1,404.9 134.4,406.7 134.8,407.2 135.1,407.8 135.5,407.7 135.8,407.2 136.2,407.4 136.5,407.5 136.9,407.3 137.2,407.4 137.6,408.1 137.9,408.0 138.3,407.5 138.6,407.4 139.0,407.5 139.3,407.5 139.7,407.2 140.0,407.8 140.4,407.9 140.7,407.8 141.1,408.4 141.4,408.3 141.8,408.1 142.1,408.5 142.5,408.3 142.8,407.8 143.2,407.5 143.5,407.7 143.9,408.4 144.2,408.6 144.6,408.1 144.9,407.7 145.3,407.8 145.6,408.1 146.0,408.2 146.3,408.2 146.7,408.4 147.0,408.3 147.4,408.2 147.7,408.4 148.1,408.4 148.4,408.5 148.8,408.9 149.1,409.0 149.5,408.6 149.8,408.1 150.2,408.2 150.5,408.2 150.9,407.8 151.2,408.5 151.6,409.0 151.9,408.8 152.3,408.3 152.6,408.2 153.0,408.5 153.3,408.8 153.7,409.4 154.0,409.4 154.4,408.7 154.7,408.4 155.1,408.6 155.4,408.9 155.8,408.6 156.1,408.7 156.5,408.8 156.8,409.0 157.2,409.5 157.5,409.6 157.9,409.2 158.2,409.1 158.6,409.2 158.9,409.1 159.3,409.1 159.6,408.9 160.0,408.7 160.3,409.1 160.7,409.5 161.0,409.4 161.4,409.6 161.7,409.2 162.1,408.9 162.4,409.3 162.8,409.6 163.1,409.5 163.5,409.7 163.8,409.8 164.2,409.4 164.5,409.1 164.9,409.6 165.2,410.0 165.6,409.4 165.9,409.6 166.3,410.2 166.6,410.2 167.0,410.0 167.3,409.7 167.7,409.5 168.0,410.2 168.4,410.4 168.7,410.3 169.1,410.2 169.4,409.9 169.8,409.7 170.1,409.6 170.5,410.2 170.8,410.0 171.2,410.1 171.5,410.5 171.9,410.0 172.2,409.9 172.6,410.0 172.9,410.1 173.3,410.2 173.6,410.0 174.0,410.1 174.3,410.1 174.7,409.9 175.0,410.3 175.4,411.6 175.7,414.9 176.1,422.7 176.4,431.6 176.8,432.2 177.1,424.5 177.5,416.1 177.8,412.1 178.2,411.0 178.5,410.6 178.9,410.7 179.2,410.5 179.6,410.7 179.9,410.9 180.3,410.9 180.6,411.0 181.0,410.6 181.3,410.6 181.7,410.9 182.0,411.2 182.4,411.0 182.7,410.8 183.1,410.6 183.4,410.8 183.8,410.9 184.1,410.4 184.5,410.7 184.8,411.3 185.2,411.0 185.5,410.6 185.9,410.8 186.2,410.8 186.6,411.0 186.9,411.1 187.3,410.9 187.6,411.3 188.0,411.3 188.3,411.3 188.7,411.2 189.0,410.9 189.4,410.7 189.7,411.4 190.1,411.8 190.4,411.4 190.8,411.5 191.1,411.5 191.5,411.6 191.8,412.0 192.2,411.8 192.5,411.0 192.9,411.0 193.2,411.1 193.6,411.5 193.9,412.0 194.3,411.7 194.6,411.2 195.0,411.4 195.3,412.0 195.7,411.5 196.0,411.3 196.4,411.7 196.7,411.9 197.1,411.9 197.4,411.6 197.8,411.5 198.1,411.4 198.5,412.1 198.8,412.5 199.2,412.1 199.5,411.8 199.9,411.4 200.2,411.6 200.6,412.0 200.9,412.1 201.3,412.1 201.6,411.9 202.0,411.9 202.3,412.2 202.7,412.5 203.0,413.0 203.4,412.7 203.7,412.1 204.1,412.1 204.4,412.2 204.8,412.1 205.1,412.2 205.5,412.2 205.8,412.3 206.2,412.6 206.5,412.5 206.9,412.5 207.2,412.6 207.6,414.4 207.9,420.2 208.3,425.3 208.6,422.3 209.0,416.1 209.3,412.8 209.7,412.3 210.0,412.3 210.4,412.2 210.7,412.4 211.1,412.1 211.4,412.2 211.8,412.7 212.1,412.7 212.5,412.5 212.8,412.5 213.2,412.4 213.5,412.3 213.9,412.3 214.2,411.9 214.6,411.0 214.9,409.9 215.3,408.9 215.6,407.9 216.0,407.7 216.3,408.7 216.7,409.7 217.0,410.9 217.4,412.2 217.7,412.6 218.1,412.9 218.4,412.8 218.8,412.6 219.1,413.0 219.5,413.1 219.8,413.0 220.2,412.6 220.5,412.5 220.9,412.8 221.2,412.4 221.6,411.2 221.9,409.6 222.3,409.0 222.6,409.2 223.0,409.0 223.3,410.1 223.7,411.3 224.0,411.7 224.4,412.3 224.7,413.1 225.1,413.2 225.4,413.0 225.8,413.5 226.1,413.8 226.5,413.4 226.8,413.0 227.2,412.8 227.5,412.7 227.9,413.1 228.2,413.3 228.6,413.3 228.9,413.4 229.3,413.2 229.6,413.0 230.0,413.3 230.3,413.5 230.7,413.6 231.0,413.6 231.4,413.3 231.7,413.3 232.1,413.1 232.4,412.7 232.8,413.0 233.1,413.4 233.5,413.4 233.8,413.0" fill="none" stroke="#c8c828" stroke-width="1.2" stroke-linejoin="round"/><path d="M116.7,431.3 117.0,431.0 117.4,431.1 117.7,431.4 118.1,431.2 118.4,431.3 118.8,431.7 119.1,432.0 119.5,432.5 119.8,432.7 120.2,432.7 120.5,432.3 120.9,432.4 121.2,432.8 121.6,432.5 121.9,432.3 122.3,432.5 122.6,432.8 123.0,432.6 123.3,432.2 123.7,432.6 124.0,432.7 124.4,432.3 124.7,432.4 125.1,432.8 125.4,432.6 125.8,432.7 126.1,432.8 126.5,432.4 126.8,432.8 127.2,433.1 127.5,432.1 127.9,432.4 128.2,433.3 128.6,433.2 128.9,433.3 129.3,433.9 129.6,433.3 130.0,432.3 130.3,432.2 130.7,433.2 131.0,433.2 131.4,432.0 131.7,430.2 132.1,426.8 132.4,421.9 132.8,418.4 133.1,419.5 133.5,423.8 133.8,428.6 134.2,431.6 134.5,432.9 134.9,433.2 135.2,433.0 135.6,433.9 135.9,434.2 136.3,433.9 136.6,434.5 137.0,434.6 137.3,433.9 137.7,433.8 138.0,433.7 138.4,434.0 138.7,434.1 139.1,434.3 139.4,434.3 139.8,433.8 140.1,433.8 140.5,434.1 140.8,434.3 141.2,434.5 141.5,434.3 141.9,434.1 142.2,434.8 142.6,434.7 142.9,434.3 143.3,434.8 143.6,434.9 144.0,434.3 144.3,433.7 144.7,434.5 145.0,435.1 145.4,434.9 145.7,434.7 146.1,434.9 146.4,435.1 146.8,434.7 147.1,434.4 147.5,434.5 147.8,434.7 148.2,434.5 148.5,434.3 148.9,434.2 149.2,434.7 149.6,434.6 149.9,434.6 150.3,435.1 150.6,435.0 151.0,434.7 151.3,434.7 151.7,435.1 152.0,434.9 152.4,434.6 152.7,434.9 153.1,435.1 153.4,435.2 153.8,434.9 154.1,435.5 154.5,435.8 154.8,435.0 155.2,434.8 155.5,435.2 155.9,435.6 156.2,435.2 156.6,435.3 156.9,435.3 157.3,435.0 157.6,435.6 158.0,436.2 158.3,436.0 158.7,435.5 159.0,435.9 159.4,435.7 159.7,435.5 160.1,435.9 160.4,436.1 160.8,436.1 161.1,435.8 161.5,436.0 161.8,435.8 162.2,435.9 162.5,436.0 162.9,435.6 163.2,435.7 163.6,436.0 163.9,436.3 164.3,436.2 164.6,436.3 165.0,436.6 165.3,436.4 165.7,436.0 166.0,436.3 166.4,436.6 166.7,435.9 167.1,435.6 167.4,436.2 167.8,436.1 168.1,435.9 168.5,435.9 168.8,436.2 169.2,436.7 169.5,436.7 169.9,437.0 170.2,436.9 170.6,436.5 170.9,437.1 171.3,436.9 171.6,436.6 172.0,436.6 172.3,436.5 172.7,437.4 173.0,437.5 173.4,436.8 173.7,437.3 174.1,437.4 174.4,436.8 174.8,437.1 175.1,436.8 175.5,437.0 175.8,437.8 176.2,437.7 176.5,437.5 176.9,437.3 177.2,437.4 177.6,436.7 177.9,436.5 178.3,437.4 178.6,436.9 179.0,437.0 179.3,437.5 179.7,437.4 180.0,437.5 180.4,437.7 180.7,437.8 181.1,437.4 181.4,437.3 181.8,437.6 182.1,437.6 182.5,437.6 182.8,437.8 183.2,438.3 183.5,438.5 183.9,438.7 184.2,438.7 184.6,438.1 184.9,437.6 185.3,437.7 185.6,438.0" fill="none" stroke="#7a7a18" stroke-width="2.0" stroke-linejoin="round"/><path d="M22.4,457.3 22.7,459.1 23.0,455.5 23.3,452.3 23.6,457.1 23.9,457.8 24.2,455.5 24.5,455.4 24.8,454.6 25.1,453.7 25.4,456.8 25.7,460.1 26.0,458.6 26.3,460.3 26.6,458.0 26.9,455.9 27.2,460.1 27.5,463.2 27.8,462.3 28.1,457.3 28.4,457.6 28.7,458.2 29.0,457.8 29.3,460.1 29.6,459.4 29.9,456.8 30.2,457.3 30.5,458.4 30.8,456.0 31.1,453.0 31.4,457.3 31.7,461.2 32.0,459.3 32.3,458.7 32.6,461.2 32.9,460.8 33.2,456.4 33.5,457.7 33.8,460.2 34.1,461.1 34.4,463.0 34.7,458.9 35.0,453.6 35.3,450.7 35.6,454.9 35.9,453.2 36.2,454.3 36.5,455.0 36.8,451.2 37.1,456.4 37.4,460.5 37.7,461.1 38.0,453.7 38.3,453.6 38.6,452.1 38.9,449.8 39.2,452.5 39.5,451.9 39.8,450.9 40.1,455.1 40.4,456.6 40.7,453.5 41.0,451.8 41.3,453.9 41.6,456.8 41.9,455.6 42.2,454.1 42.5,454.1 42.8,455.0 43.1,456.3 43.4,456.9 43.7,456.6 44.0,455.3 44.3,452.7 44.6,454.3 44.9,455.0 45.2,454.1 45.5,453.0 45.8,451.4 46.1,453.1 46.4,453.5 46.7,453.6 47.0,452.2 47.3,452.0 47.6,455.2 47.9,454.6 48.2,452.1 48.5,452.3 48.8,453.8 49.1,455.0 49.4,452.6 49.7,452.4 50.0,454.5 50.3,454.0 50.6,455.0 50.9,455.0 51.2,454.3 51.5,454.1 51.8,453.7 52.1,452.8 52.4,450.5 52.7,452.4 53.0,453.2 53.3,450.8 53.6,452.1 53.9,453.5 54.2,452.8 54.5,450.5 54.8,449.0 55.1,450.2 55.4,452.4 55.7,454.4 56.0,452.2 56.3,448.5 56.6,448.8 56.9,452.2 57.2,451.0 57.5,449.3 57.8,449.9" fill="none" stroke="#eab0dc" stroke-width="0.9" stroke-linejoin="round"/><path d="M22.4,449.1 22.7,447.5 23.0,449.2 23.3,448.7 23.6,450.1 23.9,454.1 24.2,453.5 24.5,451.7 24.8,452.5 25.1,452.2 25.4,452.0 25.7,454.5 26.0,456.2 26.3,453.6 26.6,450.3 26.9,449.3 27.2,450.8 27.5,451.6 27.8,452.1 28.1,453.3 28.4,452.2 28.7,453.8 29.0,454.2 29.3,452.8 29.6,453.6 29.9,450.3 30.2,449.9 30.5,452.5 30.8,456.3 31.1,459.4 31.4,456.4 31.7,453.5 32.0,453.1 32.3,453.7 32.6,452.9 32.9,450.3 33.2,456.3 33.5,456.2 33.8,446.4 34.1,449.0 34.4,454.9 34.7,452.7 35.0,450.4 35.3,451.0 35.6,452.9 35.9,454.1 36.2,452.9 36.5,451.6 36.8,451.1 37.1,452.8 37.4,454.3 37.7,454.0 38.0,454.3 38.3,454.1 38.6,453.3 38.9,453.8 39.2,451.7 39.5,450.8 39.8,451.5 40.1,452.4 40.4,454.1 40.7,454.2 41.0,451.3 41.3,451.4 41.6,454.3 41.9,455.7 42.2,453.7 42.5,451.5 42.8,450.3 43.1,449.0 43.4,451.1 43.7,453.3 44.0,453.5 44.3,455.3 44.6,454.8 44.9,451.0 45.2,451.1 45.5,451.9 45.8,452.0 46.1,451.5 46.4,451.3 46.7,450.1 47.0,449.9 47.3,450.5 47.6,452.1 47.9,451.6 48.2,452.6 48.5,454.8 48.8,454.2 49.1,452.9 49.4,451.3 49.7,451.6 50.0,450.8 50.3,449.4 50.6,451.2 50.9,452.4 51.2,450.9 51.5,449.6 51.8,450.3 52.1,450.6 52.4,450.3 52.7,450.9 53.0,451.2 53.3,451.9 53.6,451.9 53.9,451.6 54.2,451.2 54.5,450.7 54.8,450.7 55.1,450.7 55.4,451.4 55.7,450.6 56.0,449.9 56.3,448.6 56.6,449.0 56.9,450.0 57.2,449.6 57.5,451.6 57.8,452.3" fill="none" stroke="#d860b4" stroke-width="1.0" stroke-linejoin="round"/><path d="M22.4,456.9 22.7,455.5 23.0,455.6 23.3,458.1 23.6,457.0 23.9,454.6 24.2,451.5 24.5,454.2 24.8,456.6 25.1,456.9 25.4,459.5 25.7,458.9 26.0,454.2 26.3,451.9 26.6,455.5 26.9,458.8 27.2,458.9 27.5,457.1 27.8,453.6 28.1,451.6 28.4,453.1 28.7,453.7 29.0,456.0 29.3,453.6 29.6,452.1 29.9,454.7 30.2,453.3 30.5,452.9 30.8,455.7 31.1,455.4 31.4,455.6 31.7,457.0 32.0,455.2 32.3,456.0 32.6,454.9 32.9,454.3 33.2,454.2 33.5,452.2 33.8,452.4 34.1,453.8 34.4,454.6 34.7,452.8 35.0,453.4 35.3,455.8 35.6,453.1 35.9,451.7 36.2,450.3 36.5,451.4 36.8,454.2 37.1,451.7 37.4,451.1 37.7,454.9 38.0,455.8 38.3,451.1 38.6,450.7 38.9,454.6 39.2,453.8 39.5,451.9 39.8,453.6 40.1,454.3 40.4,451.8 40.7,451.7 41.0,450.3 41.3,455.0 41.6,456.6 41.9,451.1 42.2,452.8 42.5,450.9 42.8,451.0 43.1,453.7 43.4,451.7 43.7,453.3 44.0,455.3 44.3,452.8 44.6,453.1 44.9,455.7 45.2,453.1 45.5,452.2 45.8,452.3 46.1,452.2 46.4,452.9 46.7,452.8 47.0,449.7 47.3,449.5 47.6,454.8 47.9,453.3 48.2,454.1 48.5,457.9 48.8,454.1 49.1,453.3 49.4,455.1 49.7,453.2 50.0,452.1" fill="none" stroke="#e070c0" stroke-width="0.8" stroke-linejoin="round"/><path d="M46.5,452.3 46.9,452.3 47.2,452.1 47.6,452.1 47.9,452.8 48.3,452.5 48.6,452.3 49.0,452.4 49.3,452.1 49.7,451.8 50.0,451.4 50.4,451.9 50.7,452.3 51.1,452.6 51.4,452.7 51.8,452.1 52.1,451.7 52.5,451.9 52.8,451.9 53.2,451.9 53.5,451.9 53.9,451.5 54.2,451.2 54.6,451.7 54.9,452.0 55.3,451.3 55.6,451.5 56.0,451.3 56.3,451.2 56.7,451.1 57.0,451.0 57.4,451.0 57.7,450.4 58.1,450.4 58.4,450.5 58.8,450.7 59.1,451.1 59.5,451.0 59.8,451.0 60.2,450.7 60.5,450.7 60.9,451.1 61.2,451.0 61.6,450.5 61.9,450.3 62.3,450.5 62.6,450.5 63.0,451.0 63.3,450.9 63.7,450.2 64.0,450.4 64.4,450.8 64.7,450.8 65.1,450.4 65.4,450.3 65.8,450.4 66.1,450.8 66.5,450.7 66.8,450.4 67.2,450.5 67.5,450.6 67.9,450.8 68.2,450.4 68.6,450.9 68.9,451.3 69.3,450.5 69.6,450.3 70.0,450.3 70.3,450.6 70.7,450.8 71.0,450.7 71.4,450.7 71.7,450.3 72.1,450.0 72.4,450.1 72.8,450.4 73.1,450.7 73.5,450.3 73.8,450.1 74.2,450.7 74.5,450.9 74.9,450.5 75.2,450.4 75.6,450.7 75.9,450.5 76.3,450.9 76.6,450.7 77.0,450.1 77.3,450.5 77.7,450.6 78.0,450.5 78.4,450.8 78.7,451.2 79.1,451.0 79.4,450.9 79.8,450.7 80.1,450.1 80.5,450.7 80.8,450.7 81.2,450.7 81.5,450.9 81.9,450.4 82.2,450.4 82.6,450.6 82.9,450.5 83.3,450.7 83.6,451.0 84.0,450.5 84.3,450.2 84.7,450.3 85.0,450.4 85.4,450.8 85.7,451.0 86.1,450.2 86.4,450.3 86.8,450.1 87.1,450.1 87.5,450.2 87.8,449.8 88.2,450.5 88.5,450.5 88.9,450.0 89.2,450.3 89.6,450.1 89.9,449.4 90.3,450.2 90.6,450.4 91.0,450.1 91.3,450.5 91.7,450.4 92.0,450.2 92.4,450.3 92.7,450.3 93.1,450.5 93.4,450.7 93.8,450.5 94.1,450.5 94.5,450.3 94.8,449.8 95.2,449.7 95.5,450.1 95.9,450.7 96.2,450.6 96.6,449.6 96.9,449.5 97.3,450.1 97.6,450.3 98.0,450.2 98.3,450.4 98.7,450.6 99.0,450.0 99.4,449.8 99.7,450.0 100.1,449.9 100.4,450.4 100.8,450.8 101.1,450.7 101.5,450.1 101.8,449.8 102.2,450.1 102.5,449.9 102.9,449.7 103.2,450.1 103.6,450.4 103.9,450.1 104.3,450.0 104.6,450.4 105.0,450.4 105.3,449.6 105.7,449.6 106.0,450.1 106.4,449.9 106.7,449.8 107.1,449.6 107.4,449.9 107.8,450.3 108.1,449.9 108.5,449.8 108.8,450.0 109.2,449.7 109.5,449.0 109.9,448.5 110.2,449.7 110.6,450.1 110.9,449.5 111.3,449.9 111.6,449.9 112.0,450.0 112.3,449.9 112.7,449.7 113.0,449.4 113.4,449.5 113.7,450.2 114.1,450.1 114.4,450.0 114.8,449.9 115.1,450.1 115.5,450.2 115.8,449.8 116.2,449.8 116.5,449.8 116.9,449.5 117.2,449.7 117.6,449.8 117.9,449.8 118.3,449.7 118.6,449.7 119.0,449.3 119.3,449.7 119.7,450.1 120.0,450.0 120.4,450.0 120.7,449.6 121.1,449.6 121.4,449.6 121.8,449.5 122.1,449.7 122.5,449.7 122.8,449.9 123.2,449.8 123.5,449.4 123.9,449.6 124.2,450.1 124.6,450.1 124.9,450.0 125.3,449.4 125.6,449.2 126.0,449.6 126.3,449.1 126.7,449.1 127.0,449.6 127.4,449.2 127.7,449.0 128.1,449.3 128.4,449.7 128.8,449.9 129.1,449.4 129.5,449.0 129.8,449.1 130.2,449.4 130.5,449.4 130.9,449.3 131.2,449.5 131.6,449.0 131.9,446.7 132.3,442.4 132.6,437.9 133.0,436.7 133.3,439.5 133.7,444.1 134.0,447.2 134.4,448.6 134.7,449.2 135.1,448.8 135.4,448.8 135.8,449.2 136.1,449.8 136.5,450.4 136.8,449.9 137.2,449.8 137.5,450.1 137.9,450.5 138.2,450.7 138.6,450.6 138.9,450.6 139.3,450.5 139.6,450.8 140.0,450.7 140.3,450.4 140.7,450.5 141.0,450.4 141.4,450.5 141.7,450.5 142.1,450.0 142.4,450.6 142.8,450.7 143.1,450.3 143.5,450.1 143.8,449.9 144.2,450.1 144.5,450.1 144.9,450.5 145.2,450.6 145.6,450.0 145.9,450.5 146.3,451.0 146.6,450.2 147.0,449.9 147.3,450.7 147.7,450.7 148.0,450.4 148.4,450.5 148.7,450.1 149.1,449.9 149.4,450.7 149.8,451.3 150.1,451.1 150.5,450.8 150.8,451.0 151.2,451.0 151.5,451.1 151.9,450.8 152.2,450.7 152.6,451.1 152.9,451.3 153.3,450.8 153.6,450.8 154.0,451.3 154.3,451.1 154.7,450.7 155.0,450.7 155.4,450.7 155.7,450.1 156.1,450.6 156.4,451.2 156.8,451.2 157.1,451.3 157.5,451.3 157.8,451.6 158.2,451.8 158.5,451.9 158.9,452.4 159.2,452.2 159.6,451.8 159.9,452.1 160.3,451.7 160.6,451.2 161.0,451.5 161.3,451.2 161.7,451.4 162.0,452.2 162.4,451.7 162.7,451.1 163.1,451.7 163.4,452.2 163.8,451.6 164.1,451.4 164.5,451.8 164.8,451.2 165.2,451.2 165.5,451.5 165.9,451.7 166.2,451.9 166.6,451.8 166.9,451.8 167.3,451.8 167.6,452.0 168.0,452.3 168.3,452.4 168.7,452.0 169.0,451.6 169.4,451.7 169.7,452.2 170.1,452.5 170.4,452.0 170.8,451.6 171.1,451.6 171.5,451.9 171.8,451.9 172.2,451.9 172.5,452.6 172.9,452.5 173.2,452.4 173.6,452.1 173.9,452.0 174.3,452.5 174.6,452.2 175.0,452.5 175.3,452.7 175.7,452.2 176.0,452.2 176.4,452.6 176.7,452.4 177.1,452.2 177.4,452.3 177.8,452.4 178.1,452.5 178.5,452.5 178.8,452.8 179.2,452.8 179.5,452.8 179.9,453.0 180.2,453.0 180.6,452.9 180.9,452.8 181.3,452.9 181.6,453.2 182.0,453.5 182.3,453.7 182.7,453.0 183.0,452.7 183.4,453.1 183.7,453.4 184.1,454.1 184.4,454.6 184.8,455.5 185.1,455.3 185.5,454.0 185.8,453.2 186.2,452.7 186.5,453.2 186.9,453.2 187.2,452.7 187.6,452.9 187.9,453.3 188.3,452.9 188.6,453.0 189.0,453.3 189.3,452.6 189.7,452.9 190.0,453.3 190.4,454.0 190.7,454.0 191.1,453.2 191.4,453.0 191.8,452.9 192.1,453.1 192.5,453.6 192.8,453.3 193.2,453.4 193.5,453.1 193.9,452.7 194.2,452.9 194.6,452.9 194.9,452.8 195.3,453.2 195.6,453.3 196.0,453.1 196.3,453.6 196.7,454.1 197.0,454.1 197.4,453.1 197.7,452.8 198.1,453.3 198.4,453.2 198.8,453.1 199.1,453.1 199.5,453.5 199.8,453.5 200.2,453.1 200.5,452.8 200.9,453.2 201.2,453.2 201.6,453.3 201.9,453.6 202.3,453.4 202.6,453.6 203.0,453.6 203.3,453.7 203.7,453.5 204.0,452.9 204.4,453.7 204.7,454.2 205.1,453.1 205.4,453.5 205.8,453.8 206.1,453.9 206.5,454.8 206.8,454.5 207.2,454.0 207.5,453.6 207.9,453.9 208.2,454.0 208.6,454.0 208.9,454.1 209.3,453.4 209.6,453.3 210.0,453.8 210.3,453.8 210.7,453.9 211.0,453.8 211.4,454.2 211.7,454.3 212.1,454.0 212.4,453.7 212.8,453.8 213.1,454.7 213.5,454.6 213.8,454.2 214.2,453.7 214.5,453.7 214.9,453.7 215.2,452.3 215.6,451.0 215.9,450.2 216.3,449.2 216.6,449.3 217.0,450.4 217.3,451.9 217.7,452.8 218.0,453.4 218.4,454.2 218.7,453.8 219.1,453.6 219.4,453.9 219.8,454.4 220.1,454.5 220.5,454.3 220.8,454.4 221.2,455.0 221.5,454.6 221.9,454.0 222.2,453.1 222.6,451.1 222.9,449.9 223.3,449.5 223.6,449.9 224.0,450.8 224.3,451.9 224.7,453.7 225.0,454.6 225.4,454.5 225.7,455.1 226.1,454.6 226.4,454.3 226.8,454.6 227.1,454.5 227.5,454.5 227.8,454.5 228.2,455.0 228.5,455.3 228.9,455.1 229.2,455.0 229.6,454.6 229.9,453.7 230.3,454.3 230.6,455.6 231.0,455.4 231.3,454.8 231.7,454.7 232.0,455.2 232.4,454.9 232.7,454.6 233.1,455.1 233.4,454.8 233.8,455.2" fill="none" stroke="#d070b8" stroke-width="1.0" stroke-linejoin="round"/><path d="M71.8,488.8 72.1,488.6 72.5,488.7 72.8,488.9 73.2,489.1 73.5,489.1 73.9,489.3 74.2,489.5 74.6,489.4 74.9,489.2 75.3,488.9 75.6,488.9 76.0,489.0 76.3,489.2 76.7,489.0 77.0,488.8 77.4,489.1 77.7,489.0 78.1,488.9 78.4,489.4 78.8,489.2 79.1,488.9 79.5,489.0 79.8,489.4 80.2,489.6 80.5,489.0 80.9,489.0 81.2,489.6 81.6,490.0 81.9,489.9 82.3,489.6 82.6,489.1 83.0,489.2 83.3,489.6 83.7,489.6 84.0,490.0 84.4,490.1 84.7,489.8 85.1,489.9 85.4,489.8 85.8,489.5 86.1,489.4 86.5,489.8 86.8,490.1 87.2,489.8 87.5,490.0 87.9,490.2 88.2,489.6 88.6,489.7 88.9,490.0 89.3,489.6 89.6,489.8 90.0,490.0 90.3,489.8 90.7,490.0 91.0,489.7 91.4,489.3 91.7,489.7 92.1,490.0 92.4,490.0 92.8,489.7 93.1,489.7 93.5,489.9 93.8,490.3 94.2,490.0 94.5,489.4 94.9,489.7 95.2,490.1 95.6,490.0 95.9,490.2 96.3,490.6 96.6,490.4 97.0,490.1 97.3,490.4 97.7,490.4 98.0,490.0 98.4,490.1 98.7,490.2 99.1,490.3 99.4,490.4 99.8,490.3 100.1,490.6 100.5,490.6 100.8,490.4 101.2,490.2 101.5,490.7 101.9,491.2 102.2,490.5 102.6,490.4 102.9,492.9 103.3,497.4 103.6,499.4 104.0,496.3 104.3,492.4 104.7,490.8 105.0,490.5 105.4,490.5 105.7,490.7 106.1,491.1 106.4,491.3 106.8,490.9 107.1,490.9 107.5,490.9 107.8,490.4 108.2,490.4 108.5,490.9 108.9,490.8 109.2,490.8 109.6,490.9 109.9,490.7 110.3,490.5 110.6,491.0 111.0,491.4 111.3,491.1 111.7,491.0 112.0,490.4 112.4,490.8 112.7,491.0 113.1,491.1 113.4,491.2 113.8,491.2 114.1,491.1 114.5,490.3 114.8,490.7 115.2,491.1 115.5,490.9 115.9,491.2 116.2,491.0 116.6,490.5 116.9,490.4 117.3,490.3 117.6,490.2 118.0,490.3 118.3,490.5 118.7,490.7 119.0,490.7 119.4,490.7 119.7,491.2 120.1,491.2 120.4,491.1 120.8,491.0 121.1,490.9 121.5,491.2 121.8,491.0 122.2,490.6 122.5,490.7 122.9,491.1 123.2,491.4 123.6,491.3 123.9,491.4 124.3,490.9 124.6,490.5 125.0,490.9 125.3,490.9 125.7,491.0 126.0,491.1 126.4,491.6 126.7,491.6 127.1,491.5 127.4,491.5 127.8,491.3 128.1,490.8 128.5,490.8 128.8,491.5 129.2,491.2 129.5,491.0 129.9,491.1 130.2,491.7 130.6,491.7 130.9,490.9 131.3,489.8 131.6,486.8 132.0,480.3 132.3,468.9 132.7,457.9 133.0,456.8 133.4,466.3 133.7,478.4 134.1,486.8 134.4,490.3 134.8,491.9 135.1,492.2 135.5,491.7 135.8,491.6 136.2,491.4 136.5,491.3 136.9,491.5 137.2,491.8 137.6,491.5 137.9,491.2 138.3,491.6 138.6,492.2 139.0,492.3 139.3,492.1 139.7,492.1 140.0,492.4 140.4,492.3 140.7,492.5 141.1,492.4 141.4,492.1 141.8,491.8 142.1,492.3 142.5,492.5 142.8,492.1 143.2,492.4 143.5,492.2 143.9,492.1 144.2,492.4 144.6,492.4 144.9,492.2 145.3,492.2 145.6,492.1 146.0,492.2 146.3,492.5 146.7,492.6 147.0,492.8 147.4,492.7 147.7,492.4 148.1,492.6 148.4,492.8 148.8,492.9 149.1,492.9 149.5,492.8 149.8,492.9 150.2,492.9 150.5,492.6 150.9,492.5 151.2,492.7 151.6,493.2 151.9,493.1 152.3,492.9 152.6,492.9 153.0,492.3 153.3,492.7 153.7,493.3 154.0,493.3 154.4,492.9 154.7,492.7 155.1,493.1 155.4,492.7 155.8,492.8 156.1,493.0 156.5,493.0 156.8,492.8 157.2,492.5 157.5,492.8 157.9,492.6 158.2,492.8 158.6,493.5 158.9,493.5 159.3,493.4 159.6,493.7 160.0,493.7 160.3,493.3 160.7,492.8 161.0,493.0 161.4,493.3 161.7,493.2 162.1,493.4 162.4,493.7 162.8,493.2 163.1,493.2 163.5,493.5 163.8,493.6 164.2,493.7 164.5,493.7 164.9,493.6 165.2,493.3 165.6,493.4 165.9,493.5 166.3,493.5 166.6,493.9 167.0,493.7 167.3,493.5 167.7,493.5 168.0,493.2 168.4,493.3 168.7,493.3 169.1,493.5 169.4,493.7 169.8,493.6 170.1,493.9 170.5,494.3 170.8,494.1 171.2,493.4 171.5,493.4 171.9,493.9 172.2,494.3 172.6,494.3 172.9,493.8 173.3,494.1 173.6,494.5 174.0,494.3 174.3,494.2 174.7,494.3 175.0,494.8 175.4,494.6 175.7,494.0 176.1,494.1 176.4,494.4 176.8,494.5 177.1,494.8 177.5,495.9 177.8,496.9 178.2,496.6 178.5,495.4 178.9,494.7 179.2,494.0 179.6,493.8 179.9,494.3 180.3,494.6 180.6,495.1 181.0,495.3 181.3,494.9 181.7,495.0 182.0,494.7 182.4,494.2 182.7,494.2 183.1,494.3 183.4,495.0 183.8,495.2 184.1,495.3 184.5,496.5 184.8,497.7 185.2,497.3 185.5,496.1 185.9,494.8 186.2,494.1 186.6,494.3 186.9,494.5 187.3,494.8 187.6,494.5 188.0,494.4 188.3,494.6 188.7,494.6 189.0,494.5 189.4,494.0 189.7,494.4 190.1,494.8 190.4,494.1 190.8,494.2 191.1,494.4 191.5,494.2 191.8,494.5 192.2,494.2 192.5,494.4 192.9,494.6 193.2,494.7 193.6,495.0 193.9,494.7 194.3,494.7 194.6,495.0 195.0,494.7 195.3,494.1 195.7,494.2 196.0,494.6 196.4,495.0 196.7,494.7 197.1,494.6 197.4,494.2 197.8,494.5 198.1,494.8 198.5,494.5 198.8,494.5 199.2,494.6 199.5,494.6 199.9,494.5 200.2,494.5 200.6,494.4 200.9,494.2 201.3,494.4 201.6,494.7 202.0,494.7 202.3,495.0 202.7,494.5 203.0,493.8 203.4,494.0 203.7,494.7 204.1,494.8 204.4,494.1 204.8,494.4 205.1,495.0 205.5,494.3 205.8,494.0 206.2,494.3 206.5,494.4 206.9,494.3 207.2,494.6 207.6,494.6 207.9,494.8 208.3,494.8 208.6,494.8 209.0,494.7 209.3,494.1 209.7,493.8 210.0,493.8 210.4,494.3 210.7,494.7 211.1,493.9 211.4,493.7 211.8,494.3 212.1,494.4 212.5,494.5 212.8,494.4 213.2,495.0 213.5,495.1 213.9,494.7 214.2,495.0 214.6,495.0 214.9,494.2 215.3,491.7 215.6,487.4 216.0,482.0 216.3,479.0 216.7,480.9 217.0,484.4 217.4,485.9 217.7,483.3 218.1,480.6 218.4,482.3 218.8,486.7 219.1,491.7 219.5,495.1 219.8,496.4 220.2,496.6 220.5,496.6 220.9,496.6 221.2,496.8 221.6,497.3 221.9,496.3 222.3,493.9 222.6,489.9 223.0,485.9 223.3,484.7 223.7,487.3 224.0,491.5 224.4,495.4 224.7,497.8 225.1,498.7 225.4,499.8 225.8,500.7 226.1,502.0 226.5,502.8 226.8,501.8 227.2,500.7 227.5,500.0 227.9,499.1 228.2,499.2 228.6,499.0 228.9,498.9 229.3,498.8 229.6,498.6 230.0,498.5 230.3,496.8 230.7,496.1 231.0,496.5 231.4,496.9 231.7,498.2 232.1,498.9 232.4,499.4 232.8,500.1 233.1,500.4 233.5,500.3 233.8,500.1" fill="none" stroke="#58c0e8" stroke-width="1.0" stroke-linejoin="round"/>
<rect x="162.7" y="277.4" width="5" height="240.30000000000007" fill="#858585" opacity="0.5"/>
<g font-family='"Liberation Sans", sans-serif' font-size="5.75"><text x="66" y="294.8" fill="#a84420">1 AT 2017be +33d</text><text x="66" y="312.9" fill="#237a14">2 NGC 300 OT +32d</text><text x="66" y="329.5" fill="#e0a060">3 PTF10fqs +17d</text><text x="66" y="348.9" fill="#3a1a0a">4 AT2019abn +13.5</text><text x="66" y="368.6" fill="#1a14d8">5 SN 2008S +29d</text><text x="66" y="387.3" fill="#e8d048">6 AT 2013lb +33d</text><text x="66" y="403.3" fill="#c0c020">7 AT 2012jc +25d</text><text x="66" y="424.9" fill="#6b6b10">8 AT 2010dn +10d</text><text x="66" y="443.9" fill="#d070b8">9 AT 2018aes +23d</text><text x="66" y="484.9" fill="#40b0e0">10 AT 2013la +42d</text></g>
<text x="28.8" y="504.9" font-family='"Liberation Sans", sans-serif' font-size="7.2" fill="#000" stroke="#000" stroke-width="0.18" textLength="131" lengthAdjust="spacingAndGlyphs">0-42 Days Past Their <tspan font-style="italic">R</tspan>/<tspan font-style="italic">r</tspan>-Band Maximum</text>
<rect x="22.4" y="277.4" width="211.7" height="240.30000000000007" fill="none" stroke="#000" stroke-width="1.3"/>
<path d="M26.71,517.7v-3.4M31.02,517.7v-3.4M35.34,517.7v-3.4M39.65,517.7v-3.4M43.96,517.7v-3.4M48.27,517.7v-3.4M52.58,517.7v-3.4M56.9,517.7v-3.4M61.21,517.7v-3.4M65.52,517.7v-5.6M69.83,517.7v-3.4M74.14,517.7v-3.4M78.46,517.7v-3.4M82.77,517.7v-3.4M87.08,517.7v-3.4M91.39,517.7v-3.4M95.7,517.7v-3.4M100.02,517.7v-3.4M104.33,517.7v-3.4M108.64,517.7v-5.6M112.95,517.7v-3.4M117.26,517.7v-3.4M121.58,517.7v-3.4M125.89,517.7v-3.4M130.2,517.7v-3.4M134.51,517.7v-3.4M138.82,517.7v-3.4M143.14,517.7v-3.4M147.45,517.7v-3.4M151.76,517.7v-5.6M156.07,517.7v-3.4M160.38,517.7v-3.4M164.7,517.7v-3.4M169.01,517.7v-3.4M173.32,517.7v-3.4M177.63,517.7v-3.4M181.94,517.7v-3.4M186.26,517.7v-3.4M190.57,517.7v-3.4M194.88,517.7v-5.6M199.19,517.7v-3.4M203.5,517.7v-3.4M207.82,517.7v-3.4M212.13,517.7v-3.4M216.44,517.7v-3.4M220.75,517.7v-3.4M225.06,517.7v-3.4M229.38,517.7v-3.4M233.69,517.7v-3.4M22.4,304.1h5.4M22.4,345.4h5.4M22.4,386.7h5.4M22.4,428h5.4M22.4,469.3h5.4M22.4,510.6h5.4" stroke="#000" stroke-width="1.25" fill="none"/>
<g font-family='"Liberation Sans", sans-serif' font-size="10.1" fill="#000" stroke="#000" stroke-width="0.18"><text x="22.4" y="530.1" text-anchor="middle" textLength="22.6" lengthAdjust="spacingAndGlyphs">4000</text><text x="65.52" y="530.1" text-anchor="middle" textLength="22.6" lengthAdjust="spacingAndGlyphs">5000</text><text x="108.64" y="530.1" text-anchor="middle" textLength="22.6" lengthAdjust="spacingAndGlyphs">6000</text><text x="151.76" y="530.1" text-anchor="middle" textLength="22.6" lengthAdjust="spacingAndGlyphs">7000</text><text x="194.88" y="530.1" text-anchor="middle" textLength="22.6" lengthAdjust="spacingAndGlyphs">8000</text></g>
<text x="127.6" y="545.2" text-anchor="middle" font-family='"Liberation Sans", sans-serif' font-size="10.2" stroke="#000" stroke-width="0.18" textLength="93.5" lengthAdjust="spacingAndGlyphs">Rest Wavelength (Å)</text>
<text transform="translate(13.8,397.5) rotate(-90)" text-anchor="middle" font-family='"Liberation Sans", sans-serif' font-size="9.9" stroke="#000" stroke-width="0.18" textLength="159" lengthAdjust="spacingAndGlyphs">Log(F<tspan font-size="6.5" dy="2">λ</tspan><tspan dy="-2">) + const. (erg s</tspan><tspan font-size="6.5" dy="-3.5">−1</tspan><tspan dy="3.5"> cm</tspan><tspan font-size="6.5" dy="-3.5">−2</tspan><tspan dy="3.5"> Å</tspan><tspan font-size="6.5" dy="-3.5">−1</tspan><tspan dy="3.5">)</tspan></text>
<path d="M277.57,277.4V517.7M288.93,277.4V517.7" stroke="#444" stroke-width="0.6" stroke-dasharray="1.6,1.3"/>
<rect x="245.5" y="299.8" width="70.10000000000002" height="10.9" fill="#fef3f9"/>
<rect x="245.5" y="312" width="70.10000000000002" height="10" fill="#f5fcf9"/>
<rect x="261" y="468" width="54.60000000000002" height="17.6" fill="#fdeef7"/>
<rect x="271" y="487.8" width="24" height="8.7" fill="#dcf6fb"/>
<rect x="245.5" y="495.4" width="70.10000000000002" height="8.7" fill="#e2f7fb"/>
<path d="M246.0,305.3 246.5,305.7 247.0,306.0 247.5,305.5 248.0,305.1 248.5,305.1 249.0,305.3 249.5,305.4 250.0,305.5 250.5,305.0 251.0,305.2 251.5,305.7 252.0,305.5 252.5,305.4 253.0,305.2 253.5,305.3 254.0,305.7 254.5,305.5 255.0,305.2 255.5,305.4 256.0,305.2 256.5,304.6 257.0,305.0 257.5,305.2 258.0,304.6 258.5,304.5 259.0,304.9 259.5,304.8 260.0,304.6 260.5,304.9 261.0,305.6 261.5,305.5 262.0,305.0 262.5,305.2 263.0,305.6 263.5,305.4 264.0,305.4 264.5,305.7 265.0,305.5 265.5,305.0 266.0,305.2 266.5,305.5 267.0,305.7 267.5,305.2 268.0,304.8 268.5,304.9 269.0,304.6 269.5,304.9 270.0,305.5 270.5,305.2 271.0,305.4 271.5,305.8 272.0,305.6 272.5,305.4 273.0,305.3 273.5,304.7 274.0,304.3 274.5,304.5 275.0,303.5 275.5,303.0 276.0,303.0 276.5,302.8 277.0,302.5 277.5,302.2 278.0,302.4 278.5,302.4 279.0,302.8 279.5,303.4 280.0,303.8 280.5,304.1 281.0,304.6 281.5,305.1 282.0,305.0 282.5,305.2 283.0,305.6 283.5,306.0 284.0,305.1 284.5,304.8 285.0,305.2 285.5,304.7 286.0,304.1 286.5,304.2 287.0,303.8 287.5,303.3 288.0,303.8 288.5,303.1 289.0,302.6 289.5,302.7 290.0,303.1 290.5,304.1 291.0,304.9 291.5,304.3 292.0,303.8 292.5,304.7 293.0,305.5 293.5,305.6 294.0,305.1 294.5,305.2 295.0,305.6 295.5,305.8 296.0,306.0 296.5,306.7 297.0,307.4 297.5,307.4 298.0,307.0 298.5,306.2 299.0,305.6 299.5,305.9 300.0,305.8 300.5,304.9 301.0,305.3 301.5,305.8 302.0,306.0 302.5,305.9 303.0,305.2 303.5,304.8 304.0,305.3 304.5,306.4 305.0,305.8 305.5,304.9 306.0,305.3 306.5,305.2 307.0,305.0 307.5,305.1 308.0,305.3 308.5,305.7 309.0,305.6 309.5,305.6 310.0,305.4 310.5,305.3 311.0,304.8 311.5,304.3 312.0,305.1 312.5,305.4 313.0,305.3 313.5,305.6 314.0,305.8 314.5,305.9 315.0,305.8" fill="none" stroke="#c06040" stroke-width="1.0" stroke-linejoin="round"/><path d="M246.0,322.7 246.5,322.8 247.0,322.8 247.5,322.7 248.0,322.8 248.5,322.5 249.0,322.1 249.5,322.0 250.0,322.1 250.5,322.4 251.0,322.3 251.5,322.2 252.0,321.9 252.5,321.8 253.0,321.9 253.5,322.1 254.0,322.3 254.5,322.1 255.0,321.9 255.5,321.8 256.0,321.9 256.5,321.8 257.0,321.8 257.5,321.9 258.0,322.0 258.5,322.0 259.0,322.2 259.5,322.2 260.0,322.5 260.5,322.5 261.0,322.6 261.5,322.8 262.0,322.7 262.5,322.7 263.0,322.8 263.5,323.1 264.0,323.2 264.5,323.3 265.0,323.4 265.5,323.8 266.0,324.0 266.5,323.7 267.0,323.8 267.5,323.9 268.0,323.8 268.5,323.9 269.0,323.7 269.5,323.3 270.0,323.3 270.5,323.6 271.0,323.5 271.5,323.3 272.0,323.3 272.5,322.9 273.0,322.5 273.5,322.4 274.0,321.7 274.5,320.9 275.0,320.1 275.5,319.4 276.0,318.5 276.5,317.5 277.0,317.1 277.5,316.7 278.0,316.5 278.5,316.8 279.0,317.7 279.5,318.6 280.0,319.1 280.5,319.5 281.0,320.4 281.5,321.2 282.0,321.7 282.5,322.1 283.0,322.4 283.5,322.3 284.0,322.0 284.5,321.5 285.0,320.8 285.5,320.5 286.0,320.1 286.5,319.6 287.0,318.9 287.5,318.4 288.0,318.0 288.5,317.3 289.0,317.0 289.5,317.5 290.0,318.0 290.5,318.1 291.0,318.8 291.5,319.6 292.0,320.0 292.5,320.7 293.0,321.3 293.5,321.5 294.0,321.9 294.5,322.4 295.0,322.3 295.5,322.4 296.0,322.2 296.5,322.2 297.0,322.6 297.5,322.6 298.0,322.6 298.5,322.8 299.0,322.9 299.5,323.1 300.0,323.2 300.5,323.1 301.0,323.2 301.5,323.6 302.0,323.5 302.5,323.4 303.0,323.3 303.5,323.4 304.0,323.8 304.5,323.9 305.0,323.9 305.5,323.6 306.0,323.8 306.5,324.2 307.0,324.0 307.5,323.8 308.0,324.1 308.5,324.4 309.0,324.9 309.5,324.9 310.0,324.5 310.5,324.7 311.0,324.7 311.5,324.7 312.0,325.3 312.5,325.5 313.0,325.3 313.5,325.2 314.0,325.5 314.5,325.9 315.0,326.0" fill="none" stroke="#3a8a2a" stroke-width="1.1" stroke-linejoin="round"/><path d="M246.0,346.4 246.5,345.3 247.0,345.0 247.5,346.1 248.0,346.2 248.5,346.4 249.0,346.6 249.5,346.4 250.0,345.6 250.5,345.8 251.0,346.2 251.5,345.9 252.0,345.6 252.5,346.0 253.0,346.4 253.5,346.0 254.0,345.6 254.5,345.2 255.0,345.9 255.5,346.5 256.0,346.3 256.5,346.6 257.0,346.8 257.5,347.2 258.0,346.7 258.5,346.7 259.0,346.2 259.5,346.2 260.0,346.0 260.5,345.7 261.0,346.7 261.5,347.8 262.0,351.5 262.5,354.7 263.0,351.2 263.5,347.6 264.0,346.9 264.5,346.4 265.0,345.7 265.5,346.0 266.0,345.9 266.5,345.5 267.0,345.8 267.5,346.2 268.0,346.6 268.5,346.5 269.0,346.5 269.5,346.2 270.0,346.3 270.5,347.0 271.0,346.8 271.5,346.9 272.0,348.3 272.5,351.6 273.0,354.0 273.5,351.9 274.0,348.6 274.5,347.4 275.0,346.9 275.5,346.2 276.0,345.6 276.5,343.0 277.0,335.6 277.5,329.0 278.0,332.9 278.5,340.9 279.0,344.0 279.5,342.3 280.0,340.8 280.5,340.9 281.0,341.1 281.5,342.3 282.0,344.6 282.5,345.8 283.0,345.6 283.5,346.4 284.0,346.8 284.5,346.7 285.0,346.5 285.5,346.4 286.0,346.9 286.5,346.2 287.0,345.4 287.5,345.6 288.0,342.6 288.5,334.4 289.0,330.2 289.5,335.8 290.0,342.3 290.5,344.2 291.0,344.9 291.5,344.5 292.0,344.2 292.5,344.3 293.0,344.7 293.5,346.0 294.0,346.0 294.5,345.7 295.0,346.3 295.5,346.6 296.0,347.2 296.5,347.3 297.0,346.2 297.5,345.9 298.0,346.0 298.5,345.8 299.0,346.8 299.5,346.7 300.0,346.1 300.5,346.2 301.0,346.4 301.5,346.7 302.0,346.5 302.5,346.3 303.0,346.6 303.5,346.3 304.0,345.6 304.5,345.5 305.0,346.2 305.5,346.5 306.0,345.6 306.5,345.6 307.0,346.8 307.5,346.9 308.0,346.3 308.5,346.5 309.0,346.1 309.5,345.7 310.0,345.6 310.5,345.7 311.0,345.0 311.5,346.0 312.0,347.1 312.5,346.2 313.0,345.8 313.5,345.4 314.0,345.8 314.5,346.0 315.0,345.8" fill="none" stroke="#d4a050" stroke-width="1.2" stroke-linejoin="round"/><path d="M246.0,364.9 246.5,364.8 247.0,364.4 247.5,364.1 248.0,364.3 248.5,364.9 249.0,365.0 249.5,364.9 250.0,365.1 250.5,364.8 251.0,365.1 251.5,365.1 252.0,364.8 252.5,365.3 253.0,365.2 253.5,364.8 254.0,364.8 254.5,364.8 255.0,364.6 255.5,364.4 256.0,365.0 256.5,365.1 257.0,364.8 257.5,364.9 258.0,365.0 258.5,364.9 259.0,365.0 259.5,364.7 260.0,364.7 260.5,364.9 261.0,364.9 261.5,365.0 262.0,364.7 262.5,364.7 263.0,364.7 263.5,364.9 264.0,365.0 264.5,365.0 265.0,364.8 265.5,365.0 266.0,365.1 266.5,365.1 267.0,365.2 267.5,364.9 268.0,364.8 268.5,364.9 269.0,364.9 269.5,365.2 270.0,365.2 270.5,365.2 271.0,364.9 271.5,364.7 272.0,364.9 272.5,365.0 273.0,364.7 273.5,364.5 274.0,364.5 274.5,363.9 275.0,363.4 275.5,363.4 276.0,363.0 276.5,362.5 277.0,362.7 277.5,362.8 278.0,362.7 278.5,362.8 279.0,363.0 279.5,363.2 280.0,363.6 280.5,364.0 281.0,364.5 281.5,364.6 282.0,364.6 282.5,364.7 283.0,364.6 283.5,364.7 284.0,365.0 284.5,364.7 285.0,364.6 285.5,364.5 286.0,364.3 286.5,364.4 287.0,363.9 287.5,363.2 288.0,363.0 288.5,363.0 289.0,362.8 289.5,363.0 290.0,363.6 290.5,363.8 291.0,363.9 291.5,363.9 292.0,364.1 292.5,364.4 293.0,364.7 293.5,365.0 294.0,365.0 294.5,365.2 295.0,365.2 295.5,365.4 296.0,365.5 296.5,365.4 297.0,365.4 297.5,365.5 298.0,365.7 298.5,365.7 299.0,365.7 299.5,365.6 300.0,365.4 300.5,365.3 301.0,365.5 301.5,365.6 302.0,365.3 302.5,365.7 303.0,365.8 303.5,365.5 304.0,365.8 304.5,365.9 305.0,365.9 305.5,365.9 306.0,365.9 306.5,366.2 307.0,366.1 307.5,366.2 308.0,366.2 308.5,365.9 309.0,366.0 309.5,366.2 310.0,366.2 310.5,366.0 311.0,366.1 311.5,366.4 312.0,366.3 312.5,366.0 313.0,366.0 313.5,366.4 314.0,366.3 314.5,366.3 315.0,366.1" fill="none" stroke="#6a4028" stroke-width="1.0" stroke-linejoin="round"/><path d="M246.0,390.7 246.5,390.4 247.0,390.5 247.5,390.4 248.0,390.3 248.5,390.4 249.0,390.0 249.5,389.9 250.0,389.9 250.5,389.9 251.0,389.9 251.5,389.4 252.0,389.2 252.5,389.2 253.0,389.1 253.5,389.1 254.0,389.1 254.5,389.2 255.0,389.3 255.5,389.1 256.0,388.8 256.5,388.7 257.0,389.0 257.5,389.4 258.0,389.6 258.5,389.5 259.0,389.4 259.5,389.4 260.0,389.4 260.5,389.2 261.0,389.5 261.5,389.8 262.0,389.7 262.5,389.9 263.0,390.1 263.5,389.9 264.0,390.1 264.5,390.5 265.0,390.4 265.5,390.2 266.0,390.0 266.5,389.9 267.0,390.1 267.5,390.4 268.0,390.3 268.5,390.5 269.0,390.7 269.5,390.5 270.0,390.5 270.5,390.0 271.0,389.6 271.5,389.4 272.0,388.6 272.5,388.4 273.0,388.7 273.5,388.6 274.0,388.0 274.5,386.4 275.0,384.3 275.5,382.1 276.0,379.5 276.5,377.2 277.0,375.6 277.5,374.9 278.0,375.0 278.5,376.6 279.0,379.2 279.5,381.6 280.0,383.7 280.5,385.6 281.0,387.4 281.5,388.3 282.0,389.0 282.5,389.4 283.0,389.7 283.5,390.0 284.0,389.7 284.5,389.1 285.0,388.6 285.5,387.8 286.0,386.4 286.5,385.1 287.0,383.4 287.5,381.2 288.0,379.9 288.5,379.4 289.0,379.3 289.5,379.7 290.0,381.0 290.5,382.5 291.0,384.3 291.5,386.4 292.0,387.6 292.5,388.5 293.0,389.2 293.5,389.5 294.0,390.1 294.5,390.3 295.0,390.4 295.5,390.7 296.0,390.7 296.5,390.8 297.0,391.1 297.5,391.0 298.0,390.9 298.5,391.1 299.0,390.9 299.5,390.6 300.0,390.4 300.5,390.5 301.0,391.1 301.5,391.1 302.0,391.3 302.5,391.5 303.0,391.3 303.5,391.1 304.0,390.8 304.5,390.7 305.0,390.3 305.5,389.5 306.0,389.5 306.5,390.4 307.0,391.1 307.5,391.1 308.0,390.9 308.5,390.8 309.0,390.1 309.5,389.9 310.0,390.5 310.5,391.1 311.0,391.3 311.5,391.7 312.0,392.0 312.5,391.9 313.0,391.7 313.5,391.5 314.0,391.9 314.5,392.1 315.0,392.0" fill="none" stroke="#3030d0" stroke-width="1.3" stroke-linejoin="round"/><path d="M246.0,408.3 246.5,408.5 247.0,409.1 247.5,409.2 248.0,409.5 248.5,409.0 249.0,408.6 249.5,408.6 250.0,407.9 250.5,407.8 251.0,408.3 251.5,408.2 252.0,408.1 252.5,408.8 253.0,409.1 253.5,408.9 254.0,408.8 254.5,408.6 255.0,407.8 255.5,408.2 256.0,408.3 256.5,408.0 257.0,408.5 257.5,408.5 258.0,408.6 258.5,408.5 259.0,408.7 259.5,408.4 260.0,408.3 260.5,408.2 261.0,408.3 261.5,408.7 262.0,408.5 262.5,409.2 263.0,408.3 263.5,407.6 264.0,408.6 264.5,409.0 265.0,409.3 265.5,409.2 266.0,408.9 266.5,408.7 267.0,408.6 267.5,408.6 268.0,408.9 268.5,408.9 269.0,408.8 269.5,409.3 270.0,409.5 270.5,408.8 271.0,408.3 271.5,408.6 272.0,408.4 272.5,407.3 273.0,407.0 273.5,407.5 274.0,407.4 274.5,406.6 275.0,406.4 275.5,405.5 276.0,405.4 276.5,405.3 277.0,404.0 277.5,404.6 278.0,404.4 278.5,403.8 279.0,404.7 279.5,405.1 280.0,405.6 280.5,406.7 281.0,407.4 281.5,407.6 282.0,408.2 282.5,409.1 283.0,409.4 283.5,408.0 284.0,407.8 284.5,408.6 285.0,408.0 285.5,407.0 286.0,406.1 286.5,405.8 287.0,404.9 287.5,404.8 288.0,405.1 288.5,404.4 289.0,403.7 289.5,404.3 290.0,405.2 290.5,405.6 291.0,405.8 291.5,406.9 292.0,407.6 292.5,407.9 293.0,407.7 293.5,407.4 294.0,408.3 294.5,407.5 295.0,407.3 295.5,407.8 296.0,407.6 296.5,407.7 297.0,407.8 297.5,408.2 298.0,408.8 298.5,408.8 299.0,408.3 299.5,408.0 300.0,408.9 300.5,409.0 301.0,408.4 301.5,408.3 302.0,408.5 302.5,409.0 303.0,409.1 303.5,408.9 304.0,408.9 304.5,408.7 305.0,408.6 305.5,408.4 306.0,408.2 306.5,408.8 307.0,408.4 307.5,408.4 308.0,408.9 308.5,408.2 309.0,407.5 309.5,407.3 310.0,407.6 310.5,408.2 311.0,408.7 311.5,409.0 312.0,409.7 312.5,409.1 313.0,407.6 313.5,407.3 314.0,407.3 314.5,407.5 315.0,408.1" fill="none" stroke="#e0e060" stroke-width="1.3" stroke-linejoin="round"/><path d="M246.0,436.2 246.5,436.1 247.0,435.7 247.5,435.3 248.0,434.9 248.5,434.9 249.0,435.0 249.5,434.6 250.0,434.6 250.5,434.6 251.0,434.1 251.5,434.1 252.0,434.0 252.5,434.0 253.0,434.3 253.5,433.7 254.0,433.7 254.5,433.6 255.0,433.3 255.5,433.2 256.0,433.1 256.5,433.2 257.0,432.8 257.5,432.5 258.0,432.6 258.5,432.7 259.0,432.2 259.5,432.5 260.0,432.5 260.5,431.7 261.0,431.8 261.5,432.2 262.0,432.7 262.5,432.5 263.0,432.1 263.5,432.1 264.0,432.1 264.5,432.0 265.0,431.8 265.5,431.8 266.0,432.0 266.5,431.5 267.0,431.4 267.5,431.8 268.0,431.9 268.5,431.8 269.0,431.4 269.5,431.4 270.0,431.7 270.5,431.7 271.0,431.3 271.5,431.5 272.0,431.2 272.5,430.4 273.0,430.0 273.5,429.4 274.0,428.6 274.5,427.3 275.0,425.6 275.5,424.4 276.0,423.5 276.5,422.3 277.0,421.4 277.5,421.4 278.0,421.7 278.5,422.3 279.0,423.1 279.5,424.2 280.0,425.4 280.5,427.0 281.0,428.2 281.5,429.2 282.0,430.0 282.5,430.8 283.0,431.1 283.5,431.0 284.0,431.0 284.5,430.4 285.0,430.1 285.5,429.4 286.0,429.1 286.5,428.4 287.0,427.0 287.5,426.4 288.0,426.1 288.5,425.4 289.0,425.3 289.5,425.7 290.0,426.2 290.5,426.9 291.0,427.5 291.5,428.1 292.0,429.1 292.5,429.9 293.0,430.1 293.5,430.4 294.0,430.9 294.5,431.2 295.0,431.9 295.5,432.0 296.0,431.7 296.5,432.1 297.0,432.2 297.5,432.0 298.0,432.1 298.5,432.1 299.0,431.9 299.5,432.0 300.0,432.0 300.5,431.8 301.0,431.5 301.5,431.6 302.0,432.0 302.5,432.0 303.0,432.0 303.5,432.1 304.0,431.8 304.5,431.3 305.0,431.4 305.5,431.8 306.0,431.5 306.5,431.6 307.0,431.9 307.5,431.9 308.0,431.8 308.5,431.7 309.0,431.8 309.5,431.9 310.0,432.0 310.5,431.6 311.0,431.6 311.5,431.8 312.0,431.8 312.5,431.5 313.0,431.7 313.5,431.9 314.0,431.9 314.5,432.0 315.0,431.7" fill="none" stroke="#c8d040" stroke-width="1.1" stroke-linejoin="round"/><path d="M246.0,462.3 246.5,461.9 247.0,462.3 247.5,462.3 248.0,462.7 248.5,463.3 249.0,462.6 249.5,462.5 250.0,463.1 250.5,463.8 251.0,463.1 251.5,462.5 252.0,463.0 252.5,462.6 253.0,462.8 253.5,463.0 254.0,463.0 254.5,462.7 255.0,462.4 255.5,462.7 256.0,462.7 256.5,462.6 257.0,462.4 257.5,462.4 258.0,462.7 258.5,462.6 259.0,462.6 259.5,462.8 260.0,462.6 260.5,462.6 261.0,462.8 261.5,462.6 262.0,462.6 262.5,462.9 263.0,463.2 263.5,462.9 264.0,462.6 264.5,463.1 265.0,463.4 265.5,462.5 266.0,462.4 266.5,462.7 267.0,462.9 267.5,462.9 268.0,462.5 268.5,462.9 269.0,462.6 269.5,461.8 270.0,462.2 270.5,462.5 271.0,462.6 271.5,462.8 272.0,463.1 272.5,462.7 273.0,463.3 273.5,463.9 274.0,462.8 274.5,462.5 275.0,462.5 275.5,461.9 276.0,460.8 276.5,455.3 277.0,443.0 277.5,434.1 278.0,439.5 278.5,452.5 279.0,460.0 279.5,462.7 280.0,463.0 280.5,462.4 281.0,462.8 281.5,463.1 282.0,463.2 282.5,463.1 283.0,463.1 283.5,463.3 284.0,462.8 284.5,462.9 285.0,463.0 285.5,462.5 286.0,462.6 286.5,462.8 287.0,462.6 287.5,460.8 288.0,453.4 288.5,441.6 289.0,436.8 289.5,444.6 290.0,456.3 290.5,462.1 291.0,462.9 291.5,463.3 292.0,462.9 292.5,462.5 293.0,463.2 293.5,462.8 294.0,462.3 294.5,463.4 295.0,463.8 295.5,463.0 296.0,462.9 296.5,463.4 297.0,463.2 297.5,463.0 298.0,463.3 298.5,463.3 299.0,463.7 299.5,463.7 300.0,463.2 300.5,463.3 301.0,463.2 301.5,462.9 302.0,463.0 302.5,463.0 303.0,463.6 303.5,464.5 304.0,463.8 304.5,462.4 305.0,462.4 305.5,463.4 306.0,463.3 306.5,463.4 307.0,463.8 307.5,463.4 308.0,463.1 308.5,463.0 309.0,463.0 309.5,462.9 310.0,462.9 310.5,463.7 311.0,463.8 311.5,463.7 312.0,463.9 312.5,463.1 313.0,463.0 313.5,463.3 314.0,463.0 314.5,463.0 315.0,463.7" fill="none" stroke="#7a7a20" stroke-width="1.1" stroke-linejoin="round"/><path d="M246.0,483.3 246.5,483.5 247.0,483.6 247.5,483.4 248.0,483.4 248.5,483.3 249.0,483.3 249.5,483.4 250.0,483.4 250.5,483.6 251.0,483.4 251.5,483.4 252.0,483.6 252.5,483.4 253.0,483.6 253.5,483.9 254.0,483.4 254.5,483.1 255.0,483.4 255.5,483.6 256.0,483.4 256.5,483.5 257.0,483.7 257.5,483.4 258.0,483.3 258.5,483.4 259.0,483.2 259.5,483.1 260.0,483.1 260.5,483.2 261.0,483.5 261.5,483.4 262.0,483.3 262.5,483.4 263.0,483.3 263.5,483.4 264.0,483.2 264.5,483.2 265.0,483.2 265.5,483.4 266.0,483.6 266.5,483.7 267.0,483.5 267.5,483.5 268.0,483.7 268.5,483.6 269.0,483.6 269.5,483.7 270.0,484.0 270.5,483.9 271.0,483.7 271.5,483.2 272.0,483.2 272.5,483.4 273.0,483.1 273.5,482.7 274.0,482.2 274.5,481.1 275.0,479.4 275.5,477.5 276.0,475.7 276.5,474.2 277.0,472.9 277.5,472.2 278.0,472.4 278.5,473.3 279.0,475.2 279.5,477.4 280.0,478.8 280.5,480.2 281.0,481.8 281.5,482.9 282.0,483.1 282.5,483.6 283.0,484.0 283.5,483.8 284.0,483.5 284.5,482.9 285.0,482.7 285.5,482.5 286.0,481.5 286.5,479.8 287.0,478.3 287.5,476.8 288.0,474.9 288.5,474.1 289.0,473.8 289.5,474.2 290.0,475.9 290.5,477.5 291.0,479.3 291.5,480.8 292.0,481.4 292.5,482.3 293.0,483.1 293.5,483.3 294.0,483.1 294.5,483.3 295.0,483.5 295.5,483.5 296.0,483.6 296.5,483.8 297.0,483.9 297.5,484.0 298.0,483.8 298.5,483.8 299.0,483.6 299.5,483.5 300.0,483.5 300.5,483.3 301.0,483.7 301.5,483.7 302.0,483.8 302.5,484.2 303.0,484.1 303.5,483.8 304.0,483.5 304.5,483.5 305.0,483.6 305.5,483.6 306.0,483.6 306.5,483.6 307.0,483.7 307.5,483.6 308.0,483.6 308.5,484.0 309.0,483.8 309.5,483.8 310.0,484.2 310.5,484.1 311.0,483.7 311.5,483.6 312.0,483.6 312.5,483.5 313.0,483.5 313.5,483.6 314.0,483.7 314.5,483.7 315.0,484.0" fill="none" stroke="#c888b8" stroke-width="1.0" stroke-linejoin="round"/><path d="M246.0,499.8 246.5,499.9 247.0,500.2 247.5,500.1 248.0,500.0 248.5,499.9 249.0,499.7 249.5,499.7 250.0,499.6 250.5,499.8 251.0,499.8 251.5,499.6 252.0,499.3 252.5,498.9 253.0,498.5 253.5,498.3 254.0,498.3 254.5,498.2 255.0,498.0 255.5,498.1 256.0,498.2 256.5,498.6 257.0,498.9 257.5,499.1 258.0,499.8 258.5,499.7 259.0,499.5 259.5,499.8 260.0,500.1 260.5,500.0 261.0,500.0 261.5,500.3 262.0,500.3 262.5,500.1 263.0,500.1 263.5,500.6 264.0,500.6 264.5,500.4 265.0,500.2 265.5,500.0 266.0,500.2 266.5,500.7 267.0,500.7 267.5,500.2 268.0,500.1 268.5,500.4 269.0,500.4 269.5,500.5 270.0,500.3 270.5,500.0 271.0,500.2 271.5,500.2 272.0,499.8 272.5,499.3 273.0,498.7 273.5,497.7 274.0,496.8 274.5,495.8 275.0,494.3 275.5,493.3 276.0,492.7 276.5,491.9 277.0,491.3 277.5,491.0 278.0,490.7 278.5,491.2 279.0,492.4 279.5,493.0 280.0,494.0 280.5,495.4 281.0,496.7 281.5,497.8 282.0,498.5 282.5,499.0 283.0,499.2 283.5,499.0 284.0,499.1 284.5,499.1 285.0,498.6 285.5,498.0 286.0,497.2 286.5,496.5 287.0,495.9 287.5,495.0 288.0,494.2 288.5,493.7 289.0,493.7 289.5,494.1 290.0,494.9 290.5,495.4 291.0,496.2 291.5,497.2 292.0,498.2 292.5,498.9 293.0,499.5 293.5,500.0 294.0,500.2 294.5,500.2 295.0,500.6 295.5,501.2 296.0,501.6 296.5,501.5 297.0,501.3 297.5,501.4 298.0,501.1 298.5,501.2 299.0,501.5 299.5,501.3 300.0,501.6 300.5,501.7 301.0,501.5 301.5,501.6 302.0,501.5 302.5,501.5 303.0,501.7 303.5,501.6 304.0,501.3 304.5,501.7 305.0,501.9 305.5,501.6 306.0,501.6 306.5,501.5 307.0,501.5 307.5,501.8 308.0,501.6 308.5,501.6 309.0,502.0 309.5,501.9 310.0,501.8 310.5,501.8 311.0,501.8 311.5,501.6 312.0,501.9 312.5,502.0 313.0,501.9 313.5,501.9 314.0,502.0 314.5,502.1 315.0,501.9" fill="none" stroke="#60b0e0" stroke-width="1.0" stroke-linejoin="round"/>
<g font-family='"Liberation Sans", sans-serif' font-size="7.4" stroke-width="0.15"><text x="263.1" stroke="#a06040" y="300.9" fill="#a06040" >1</text><text x="263.1" stroke="#3a8a2a" y="319.5" fill="#3a8a2a" >2</text><text x="263.1" stroke="#303050" y="342.4" fill="#303050" >3</text><text x="263.1" stroke="#5a4030" y="364.8" fill="#5a4030" >4</text><text x="263.1" stroke="#3030d0" y="386.7" fill="#3030d0" >5</text><text x="263.1" stroke="#e0e070" y="406.3" fill="#e0e070" >6</text><text x="263.1" stroke="#c0c840" y="427.5" fill="#c0c840" >7</text><text x="263.1" stroke="#6e7018" y="462.4" fill="#6e7018" >8</text><text x="263.1" stroke="#c888b8" y="481.2" fill="#c888b8" >9</text><text x="263.2" stroke="#50b8e0" y="495.4" fill="#50b8e0" textLength="7.8" lengthAdjust="spacingAndGlyphs">10</text></g>
<text x="255.6" y="288.8" font-family='"Liberation Sans", sans-serif' font-size="9.4" fill="#000" stroke="#000" stroke-width="0.18" textLength="55.2" lengthAdjust="spacingAndGlyphs">[Ca II] doublet</text>
<rect x="245.5" y="277.4" width="70.10000000000002" height="240.30000000000007" fill="none" stroke="#000" stroke-width="1.3"/>
<path d="M249,517.7v-3.4M252.51,517.7v-3.4M256.01,517.7v-3.4M259.52,517.7v-3.4M263.02,517.7v-3.4M266.53,517.7v-3.4M270.04,517.7v-3.4M273.54,517.7v-3.4M277.05,517.7v-3.4M280.55,517.7v-5.6M284.06,517.7v-3.4M287.56,517.7v-3.4M291.06,517.7v-3.4M294.57,517.7v-3.4M298.07,517.7v-3.4M301.58,517.7v-3.4M305.08,517.7v-3.4M308.59,517.7v-3.4M312.1,517.7v-3.4M245.5,284.8h3.4M245.5,322.45h3.4M245.5,360.1h3.4M245.5,397.75h3.4M245.5,435.4h3.4M245.5,473.05h3.4M245.5,510.7h3.4" stroke="#000" stroke-width="1.25" fill="none"/>
<g font-family='"Liberation Sans", sans-serif' font-size="10.1" fill="#000" stroke="#000" stroke-width="0.18"><text x="245.5" y="530.1" text-anchor="middle" textLength="22.6" lengthAdjust="spacingAndGlyphs">7200</text><text x="280.55" y="530.1" text-anchor="middle" textLength="22.6" lengthAdjust="spacingAndGlyphs">7300</text><text x="315.6" y="530.1" text-anchor="middle" textLength="22.6" lengthAdjust="spacingAndGlyphs">7400</text></g>
<text x="280.6" y="545.2" text-anchor="middle" font-family='"Liberation Sans", sans-serif' font-size="10.2" stroke="#000" stroke-width="0.18" textLength="93.5" lengthAdjust="spacingAndGlyphs">Rest Wavelength (Å)</text>
</svg>
</body></html>
